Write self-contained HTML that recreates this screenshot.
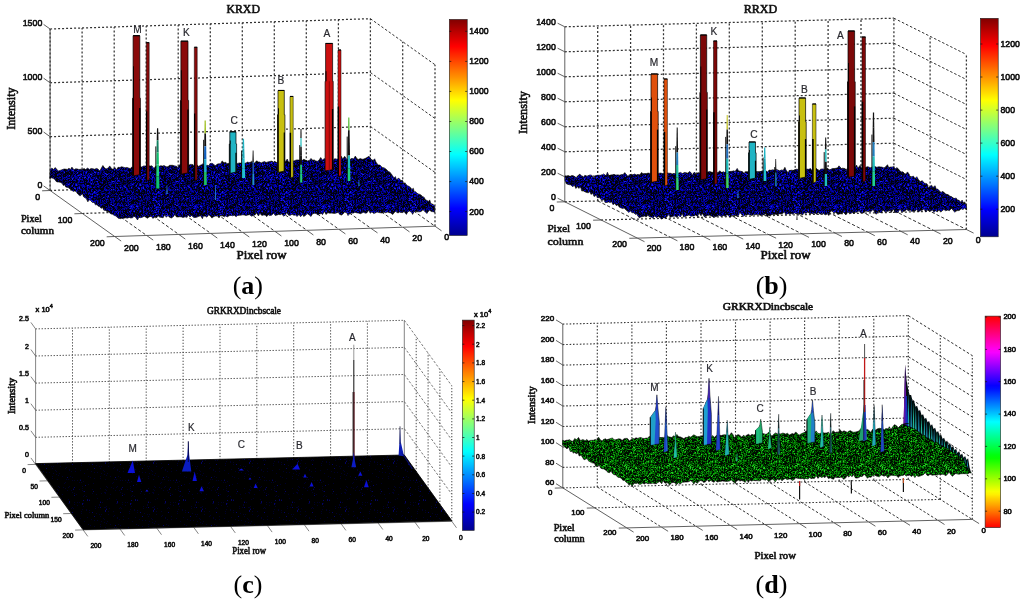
<!DOCTYPE html><html><head><meta charset="utf-8"><title>Figure</title><style>
html,body{margin:0;padding:0;background:#fff}svg{display:block}
.dot{stroke:#333;stroke-width:1.25;stroke-dasharray:2 2;fill:none}
.dash{stroke:#333;stroke-width:1;stroke-dasharray:2.5 2;fill:none}.fl{stroke-dasharray:3.2 2.1}
.sol{stroke:#444;stroke-width:0.85;fill:none}
.sans{font-family:'Liberation Sans', sans-serif}.serif{font-family:'Liberation Serif', serif}
.lt .dot{stroke:#4a4a4a;stroke-width:1;stroke-dasharray:1.3 1.7}.lt .dash{stroke:#555;stroke-width:0.8;stroke-dasharray:2.4 1.8}.lt .sol{stroke:#666;stroke-width:0.8}
.md .dot{stroke:#3a3a3a;stroke-width:1.1;stroke-dasharray:1.6 1.8}.md .dash{stroke-dasharray:2.6 2}.md .fl{stroke-dasharray:2.5 2}
text{stroke-width:0.6px;stroke-linejoin:round}
.sans{stroke:#111}.serif{stroke:#111;stroke-width:0.6px}.cap{stroke:none}
</style></head><body>
<svg width="1024" height="602" viewBox="0 0 1024 602">
<rect width="1024" height="602" fill="#fff"/>
<defs>
<pattern id="nzb" patternUnits="userSpaceOnUse" width="64" height="64" shape-rendering="crispEdges">
<rect width="64" height="64" fill="#00000a"/>
<path d="M0 0.5h1M3 0.5h1M12 0.5h1M14 0.5h2M17 0.5h1M19 0.5h1M22 0.5h1M24 0.5h1M36 0.5h2M41 0.5h1M44 0.5h1M46 0.5h1M49 0.5h1M52 0.5h1M54 0.5h1M63 0.5h1M6 1.5h2M9 1.5h2M17 1.5h1M21 1.5h1M27 1.5h1M34 1.5h1M41 1.5h1M43 1.5h1M46 1.5h2M58 1.5h2M63 1.5h1M4 2.5h1M35 2.5h1M45 2.5h2M49 2.5h1M62 2.5h1M1 3.5h1M4 3.5h1M7 3.5h1M10 3.5h1M14 3.5h3M18 3.5h1M25 3.5h1M28 3.5h1M32 3.5h1M38 3.5h1M43 3.5h1M48 3.5h2M59 3.5h1M61 3.5h2M5 4.5h1M7 4.5h1M10 4.5h1M19 4.5h1M21 4.5h2M32 4.5h2M37 4.5h1M40 4.5h2M46 4.5h5M52 4.5h2M62 4.5h2M1 5.5h1M3 5.5h1M5 5.5h2M11 5.5h1M18 5.5h1M20 5.5h1M23 5.5h1M25 5.5h2M34 5.5h3M41 5.5h1M44 5.5h2M51 5.5h1M53 5.5h2M3 6.5h1M5 6.5h1M8 6.5h1M11 6.5h1M13 6.5h1M15 6.5h2M20 6.5h2M27 6.5h1M29 6.5h1M31 6.5h1M33 6.5h1M37 6.5h1M43 6.5h1M47 6.5h1M51 6.5h4M56 6.5h1M61 6.5h1M2 7.5h1M7 7.5h1M18 7.5h1M20 7.5h1M23 7.5h1M27 7.5h1M30 7.5h1M32 7.5h1M41 7.5h1M44 7.5h1M47 7.5h2M53 7.5h1M55 7.5h1M59 7.5h1M2 8.5h1M16 8.5h1M18 8.5h1M20 8.5h1M30 8.5h1M34 8.5h1M44 8.5h1M48 8.5h1M52 8.5h1M54 8.5h1M59 8.5h1M0 9.5h1M7 9.5h1M11 9.5h1M13 9.5h2M20 9.5h1M22 9.5h1M34 9.5h1M41 9.5h1M43 9.5h2M48 9.5h1M53 9.5h1M55 9.5h1M58 9.5h2M9 10.5h1M11 10.5h2M14 10.5h1M24 10.5h2M27 10.5h1M34 10.5h1M37 10.5h4M48 10.5h1M54 10.5h1M62 10.5h2M6 11.5h1M10 11.5h1M14 11.5h1M17 11.5h2M23 11.5h1M26 11.5h1M29 11.5h1M31 11.5h1M35 11.5h2M38 11.5h2M43 11.5h1M45 11.5h3M50 11.5h1M55 11.5h1M58 11.5h1M60 11.5h1M63 11.5h1M3 12.5h1M8 12.5h2M12 12.5h1M16 12.5h1M27 12.5h1M39 12.5h1M44 12.5h1M49 12.5h1M51 12.5h1M54 12.5h2M60 12.5h1M5 13.5h2M10 13.5h2M13 13.5h1M17 13.5h2M23 13.5h2M32 13.5h1M35 13.5h1M39 13.5h2M50 13.5h1M52 13.5h1M54 13.5h1M59 13.5h1M7 14.5h1M11 14.5h2M16 14.5h1M21 14.5h1M27 14.5h1M32 14.5h2M35 14.5h1M41 14.5h1M45 14.5h1M60 14.5h1M63 14.5h1M10 15.5h1M12 15.5h2M16 15.5h1M23 15.5h1M36 15.5h1M43 15.5h1M46 15.5h1M50 15.5h1M53 15.5h1M60 15.5h1M62 15.5h2M6 16.5h1M9 16.5h1M11 16.5h1M14 16.5h1M19 16.5h1M21 16.5h1M29 16.5h2M40 16.5h1M44 16.5h2M47 16.5h1M53 16.5h1M56 16.5h1M61 16.5h1M63 16.5h1M3 17.5h1M5 17.5h1M10 17.5h1M12 17.5h1M16 17.5h1M19 17.5h1M21 17.5h3M34 17.5h1M38 17.5h1M43 17.5h1M46 17.5h1M48 17.5h1M50 17.5h1M54 17.5h2M58 17.5h2M62 17.5h1M0 18.5h1M5 18.5h1M11 18.5h1M13 18.5h1M18 18.5h1M22 18.5h2M33 18.5h2M39 18.5h1M42 18.5h1M44 18.5h1M48 18.5h1M54 18.5h1M58 18.5h1M63 18.5h1M13 19.5h1M17 19.5h2M20 19.5h2M24 19.5h1M26 19.5h1M35 19.5h1M42 19.5h1M46 19.5h1M49 19.5h2M57 19.5h1M63 19.5h1M0 20.5h2M6 20.5h1M8 20.5h1M12 20.5h1M16 20.5h1M18 20.5h1M25 20.5h1M29 20.5h1M36 20.5h3M41 20.5h1M45 20.5h1M50 20.5h2M0 21.5h1M3 21.5h1M10 21.5h1M15 21.5h1M19 21.5h1M28 21.5h1M32 21.5h1M36 21.5h1M44 21.5h1M46 21.5h2M60 21.5h1M1 22.5h2M16 22.5h1M19 22.5h1M22 22.5h1M27 22.5h1M30 22.5h1M33 22.5h1M36 22.5h2M41 22.5h1M43 22.5h2M51 22.5h1M53 22.5h1M3 23.5h2M7 23.5h1M15 23.5h1M19 23.5h1M23 23.5h2M29 23.5h1M42 23.5h1M45 23.5h2M57 23.5h1M61 23.5h1M0 24.5h1M2 24.5h1M4 24.5h1M9 24.5h1M30 24.5h2M33 24.5h1M35 24.5h3M40 24.5h1M46 24.5h1M51 24.5h4M56 24.5h1M58 24.5h2M63 24.5h1M2 25.5h2M5 25.5h1M8 25.5h3M17 25.5h1M28 25.5h1M31 25.5h2M38 25.5h1M47 25.5h1M50 25.5h1M54 25.5h1M58 25.5h1M63 25.5h1M4 26.5h5M10 26.5h1M15 26.5h1M19 26.5h1M22 26.5h1M24 26.5h1M31 26.5h1M33 26.5h1M36 26.5h2M39 26.5h1M42 26.5h1M47 26.5h1M50 26.5h1M55 26.5h1M59 26.5h1M2 27.5h1M5 27.5h1M9 27.5h1M18 27.5h1M22 27.5h1M25 27.5h1M28 27.5h4M34 27.5h1M36 27.5h1M42 27.5h1M45 27.5h1M50 27.5h1M0 28.5h1M5 28.5h1M7 28.5h1M9 28.5h3M13 28.5h1M16 28.5h1M23 28.5h3M29 28.5h2M34 28.5h2M38 28.5h1M50 28.5h1M52 28.5h1M2 29.5h1M5 29.5h2M8 29.5h1M10 29.5h1M14 29.5h1M25 29.5h1M31 29.5h1M34 29.5h1M37 29.5h1M44 29.5h1M46 29.5h1M48 29.5h2M53 29.5h1M55 29.5h1M63 29.5h1M5 30.5h1M7 30.5h1M19 30.5h2M24 30.5h1M33 30.5h1M35 30.5h1M41 30.5h2M49 30.5h1M54 30.5h1M57 30.5h1M0 31.5h1M4 31.5h1M18 31.5h2M24 31.5h2M28 31.5h1M31 31.5h1M38 31.5h1M42 31.5h2M49 31.5h2M58 31.5h1M60 31.5h1M0 32.5h1M2 32.5h1M4 32.5h2M9 32.5h2M12 32.5h1M14 32.5h1M18 32.5h1M21 32.5h1M26 32.5h1M30 32.5h1M32 32.5h1M39 32.5h3M53 32.5h1M61 32.5h1M2 33.5h1M4 33.5h1M17 33.5h1M27 33.5h1M34 33.5h1M39 33.5h3M47 33.5h1M53 33.5h1M60 33.5h1M3 34.5h1M7 34.5h1M10 34.5h1M13 34.5h2M17 34.5h1M23 34.5h2M40 34.5h1M44 34.5h1M46 34.5h1M52 34.5h1M60 34.5h2M0 35.5h1M2 35.5h1M11 35.5h1M16 35.5h1M22 35.5h1M30 35.5h1M32 35.5h1M35 35.5h1M40 35.5h1M58 35.5h1M60 35.5h1M0 36.5h1M3 36.5h1M5 36.5h1M7 36.5h1M9 36.5h1M13 36.5h1M19 36.5h2M22 36.5h1M26 36.5h1M28 36.5h1M34 36.5h1M40 36.5h2M43 36.5h1M45 36.5h2M53 36.5h1M63 36.5h1M2 37.5h1M15 37.5h1M20 37.5h1M22 37.5h1M24 37.5h1M29 37.5h1M36 37.5h2M41 37.5h1M50 37.5h2M63 37.5h1M2 38.5h1M7 38.5h2M12 38.5h1M15 38.5h1M20 38.5h1M23 38.5h2M27 38.5h1M32 38.5h1M36 38.5h1M43 38.5h1M50 38.5h1M57 38.5h1M61 38.5h1M6 39.5h1M11 39.5h1M21 39.5h1M23 39.5h1M26 39.5h1M28 39.5h1M37 39.5h1M40 39.5h2M44 39.5h1M49 39.5h1M51 39.5h1M53 39.5h1M56 39.5h1M61 39.5h1M8 40.5h1M14 40.5h1M18 40.5h1M23 40.5h1M32 40.5h1M43 40.5h1M45 40.5h4M52 40.5h1M55 40.5h1M62 40.5h1M4 41.5h1M6 41.5h1M8 41.5h2M11 41.5h2M22 41.5h1M27 41.5h3M31 41.5h1M33 41.5h1M37 41.5h1M39 41.5h1M41 41.5h1M49 41.5h1M60 41.5h1M62 41.5h1M3 42.5h1M5 42.5h1M15 42.5h3M19 42.5h1M22 42.5h1M24 42.5h1M26 42.5h1M28 42.5h1M38 42.5h1M44 42.5h2M47 42.5h2M52 42.5h1M59 42.5h1M63 42.5h1M3 43.5h2M7 43.5h2M11 43.5h1M14 43.5h2M17 43.5h1M21 43.5h1M25 43.5h1M27 43.5h1M29 43.5h1M31 43.5h2M37 43.5h1M39 43.5h1M42 43.5h1M45 43.5h1M47 43.5h1M55 43.5h1M57 43.5h1M60 43.5h1M62 43.5h1M11 44.5h1M14 44.5h1M27 44.5h2M32 44.5h1M35 44.5h1M37 44.5h1M49 44.5h1M54 44.5h1M60 44.5h1M63 44.5h1M0 45.5h1M6 45.5h1M17 45.5h1M26 45.5h2M35 45.5h1M38 45.5h1M52 45.5h2M58 45.5h1M61 45.5h3M2 46.5h1M4 46.5h1M8 46.5h2M14 46.5h1M23 46.5h1M28 46.5h1M31 46.5h1M35 46.5h2M40 46.5h2M44 46.5h1M48 46.5h1M52 46.5h2M0 47.5h1M4 47.5h1M7 47.5h1M17 47.5h2M21 47.5h2M24 47.5h1M29 47.5h2M37 47.5h1M48 47.5h1M54 47.5h1M58 47.5h1M61 47.5h2M3 48.5h1M8 48.5h1M13 48.5h2M20 48.5h1M31 48.5h2M35 48.5h1M40 48.5h1M45 48.5h4M52 48.5h1M54 48.5h1M59 48.5h1M61 48.5h1M3 49.5h1M6 49.5h1M8 49.5h1M10 49.5h1M19 49.5h1M28 49.5h1M31 49.5h1M37 49.5h1M46 49.5h1M51 49.5h2M56 49.5h1M58 49.5h1M63 49.5h1M0 50.5h2M7 50.5h1M13 50.5h2M16 50.5h1M18 50.5h1M27 50.5h1M29 50.5h1M31 50.5h1M33 50.5h1M35 50.5h1M50 50.5h1M52 50.5h1M59 50.5h1M6 51.5h1M10 51.5h2M21 51.5h1M38 51.5h2M50 51.5h1M52 51.5h1M55 51.5h1M59 51.5h1M61 51.5h1M3 52.5h1M6 52.5h1M17 52.5h1M19 52.5h1M34 52.5h1M39 52.5h1M41 52.5h1M43 52.5h1M60 52.5h1M62 52.5h1M2 53.5h3M11 53.5h1M17 53.5h1M23 53.5h1M30 53.5h2M36 53.5h1M38 53.5h1M42 53.5h1M45 53.5h1M56 53.5h1M58 53.5h1M62 53.5h1M0 54.5h1M3 54.5h1M5 54.5h1M10 54.5h1M13 54.5h1M15 54.5h1M24 54.5h1M42 54.5h1M51 54.5h1M56 54.5h3M60 54.5h3M4 55.5h1M13 55.5h2M28 55.5h1M37 55.5h1M41 55.5h1M44 55.5h1M46 55.5h1M48 55.5h1M50 55.5h1M54 55.5h2M57 55.5h1M62 55.5h2M0 56.5h3M8 56.5h1M13 56.5h1M16 56.5h2M26 56.5h1M28 56.5h1M44 56.5h1M57 56.5h2M60 56.5h2M1 57.5h1M4 57.5h2M7 57.5h1M15 57.5h2M22 57.5h1M25 57.5h2M31 57.5h2M34 57.5h1M39 57.5h1M43 57.5h1M52 57.5h1M55 57.5h1M57 57.5h1M1 58.5h1M3 58.5h2M10 58.5h1M14 58.5h1M17 58.5h1M21 58.5h2M24 58.5h1M27 58.5h1M31 58.5h1M35 58.5h1M42 58.5h2M47 58.5h1M55 58.5h3M1 59.5h1M4 59.5h1M6 59.5h1M11 59.5h1M31 59.5h2M35 59.5h1M38 59.5h1M41 59.5h1M43 59.5h1M45 59.5h1M55 59.5h1M2 60.5h1M4 60.5h2M8 60.5h1M16 60.5h1M22 60.5h1M30 60.5h1M45 60.5h1M49 60.5h1M54 60.5h1M59 60.5h2M5 61.5h2M9 61.5h1M15 61.5h1M19 61.5h2M32 61.5h1M34 61.5h1M43 61.5h2M48 61.5h1M51 61.5h1M57 61.5h1M1 62.5h1M3 62.5h1M5 62.5h1M13 62.5h2M21 62.5h1M23 62.5h1M33 62.5h1M39 62.5h2M45 62.5h1M48 62.5h3M56 62.5h4M7 63.5h1M9 63.5h1M13 63.5h1M17 63.5h1M23 63.5h1M25 63.5h1M28 63.5h1M37 63.5h1M42 63.5h1M47 63.5h1M49 63.5h1M51 63.5h1M59 63.5h2M62 63.5h1" stroke="#000054" stroke-width="1" fill="none"/>
<path d="M1 0.5h1M21 0.5h1M25 0.5h1M31 0.5h1M33 0.5h1M56 0.5h4M61 0.5h1M8 1.5h1M20 1.5h1M22 1.5h1M26 1.5h1M29 1.5h2M32 1.5h1M37 1.5h2M40 1.5h1M45 1.5h1M51 1.5h2M57 1.5h1M61 1.5h1M5 2.5h1M8 2.5h1M12 2.5h1M14 2.5h1M16 2.5h3M20 2.5h1M27 2.5h1M32 2.5h1M34 2.5h1M37 2.5h1M41 2.5h2M48 2.5h1M50 2.5h1M53 2.5h1M56 2.5h2M60 2.5h1M2 3.5h1M6 3.5h1M21 3.5h1M30 3.5h2M33 3.5h1M41 3.5h1M47 3.5h1M54 3.5h1M60 3.5h1M1 4.5h1M3 4.5h2M6 4.5h1M8 4.5h1M18 4.5h1M20 4.5h1M26 4.5h2M35 4.5h1M42 4.5h2M54 4.5h1M0 5.5h1M4 5.5h1M9 5.5h1M15 5.5h1M17 5.5h1M19 5.5h1M33 5.5h1M40 5.5h1M55 5.5h1M58 5.5h1M4 6.5h1M7 6.5h1M17 6.5h3M22 6.5h1M24 6.5h1M30 6.5h1M41 6.5h1M46 6.5h1M58 6.5h1M63 6.5h1M1 7.5h1M4 7.5h1M6 7.5h1M9 7.5h1M13 7.5h1M15 7.5h2M19 7.5h1M21 7.5h1M36 7.5h1M49 7.5h1M51 7.5h1M57 7.5h1M61 7.5h1M63 7.5h1M3 8.5h1M10 8.5h5M19 8.5h1M26 8.5h1M28 8.5h1M31 8.5h3M42 8.5h1M46 8.5h2M49 8.5h1M53 8.5h1M56 8.5h1M58 8.5h1M61 8.5h1M63 8.5h1M2 9.5h1M12 9.5h1M18 9.5h1M21 9.5h1M29 9.5h1M31 9.5h1M36 9.5h1M38 9.5h2M42 9.5h1M47 9.5h1M49 9.5h2M61 9.5h3M0 10.5h1M6 10.5h1M8 10.5h1M16 10.5h1M28 10.5h2M31 10.5h1M36 10.5h1M46 10.5h1M49 10.5h1M57 10.5h1M2 11.5h1M21 11.5h2M25 11.5h1M33 11.5h1M41 11.5h1M49 11.5h1M51 11.5h1M53 11.5h1M61 11.5h1M0 12.5h1M4 12.5h2M7 12.5h1M11 12.5h1M14 12.5h2M18 12.5h1M20 12.5h1M26 12.5h1M30 12.5h1M36 12.5h1M38 12.5h1M56 12.5h1M58 12.5h1M62 12.5h1M2 13.5h1M9 13.5h1M16 13.5h1M21 13.5h1M36 13.5h2M44 13.5h1M57 13.5h1M61 13.5h1M63 13.5h1M4 14.5h1M10 14.5h1M24 14.5h1M28 14.5h3M36 14.5h1M44 14.5h1M46 14.5h1M50 14.5h1M52 14.5h1M56 14.5h1M58 14.5h2M0 15.5h1M2 15.5h1M4 15.5h1M24 15.5h1M27 15.5h1M31 15.5h1M44 15.5h2M51 15.5h2M61 15.5h1M3 16.5h1M16 16.5h1M18 16.5h1M27 16.5h2M32 16.5h1M42 16.5h2M48 16.5h1M51 16.5h2M58 16.5h3M4 17.5h1M7 17.5h2M15 17.5h1M29 17.5h2M33 17.5h1M36 17.5h2M39 17.5h1M42 17.5h1M45 17.5h1M57 17.5h1M2 18.5h1M6 18.5h1M12 18.5h1M21 18.5h1M27 18.5h2M49 18.5h1M53 18.5h1M56 18.5h1M3 19.5h1M11 19.5h1M15 19.5h2M25 19.5h1M27 19.5h1M29 19.5h1M34 19.5h1M40 19.5h1M53 19.5h4M11 20.5h1M30 20.5h1M32 20.5h1M34 20.5h1M42 20.5h1M56 20.5h1M58 20.5h1M2 21.5h1M4 21.5h1M17 21.5h1M24 21.5h2M30 21.5h1M37 21.5h1M42 21.5h1M51 21.5h1M56 21.5h1M59 21.5h1M4 22.5h1M7 22.5h1M15 22.5h1M31 22.5h1M34 22.5h1M47 22.5h1M49 22.5h2M54 22.5h1M57 22.5h2M0 23.5h1M9 23.5h1M16 23.5h2M20 23.5h1M33 23.5h1M37 23.5h1M41 23.5h1M51 23.5h2M54 23.5h1M59 23.5h1M1 24.5h1M5 24.5h1M7 24.5h1M14 24.5h1M16 24.5h1M25 24.5h1M32 24.5h1M34 24.5h1M44 24.5h1M57 24.5h1M4 25.5h1M13 25.5h1M16 25.5h1M20 25.5h1M22 25.5h1M24 25.5h1M29 25.5h1M55 25.5h1M62 25.5h1M9 26.5h1M20 26.5h1M23 26.5h1M25 26.5h1M27 26.5h1M30 26.5h1M34 26.5h1M40 26.5h1M49 26.5h1M58 26.5h1M63 26.5h1M10 27.5h5M16 27.5h1M21 27.5h1M26 27.5h1M32 27.5h1M35 27.5h1M43 27.5h2M54 27.5h1M62 27.5h2M12 28.5h1M18 28.5h2M21 28.5h2M28 28.5h1M31 28.5h1M33 28.5h1M40 28.5h1M43 28.5h2M46 28.5h1M54 28.5h1M56 28.5h1M59 28.5h1M7 29.5h1M11 29.5h2M18 29.5h1M26 29.5h2M32 29.5h1M38 29.5h1M41 29.5h2M45 29.5h1M58 29.5h3M3 30.5h1M6 30.5h1M10 30.5h2M15 30.5h2M21 30.5h1M34 30.5h1M40 30.5h1M50 30.5h1M52 30.5h1M59 30.5h1M2 31.5h1M7 31.5h3M15 31.5h1M17 31.5h1M21 31.5h1M23 31.5h1M26 31.5h1M32 31.5h1M34 31.5h1M46 31.5h1M54 31.5h1M1 32.5h1M7 32.5h1M11 32.5h1M15 32.5h2M31 32.5h1M36 32.5h1M46 32.5h1M51 32.5h1M55 32.5h1M62 32.5h1M6 33.5h1M9 33.5h1M21 33.5h1M25 33.5h2M37 33.5h1M51 33.5h1M54 33.5h1M61 33.5h2M5 34.5h1M8 34.5h1M11 34.5h1M16 34.5h1M18 34.5h1M35 34.5h1M37 34.5h2M48 34.5h3M57 34.5h1M62 34.5h1M3 35.5h2M6 35.5h1M8 35.5h1M13 35.5h1M24 35.5h1M29 35.5h1M34 35.5h1M39 35.5h1M42 35.5h1M44 35.5h1M46 35.5h1M50 35.5h3M54 35.5h1M59 35.5h1M63 35.5h1M1 36.5h1M4 36.5h1M10 36.5h1M12 36.5h1M18 36.5h1M24 36.5h1M27 36.5h1M33 36.5h1M37 36.5h1M39 36.5h1M44 36.5h1M49 36.5h1M56 36.5h2M60 36.5h2M3 37.5h2M7 37.5h1M17 37.5h2M28 37.5h1M45 37.5h1M54 37.5h1M62 37.5h1M3 38.5h1M13 38.5h1M29 38.5h1M42 38.5h1M47 38.5h1M1 39.5h1M5 39.5h1M7 39.5h1M9 39.5h1M18 39.5h1M25 39.5h1M31 39.5h3M36 39.5h1M38 39.5h1M42 39.5h1M45 39.5h1M50 39.5h1M52 39.5h1M55 39.5h1M0 40.5h1M21 40.5h1M24 40.5h2M27 40.5h1M31 40.5h1M38 40.5h2M41 40.5h1M49 40.5h1M56 40.5h1M63 40.5h1M3 41.5h1M5 41.5h1M10 41.5h1M17 41.5h1M32 41.5h1M40 41.5h1M51 41.5h1M53 41.5h2M57 41.5h1M63 41.5h1M7 42.5h1M18 42.5h1M34 42.5h1M36 42.5h2M39 42.5h1M46 42.5h1M53 42.5h2M56 42.5h1M58 42.5h1M61 42.5h1M0 43.5h1M2 43.5h1M9 43.5h2M12 43.5h1M16 43.5h1M19 43.5h2M23 43.5h1M36 43.5h1M40 43.5h1M52 43.5h1M58 43.5h1M63 43.5h1M5 44.5h1M9 44.5h1M33 44.5h1M36 44.5h1M39 44.5h2M50 44.5h1M53 44.5h1M56 44.5h1M9 45.5h2M12 45.5h1M16 45.5h1M21 45.5h1M24 45.5h2M28 45.5h2M31 45.5h1M33 45.5h2M36 45.5h1M40 45.5h1M42 45.5h1M44 45.5h2M49 45.5h2M54 45.5h1M59 45.5h1M15 46.5h1M19 46.5h1M21 46.5h1M30 46.5h1M33 46.5h1M38 46.5h1M47 46.5h1M49 46.5h1M51 46.5h1M58 46.5h2M62 46.5h1M3 47.5h1M8 47.5h1M11 47.5h1M16 47.5h1M27 47.5h2M42 47.5h1M45 47.5h1M47 47.5h1M49 47.5h2M53 47.5h1M4 48.5h2M7 48.5h1M10 48.5h1M12 48.5h1M16 48.5h2M21 48.5h1M23 48.5h2M38 48.5h2M42 48.5h1M44 48.5h1M62 48.5h1M1 49.5h1M7 49.5h1M11 49.5h3M16 49.5h1M26 49.5h1M29 49.5h1M32 49.5h1M35 49.5h1M38 49.5h1M40 49.5h1M43 49.5h1M47 49.5h1M53 49.5h1M57 49.5h1M59 49.5h1M62 49.5h1M3 50.5h1M9 50.5h1M11 50.5h2M22 50.5h2M30 50.5h1M39 50.5h1M43 50.5h4M55 50.5h1M58 50.5h1M62 50.5h2M0 51.5h1M3 51.5h1M13 51.5h1M15 51.5h1M17 51.5h1M24 51.5h1M26 51.5h1M31 51.5h1M33 51.5h2M43 51.5h1M53 51.5h1M60 51.5h1M62 51.5h1M9 52.5h1M11 52.5h1M14 52.5h1M18 52.5h1M26 52.5h1M35 52.5h1M44 52.5h1M47 52.5h1M53 52.5h1M55 52.5h1M58 52.5h1M61 52.5h1M1 53.5h1M14 53.5h2M19 53.5h1M21 53.5h1M26 53.5h1M28 53.5h1M47 53.5h1M51 53.5h1M54 53.5h1M16 54.5h1M18 54.5h2M23 54.5h1M25 54.5h2M28 54.5h1M30 54.5h1M33 54.5h1M36 54.5h2M44 54.5h5M50 54.5h1M52 54.5h1M2 55.5h2M6 55.5h1M11 55.5h2M21 55.5h1M26 55.5h1M33 55.5h1M38 55.5h1M42 55.5h1M47 55.5h1M51 55.5h2M56 55.5h1M3 56.5h1M9 56.5h1M14 56.5h2M18 56.5h1M21 56.5h1M29 56.5h1M31 56.5h3M40 56.5h1M47 56.5h1M51 56.5h1M62 56.5h1M0 57.5h1M3 57.5h1M13 57.5h1M17 57.5h2M20 57.5h1M35 57.5h2M42 57.5h1M45 57.5h2M51 57.5h1M54 57.5h1M59 57.5h3M0 58.5h1M7 58.5h1M18 58.5h1M25 58.5h1M30 58.5h1M38 58.5h1M48 58.5h1M59 58.5h1M61 58.5h1M9 59.5h1M14 59.5h1M20 59.5h1M24 59.5h2M27 59.5h1M34 59.5h1M37 59.5h1M40 59.5h1M47 59.5h3M51 59.5h3M57 59.5h2M60 59.5h1M62 59.5h1M1 60.5h1M14 60.5h1M19 60.5h1M25 60.5h1M40 60.5h2M46 60.5h1M51 60.5h1M58 60.5h1M63 60.5h1M11 61.5h1M17 61.5h1M27 61.5h1M31 61.5h1M35 61.5h1M41 61.5h1M45 61.5h1M50 61.5h1M0 62.5h1M2 62.5h1M9 62.5h1M34 62.5h1M43 62.5h2M46 62.5h2M55 62.5h1M62 62.5h2M1 63.5h1M5 63.5h1M19 63.5h1M31 63.5h1M33 63.5h1M38 63.5h2M45 63.5h1M53 63.5h1M61 63.5h1M63 63.5h1" stroke="#000098" stroke-width="1" fill="none"/>
<path d="M4 0.5h2M29 0.5h1M32 0.5h1M45 0.5h1M4 1.5h1M19 1.5h1M24 1.5h2M28 1.5h1M31 1.5h1M39 1.5h1M44 1.5h1M62 1.5h1M3 2.5h1M9 2.5h1M24 2.5h1M26 2.5h1M38 2.5h1M52 2.5h1M55 2.5h1M0 3.5h1M44 3.5h1M58 3.5h1M63 3.5h1M11 4.5h2M15 4.5h1M25 4.5h1M28 4.5h1M30 4.5h2M51 4.5h1M2 5.5h1M8 5.5h1M21 5.5h1M28 5.5h1M43 5.5h1M61 5.5h1M63 5.5h1M6 6.5h1M26 6.5h1M38 6.5h1M48 6.5h2M60 6.5h1M0 7.5h1M25 7.5h2M42 7.5h2M46 7.5h1M54 7.5h1M58 7.5h1M0 8.5h1M24 8.5h1M36 8.5h1M38 8.5h1M40 8.5h1M50 8.5h1M1 9.5h1M30 9.5h1M33 9.5h1M15 10.5h1M18 10.5h1M22 10.5h1M33 10.5h1M42 10.5h1M47 10.5h1M0 11.5h1M9 11.5h1M11 11.5h2M40 11.5h1M54 11.5h1M57 11.5h1M1 12.5h1M6 12.5h1M29 12.5h1M34 12.5h1M37 12.5h1M46 12.5h1M50 12.5h1M53 12.5h1M0 13.5h1M3 13.5h2M8 13.5h1M12 13.5h1M27 13.5h1M33 13.5h1M53 13.5h1M55 13.5h2M58 13.5h1M1 14.5h2M5 14.5h1M15 14.5h1M26 14.5h1M42 14.5h1M51 14.5h1M3 15.5h1M5 15.5h2M9 15.5h1M15 15.5h1M17 15.5h1M20 15.5h1M22 15.5h1M29 15.5h2M47 15.5h1M1 16.5h1M4 16.5h1M8 16.5h1M10 16.5h1M15 16.5h1M23 16.5h1M26 16.5h1M37 16.5h1M62 16.5h1M18 17.5h1M20 17.5h1M31 17.5h1M40 17.5h1M44 17.5h1M47 17.5h1M52 17.5h1M60 17.5h1M3 18.5h1M9 18.5h1M15 18.5h1M24 18.5h1M26 18.5h1M30 18.5h1M35 18.5h2M45 18.5h1M2 19.5h1M5 19.5h1M23 19.5h1M37 19.5h2M48 19.5h1M51 19.5h2M58 19.5h1M60 19.5h1M2 20.5h1M15 20.5h1M19 20.5h1M26 20.5h1M28 20.5h1M44 20.5h1M48 20.5h1M52 20.5h1M63 20.5h1M18 21.5h1M21 21.5h1M34 21.5h1M38 21.5h2M50 21.5h1M53 21.5h2M13 22.5h1M18 22.5h1M29 22.5h1M45 22.5h1M61 22.5h1M14 23.5h1M22 23.5h1M27 23.5h1M40 23.5h1M44 23.5h1M50 23.5h1M62 23.5h1M10 24.5h1M12 24.5h1M24 24.5h1M38 24.5h1M42 24.5h1M12 25.5h1M14 25.5h1M36 25.5h1M41 25.5h1M44 25.5h1M53 25.5h1M1 26.5h1M12 26.5h1M32 26.5h1M41 26.5h1M51 26.5h1M53 26.5h1M62 26.5h1M6 27.5h1M17 27.5h1M20 27.5h1M27 27.5h1M41 27.5h1M51 27.5h2M4 28.5h1M32 28.5h1M37 28.5h1M42 28.5h1M48 28.5h2M62 28.5h1M16 29.5h1M19 29.5h1M29 29.5h2M43 29.5h1M57 29.5h1M61 29.5h1M17 30.5h1M22 30.5h1M25 30.5h2M32 30.5h1M47 30.5h2M61 30.5h1M1 31.5h1M3 31.5h1M35 31.5h1M53 31.5h1M59 31.5h1M62 31.5h1M13 32.5h1M23 32.5h1M28 32.5h2M35 32.5h1M45 32.5h1M12 33.5h2M42 33.5h1M46 33.5h1M56 33.5h1M58 33.5h1M51 34.5h1M54 34.5h1M56 34.5h1M14 35.5h1M18 35.5h4M25 35.5h1M57 35.5h1M2 36.5h1M11 36.5h1M16 36.5h1M21 36.5h1M29 36.5h1M32 36.5h1M48 36.5h1M52 36.5h1M54 36.5h2M1 37.5h1M11 37.5h1M13 37.5h1M19 37.5h1M26 37.5h2M32 37.5h1M46 37.5h1M48 37.5h1M52 37.5h1M60 37.5h1M9 38.5h1M16 38.5h1M26 38.5h1M30 38.5h1M35 38.5h1M46 38.5h1M49 38.5h1M60 38.5h1M62 38.5h1M3 39.5h1M14 39.5h1M17 39.5h1M29 39.5h2M59 39.5h1M19 40.5h1M36 40.5h1M58 40.5h1M60 40.5h1M7 41.5h1M14 41.5h1M25 41.5h1M38 41.5h1M43 41.5h1M55 41.5h1M4 42.5h1M13 42.5h2M29 42.5h1M50 42.5h1M57 42.5h1M60 42.5h1M62 42.5h1M22 43.5h1M30 43.5h1M48 43.5h1M61 43.5h1M19 44.5h1M21 44.5h1M47 44.5h1M13 45.5h1M19 45.5h1M22 45.5h1M11 46.5h1M16 46.5h1M24 46.5h1M34 46.5h1M39 46.5h1M46 46.5h1M57 46.5h1M60 46.5h1M10 47.5h1M13 47.5h1M15 47.5h1M19 47.5h2M23 47.5h1M25 47.5h1M40 47.5h1M57 47.5h1M2 48.5h1M11 48.5h1M25 48.5h1M27 48.5h1M41 48.5h1M0 49.5h1M2 49.5h1M9 49.5h1M18 49.5h1M25 49.5h1M30 49.5h1M45 49.5h1M60 49.5h1M4 50.5h2M15 50.5h1M20 50.5h1M24 50.5h1M26 50.5h1M51 50.5h1M2 51.5h1M16 51.5h1M18 51.5h1M23 51.5h1M27 51.5h3M40 51.5h1M5 52.5h1M7 52.5h1M10 52.5h1M15 52.5h1M24 52.5h1M28 52.5h1M38 52.5h1M51 52.5h1M24 53.5h1M32 53.5h1M50 53.5h1M53 53.5h1M55 53.5h1M7 54.5h1M14 54.5h1M17 54.5h1M38 54.5h1M5 55.5h1M9 55.5h1M29 55.5h1M34 55.5h1M49 55.5h1M5 56.5h1M11 56.5h1M19 56.5h1M27 56.5h1M34 56.5h1M45 56.5h2M2 57.5h1M11 57.5h1M19 57.5h1M56 57.5h1M8 58.5h1M15 58.5h1M19 58.5h2M23 58.5h1M26 58.5h1M33 58.5h2M41 58.5h1M46 58.5h1M51 58.5h1M10 59.5h1M13 59.5h1M18 59.5h1M23 59.5h1M26 59.5h1M29 59.5h2M44 59.5h1M3 60.5h1M13 60.5h1M23 60.5h1M53 60.5h1M56 60.5h1M62 60.5h1M13 61.5h1M16 61.5h1M23 61.5h1M28 61.5h1M40 61.5h1M42 61.5h1M54 61.5h1M58 61.5h1M62 61.5h2M8 62.5h1M12 62.5h1M17 62.5h1M19 62.5h2M24 62.5h1M27 62.5h1M32 62.5h1M35 62.5h2M41 62.5h2M51 62.5h1M53 62.5h2M0 63.5h1M3 63.5h1M12 63.5h1M21 63.5h1M27 63.5h1M34 63.5h1" stroke="#0505c8" stroke-width="1" fill="none"/>
<path d="M30 0.5h1M28 2.5h1M33 2.5h1M57 3.5h1M44 4.5h1M12 5.5h1M27 5.5h1M39 5.5h1M2 6.5h1M25 6.5h1M55 6.5h1M59 6.5h1M25 8.5h1M27 8.5h1M28 9.5h1M30 11.5h1M31 12.5h1M47 12.5h1M26 13.5h1M31 13.5h1M48 13.5h2M62 13.5h1M3 14.5h1M8 14.5h2M28 15.5h1M32 15.5h1M2 16.5h1M20 16.5h1M28 17.5h1M40 18.5h1M1 19.5h1M6 19.5h1M12 19.5h1M30 19.5h1M27 20.5h1M54 20.5h1M35 21.5h1M45 21.5h1M28 22.5h1M39 22.5h1M25 23.5h1M34 23.5h1M38 23.5h2M29 24.5h1M39 24.5h1M40 25.5h1M51 25.5h1M16 26.5h1M41 28.5h1M45 28.5h1M60 28.5h1M17 29.5h1M33 29.5h1M56 29.5h1M2 30.5h1M60 30.5h1M16 31.5h1M3 33.5h1M15 34.5h1M15 35.5h1M6 36.5h1M8 36.5h1M51 36.5h1M6 37.5h1M24 39.5h1M60 39.5h1M30 40.5h1M42 40.5h1M51 40.5h1M50 41.5h1M8 42.5h2M0 44.5h1M13 44.5h1M22 44.5h1M30 44.5h2M34 44.5h1M41 45.5h1M17 46.5h1M26 46.5h2M42 46.5h2M5 47.5h1M14 47.5h1M49 48.5h1M15 49.5h1M20 49.5h2M24 49.5h1M8 50.5h1M32 50.5h1M53 50.5h1M8 51.5h1M14 51.5h1M27 52.5h1M54 52.5h1M33 53.5h1M48 53.5h2M27 55.5h1M53 55.5h1M4 56.5h1M12 56.5h1M8 57.5h1M12 57.5h1M23 57.5h2M60 58.5h1M3 59.5h1M15 59.5h1M56 59.5h1M61 59.5h1M10 60.5h2M15 60.5h1M47 61.5h1M49 61.5h1M30 63.5h1" stroke="#1c1cee" stroke-width="1" fill="none"/>
</pattern>
<pattern id="nzg" patternUnits="userSpaceOnUse" width="64" height="64" shape-rendering="crispEdges">
<rect width="64" height="64" fill="#000800"/>
<path d="M4 0.5h1M7 0.5h1M12 0.5h1M16 0.5h1M19 0.5h2M35 0.5h1M37 0.5h1M45 0.5h1M47 0.5h1M49 0.5h1M51 0.5h1M59 0.5h1M4 1.5h1M13 1.5h2M22 1.5h1M28 1.5h1M30 1.5h2M34 1.5h2M40 1.5h1M43 1.5h1M46 1.5h1M50 1.5h1M0 2.5h1M3 2.5h1M18 2.5h1M24 2.5h2M29 2.5h2M32 2.5h2M35 2.5h1M38 2.5h1M40 2.5h1M45 2.5h2M49 2.5h2M59 2.5h2M0 3.5h2M14 3.5h1M16 3.5h1M20 3.5h1M22 3.5h1M37 3.5h1M47 3.5h1M54 3.5h1M58 3.5h1M61 3.5h1M3 4.5h1M7 4.5h1M11 4.5h2M17 4.5h1M25 4.5h1M29 4.5h1M31 4.5h2M43 4.5h1M47 4.5h2M58 4.5h1M61 4.5h1M2 5.5h1M9 5.5h1M15 5.5h2M27 5.5h1M30 5.5h1M39 5.5h1M41 5.5h1M44 5.5h1M46 5.5h2M56 5.5h1M62 5.5h2M4 6.5h2M8 6.5h2M16 6.5h1M18 6.5h1M30 6.5h2M36 6.5h1M41 6.5h1M55 6.5h2M58 6.5h1M63 6.5h1M4 7.5h1M11 7.5h1M18 7.5h2M28 7.5h1M30 7.5h1M33 7.5h1M35 7.5h1M39 7.5h1M42 7.5h1M48 7.5h1M50 7.5h2M54 7.5h1M56 7.5h1M58 7.5h1M22 8.5h1M25 8.5h1M28 8.5h2M31 8.5h1M37 8.5h1M47 8.5h1M49 8.5h1M55 8.5h1M57 8.5h1M2 9.5h1M12 9.5h1M17 9.5h1M20 9.5h1M26 9.5h1M29 9.5h1M39 9.5h2M50 9.5h1M59 9.5h1M61 9.5h1M63 9.5h1M12 10.5h1M15 10.5h1M17 10.5h1M21 10.5h1M23 10.5h1M27 10.5h1M36 10.5h1M40 10.5h1M45 10.5h1M47 10.5h2M53 10.5h2M57 10.5h2M61 10.5h1M63 10.5h1M4 11.5h1M10 11.5h2M14 11.5h1M18 11.5h2M23 11.5h2M27 11.5h1M32 11.5h1M40 11.5h1M42 11.5h1M44 11.5h3M54 11.5h1M56 11.5h3M4 12.5h1M6 12.5h1M9 12.5h2M30 12.5h1M38 12.5h1M45 12.5h1M49 12.5h1M54 12.5h1M57 12.5h1M60 12.5h1M62 12.5h2M2 13.5h1M9 13.5h2M13 13.5h3M18 13.5h1M21 13.5h1M25 13.5h1M29 13.5h1M32 13.5h2M42 13.5h1M44 13.5h2M50 13.5h1M52 13.5h1M56 13.5h1M58 13.5h1M1 14.5h1M9 14.5h2M14 14.5h1M16 14.5h1M21 14.5h2M28 14.5h1M30 14.5h1M36 14.5h2M40 14.5h1M43 14.5h1M45 14.5h2M50 14.5h3M54 14.5h1M60 14.5h2M7 15.5h2M11 15.5h1M20 15.5h2M24 15.5h4M31 15.5h2M34 15.5h1M41 15.5h1M44 15.5h2M50 15.5h2M57 15.5h1M59 15.5h1M1 16.5h1M14 16.5h1M18 16.5h2M22 16.5h2M25 16.5h2M32 16.5h1M35 16.5h1M42 16.5h1M45 16.5h1M48 16.5h1M53 16.5h3M59 16.5h1M63 16.5h1M2 17.5h2M5 17.5h2M12 17.5h1M18 17.5h1M20 17.5h1M32 17.5h2M39 17.5h2M47 17.5h1M50 17.5h1M53 17.5h1M55 17.5h1M60 17.5h1M62 17.5h1M2 18.5h1M7 18.5h1M10 18.5h1M18 18.5h1M23 18.5h1M43 18.5h2M46 18.5h2M49 18.5h1M51 18.5h1M54 18.5h1M56 18.5h1M58 18.5h1M60 18.5h3M0 19.5h1M10 19.5h1M18 19.5h1M21 19.5h1M24 19.5h2M29 19.5h2M33 19.5h1M38 19.5h1M40 19.5h1M46 19.5h1M58 19.5h1M62 19.5h1M5 20.5h1M8 20.5h1M13 20.5h2M24 20.5h1M26 20.5h1M30 20.5h1M41 20.5h1M44 20.5h1M46 20.5h1M48 20.5h2M62 20.5h1M1 21.5h1M3 21.5h2M9 21.5h2M14 21.5h1M16 21.5h1M24 21.5h1M28 21.5h1M32 21.5h1M34 21.5h2M37 21.5h1M39 21.5h1M42 21.5h1M44 21.5h1M51 21.5h1M58 21.5h1M60 21.5h2M63 21.5h1M5 22.5h1M7 22.5h1M11 22.5h1M13 22.5h1M21 22.5h1M28 22.5h1M32 22.5h1M37 22.5h2M42 22.5h1M50 22.5h2M62 22.5h1M1 23.5h1M8 23.5h1M11 23.5h1M29 23.5h2M32 23.5h1M34 23.5h1M38 23.5h1M43 23.5h2M46 23.5h2M55 23.5h1M5 24.5h1M13 24.5h4M28 24.5h3M34 24.5h1M38 24.5h1M42 24.5h1M44 24.5h1M46 24.5h1M57 24.5h1M60 24.5h2M63 24.5h1M0 25.5h2M5 25.5h1M19 25.5h1M28 25.5h2M43 25.5h2M52 25.5h1M60 25.5h1M0 26.5h1M2 26.5h1M5 26.5h1M8 26.5h1M15 26.5h1M18 26.5h1M20 26.5h2M24 26.5h1M26 26.5h1M28 26.5h2M35 26.5h1M37 26.5h2M40 26.5h1M52 26.5h1M54 26.5h1M57 26.5h1M60 26.5h1M4 27.5h1M7 27.5h1M10 27.5h1M13 27.5h2M22 27.5h1M35 27.5h2M42 27.5h3M49 27.5h1M52 27.5h1M55 27.5h1M63 27.5h1M14 28.5h2M17 28.5h1M22 28.5h1M24 28.5h1M30 28.5h1M32 28.5h2M35 28.5h1M51 28.5h1M60 28.5h1M8 29.5h1M13 29.5h1M27 29.5h1M34 29.5h2M37 29.5h1M39 29.5h3M46 29.5h2M53 29.5h2M63 29.5h1M10 30.5h1M12 30.5h2M16 30.5h1M18 30.5h1M25 30.5h1M28 30.5h1M33 30.5h1M35 30.5h2M41 30.5h3M49 30.5h1M55 30.5h1M58 30.5h1M13 31.5h2M17 31.5h2M20 31.5h1M22 31.5h1M25 31.5h1M31 31.5h1M36 31.5h1M61 31.5h1M0 32.5h2M5 32.5h2M16 32.5h1M21 32.5h1M24 32.5h1M30 32.5h1M33 32.5h1M43 32.5h1M46 32.5h1M53 32.5h1M55 32.5h1M60 32.5h1M10 33.5h2M16 33.5h4M25 33.5h1M27 33.5h1M30 33.5h1M35 33.5h1M37 33.5h3M44 33.5h1M49 33.5h2M55 33.5h1M58 33.5h1M60 33.5h1M2 34.5h1M5 34.5h1M8 34.5h2M21 34.5h1M26 34.5h1M31 34.5h1M46 34.5h1M48 34.5h1M52 34.5h1M54 34.5h1M59 34.5h3M6 35.5h2M9 35.5h1M12 35.5h3M18 35.5h1M22 35.5h1M29 35.5h1M39 35.5h1M47 35.5h1M49 35.5h1M52 35.5h1M55 35.5h1M58 35.5h1M3 36.5h1M11 36.5h2M14 36.5h1M29 36.5h2M33 36.5h1M36 36.5h1M40 36.5h1M47 36.5h1M49 36.5h2M52 36.5h2M59 36.5h1M63 36.5h1M2 37.5h1M7 37.5h1M19 37.5h1M21 37.5h1M29 37.5h1M33 37.5h1M36 37.5h1M38 37.5h2M42 37.5h1M46 37.5h1M56 37.5h1M59 37.5h1M63 37.5h1M2 38.5h1M5 38.5h2M8 38.5h1M10 38.5h1M12 38.5h1M15 38.5h1M25 38.5h1M31 38.5h1M37 38.5h2M42 38.5h1M46 38.5h2M51 38.5h3M60 38.5h1M62 38.5h2M21 39.5h1M26 39.5h2M29 39.5h2M35 39.5h2M43 39.5h2M47 39.5h2M56 39.5h1M61 39.5h2M0 40.5h1M3 40.5h1M5 40.5h1M7 40.5h2M12 40.5h1M15 40.5h1M19 40.5h1M23 40.5h1M25 40.5h1M27 40.5h1M29 40.5h1M31 40.5h1M33 40.5h1M36 40.5h1M49 40.5h1M57 40.5h1M60 40.5h1M62 40.5h1M0 41.5h1M3 41.5h1M5 41.5h1M10 41.5h1M17 41.5h1M21 41.5h2M25 41.5h1M31 41.5h3M36 41.5h2M39 41.5h1M42 41.5h1M45 41.5h1M54 41.5h1M58 41.5h1M60 41.5h2M63 41.5h1M1 42.5h2M10 42.5h1M13 42.5h1M17 42.5h1M28 42.5h1M34 42.5h2M37 42.5h2M40 42.5h2M5 43.5h1M17 43.5h2M22 43.5h2M37 43.5h1M42 43.5h1M63 43.5h1M5 44.5h2M10 44.5h2M20 44.5h1M24 44.5h1M26 44.5h2M29 44.5h3M39 44.5h2M47 44.5h1M50 44.5h1M52 44.5h1M55 44.5h2M59 44.5h1M2 45.5h1M12 45.5h1M14 45.5h1M25 45.5h1M31 45.5h1M34 45.5h1M36 45.5h1M43 45.5h1M48 45.5h1M50 45.5h1M53 45.5h2M56 45.5h1M60 45.5h1M63 45.5h1M1 46.5h1M4 46.5h1M8 46.5h1M22 46.5h2M26 46.5h3M33 46.5h1M36 46.5h1M38 46.5h1M42 46.5h1M45 46.5h1M53 46.5h1M55 46.5h1M57 46.5h1M1 47.5h1M3 47.5h2M7 47.5h1M14 47.5h2M17 47.5h1M21 47.5h1M24 47.5h2M28 47.5h3M39 47.5h1M43 47.5h1M45 47.5h1M49 47.5h1M0 48.5h1M9 48.5h3M16 48.5h1M18 48.5h1M22 48.5h1M32 48.5h1M34 48.5h1M39 48.5h1M42 48.5h1M44 48.5h1M46 48.5h1M50 48.5h2M56 48.5h1M59 48.5h1M0 49.5h1M2 49.5h1M6 49.5h1M15 49.5h2M22 49.5h1M28 49.5h1M30 49.5h1M32 49.5h1M37 49.5h2M40 49.5h1M57 49.5h1M59 49.5h1M62 49.5h1M6 50.5h1M15 50.5h1M17 50.5h2M23 50.5h1M28 50.5h1M33 50.5h1M37 50.5h1M39 50.5h1M41 50.5h1M43 50.5h1M45 50.5h2M48 50.5h2M55 50.5h1M0 51.5h1M5 51.5h1M19 51.5h1M24 51.5h1M28 51.5h1M33 51.5h1M38 51.5h1M40 51.5h1M45 51.5h1M48 51.5h1M51 51.5h1M54 51.5h1M58 51.5h1M3 52.5h1M22 52.5h1M24 52.5h1M29 52.5h1M32 52.5h2M36 52.5h1M43 52.5h1M45 52.5h3M49 52.5h1M52 52.5h1M54 52.5h1M57 52.5h1M63 52.5h1M0 53.5h1M2 53.5h2M8 53.5h2M15 53.5h2M22 53.5h1M24 53.5h1M26 53.5h2M32 53.5h2M36 53.5h1M41 53.5h1M44 53.5h3M51 53.5h1M54 53.5h1M60 53.5h1M63 53.5h1M5 54.5h1M14 54.5h1M18 54.5h1M21 54.5h2M29 54.5h2M36 54.5h1M39 54.5h2M49 54.5h1M54 54.5h1M56 54.5h1M0 55.5h1M7 55.5h1M15 55.5h2M20 55.5h1M23 55.5h1M33 55.5h1M38 55.5h2M41 55.5h1M46 55.5h1M62 55.5h2M2 56.5h1M4 56.5h4M23 56.5h3M27 56.5h1M31 56.5h1M50 56.5h1M63 56.5h1M0 57.5h3M22 57.5h1M35 57.5h2M45 57.5h1M49 57.5h1M57 57.5h1M62 57.5h2M2 58.5h1M4 58.5h1M6 58.5h1M8 58.5h1M10 58.5h2M17 58.5h1M21 58.5h2M25 58.5h1M29 58.5h1M34 58.5h1M39 58.5h1M43 58.5h1M45 58.5h2M54 58.5h1M56 58.5h2M4 59.5h1M8 59.5h1M11 59.5h1M14 59.5h1M18 59.5h4M24 59.5h1M28 59.5h2M35 59.5h1M39 59.5h1M41 59.5h3M54 59.5h1M56 59.5h1M9 60.5h1M13 60.5h1M16 60.5h2M23 60.5h1M25 60.5h1M27 60.5h1M33 60.5h2M43 60.5h2M50 60.5h1M54 60.5h1M57 60.5h1M59 60.5h1M62 60.5h2M1 61.5h5M7 61.5h1M9 61.5h1M11 61.5h1M18 61.5h1M20 61.5h1M24 61.5h1M32 61.5h2M37 61.5h1M41 61.5h1M50 61.5h1M58 61.5h2M62 61.5h1M0 62.5h2M5 62.5h1M10 62.5h1M16 62.5h1M21 62.5h1M25 62.5h1M29 62.5h1M32 62.5h1M36 62.5h1M41 62.5h1M43 62.5h1M52 62.5h1M58 62.5h1M62 62.5h1M0 63.5h1M3 63.5h1M8 63.5h1M18 63.5h1M20 63.5h2M35 63.5h2M39 63.5h1M50 63.5h1M59 63.5h1M62 63.5h1" stroke="#004400" stroke-width="1" fill="none"/>
<path d="M1 0.5h1M5 0.5h2M11 0.5h1M14 0.5h1M18 0.5h1M32 0.5h2M38 0.5h1M41 0.5h1M48 0.5h1M50 0.5h1M57 0.5h1M60 0.5h2M0 1.5h1M5 1.5h1M10 1.5h1M12 1.5h1M18 1.5h1M26 1.5h1M29 1.5h1M32 1.5h1M37 1.5h1M41 1.5h1M51 1.5h1M54 1.5h5M1 2.5h1M4 2.5h1M9 2.5h1M12 2.5h3M20 2.5h2M26 2.5h1M34 2.5h1M37 2.5h1M41 2.5h2M56 2.5h2M61 2.5h3M3 3.5h2M15 3.5h1M19 3.5h1M21 3.5h1M24 3.5h1M26 3.5h1M31 3.5h2M34 3.5h1M39 3.5h1M41 3.5h4M49 3.5h1M51 3.5h1M60 3.5h1M62 3.5h1M0 4.5h1M4 4.5h2M14 4.5h1M16 4.5h1M20 4.5h1M24 4.5h1M30 4.5h1M38 4.5h2M54 4.5h1M6 5.5h1M10 5.5h5M21 5.5h2M24 5.5h2M28 5.5h1M33 5.5h1M35 5.5h1M37 5.5h1M42 5.5h1M53 5.5h1M58 5.5h1M61 5.5h1M0 6.5h1M7 6.5h1M10 6.5h1M12 6.5h2M19 6.5h1M32 6.5h2M40 6.5h1M46 6.5h1M53 6.5h1M62 6.5h1M2 7.5h1M5 7.5h2M9 7.5h1M16 7.5h1M22 7.5h1M27 7.5h1M29 7.5h1M31 7.5h2M40 7.5h2M43 7.5h1M55 7.5h1M59 7.5h3M63 7.5h1M2 8.5h1M4 8.5h1M7 8.5h1M11 8.5h1M15 8.5h1M21 8.5h1M23 8.5h1M30 8.5h1M34 8.5h1M40 8.5h2M48 8.5h1M50 8.5h1M56 8.5h1M60 8.5h2M63 8.5h1M1 9.5h1M7 9.5h1M9 9.5h1M11 9.5h1M13 9.5h1M23 9.5h1M25 9.5h1M33 9.5h1M35 9.5h4M45 9.5h1M47 9.5h1M52 9.5h1M57 9.5h1M8 10.5h4M16 10.5h1M25 10.5h1M32 10.5h1M38 10.5h1M42 10.5h3M49 10.5h1M55 10.5h2M59 10.5h1M12 11.5h1M25 11.5h1M29 11.5h1M33 11.5h3M37 11.5h1M39 11.5h1M49 11.5h1M52 11.5h1M8 12.5h1M12 12.5h1M16 12.5h2M20 12.5h1M23 12.5h1M25 12.5h1M29 12.5h1M32 12.5h1M37 12.5h1M40 12.5h1M42 12.5h1M61 12.5h1M0 13.5h2M12 13.5h1M19 13.5h1M23 13.5h1M30 13.5h1M35 13.5h1M37 13.5h1M39 13.5h3M47 13.5h2M55 13.5h1M61 13.5h1M63 13.5h1M3 14.5h1M6 14.5h2M12 14.5h2M19 14.5h1M23 14.5h1M33 14.5h3M38 14.5h2M44 14.5h1M49 14.5h1M55 14.5h1M57 14.5h1M1 15.5h2M4 15.5h1M6 15.5h1M14 15.5h1M30 15.5h1M33 15.5h1M36 15.5h1M39 15.5h2M49 15.5h1M52 15.5h1M55 15.5h2M0 16.5h1M2 16.5h3M6 16.5h1M8 16.5h1M10 16.5h1M12 16.5h1M21 16.5h1M33 16.5h1M36 16.5h1M38 16.5h2M44 16.5h1M51 16.5h1M57 16.5h2M0 17.5h2M4 17.5h1M10 17.5h2M13 17.5h1M15 17.5h2M31 17.5h1M43 17.5h1M4 18.5h1M9 18.5h1M12 18.5h2M15 18.5h1M17 18.5h1M21 18.5h1M25 18.5h1M27 18.5h2M31 18.5h2M53 18.5h1M55 18.5h1M59 18.5h1M63 18.5h1M2 19.5h1M8 19.5h2M14 19.5h1M16 19.5h1M20 19.5h1M34 19.5h4M44 19.5h2M49 19.5h1M51 19.5h1M56 19.5h2M2 20.5h3M10 20.5h1M17 20.5h1M21 20.5h1M23 20.5h1M27 20.5h1M29 20.5h1M32 20.5h3M43 20.5h1M47 20.5h1M61 20.5h1M0 21.5h1M5 21.5h1M8 21.5h1M15 21.5h1M17 21.5h1M19 21.5h1M23 21.5h1M31 21.5h1M33 21.5h1M45 21.5h1M47 21.5h1M49 21.5h2M53 21.5h1M55 21.5h1M57 21.5h1M1 22.5h1M10 22.5h1M12 22.5h1M15 22.5h1M17 22.5h3M35 22.5h1M39 22.5h1M47 22.5h2M54 22.5h2M57 22.5h2M2 23.5h1M5 23.5h3M10 23.5h1M12 23.5h1M16 23.5h1M19 23.5h1M21 23.5h1M24 23.5h1M26 23.5h1M37 23.5h1M39 23.5h1M41 23.5h1M48 23.5h1M53 23.5h1M59 23.5h1M62 23.5h2M0 24.5h1M4 24.5h1M6 24.5h2M10 24.5h1M12 24.5h1M24 24.5h1M33 24.5h1M35 24.5h1M37 24.5h1M41 24.5h1M43 24.5h1M47 24.5h1M50 24.5h1M52 24.5h2M56 24.5h1M58 24.5h2M2 25.5h3M7 25.5h1M12 25.5h3M17 25.5h2M24 25.5h3M31 25.5h1M33 25.5h1M40 25.5h1M45 25.5h1M47 25.5h1M51 25.5h1M56 25.5h1M62 25.5h1M1 26.5h1M4 26.5h1M6 26.5h1M10 26.5h1M14 26.5h1M17 26.5h1M22 26.5h1M27 26.5h1M34 26.5h1M41 26.5h1M48 26.5h1M50 26.5h1M56 26.5h1M0 27.5h1M6 27.5h1M12 27.5h1M16 27.5h1M18 27.5h1M21 27.5h1M24 27.5h1M32 27.5h1M37 27.5h1M39 27.5h2M47 27.5h1M54 27.5h1M57 27.5h1M59 27.5h1M61 27.5h1M0 28.5h2M3 28.5h2M8 28.5h1M11 28.5h1M19 28.5h2M23 28.5h1M26 28.5h3M36 28.5h1M41 28.5h3M46 28.5h1M50 28.5h1M53 28.5h3M62 28.5h1M9 29.5h2M29 29.5h1M31 29.5h1M33 29.5h1M36 29.5h1M43 29.5h1M51 29.5h1M59 29.5h1M8 30.5h1M17 30.5h1M19 30.5h1M37 30.5h1M40 30.5h1M45 30.5h1M53 30.5h2M56 30.5h1M60 30.5h1M62 30.5h2M0 31.5h1M6 31.5h1M10 31.5h1M16 31.5h1M19 31.5h1M27 31.5h1M29 31.5h1M43 31.5h3M53 31.5h1M58 31.5h3M62 31.5h1M3 32.5h1M10 32.5h3M23 32.5h1M26 32.5h1M28 32.5h2M35 32.5h1M39 32.5h1M45 32.5h1M48 32.5h1M59 32.5h1M61 32.5h1M2 33.5h1M7 33.5h1M14 33.5h1M21 33.5h2M28 33.5h1M42 33.5h1M52 33.5h2M56 33.5h1M62 33.5h1M1 34.5h1M6 34.5h1M11 34.5h1M13 34.5h1M17 34.5h1M23 34.5h1M27 34.5h1M29 34.5h1M37 34.5h1M39 34.5h2M43 34.5h1M50 34.5h1M53 34.5h1M57 34.5h1M0 35.5h1M11 35.5h1M21 35.5h1M24 35.5h5M33 35.5h1M36 35.5h1M46 35.5h1M51 35.5h1M54 35.5h1M59 35.5h1M61 35.5h1M0 36.5h2M4 36.5h1M7 36.5h2M13 36.5h1M15 36.5h1M20 36.5h1M22 36.5h1M37 36.5h1M54 36.5h4M60 36.5h1M1 37.5h1M6 37.5h1M12 37.5h1M14 37.5h3M27 37.5h1M32 37.5h1M35 37.5h1M44 37.5h2M49 37.5h2M53 37.5h1M55 37.5h1M58 37.5h1M62 37.5h1M13 38.5h1M17 38.5h1M39 38.5h2M45 38.5h1M59 38.5h1M4 39.5h1M7 39.5h1M9 39.5h2M15 39.5h1M17 39.5h1M19 39.5h2M24 39.5h2M28 39.5h1M32 39.5h1M37 39.5h2M42 39.5h1M45 39.5h2M54 39.5h1M58 39.5h1M1 40.5h1M6 40.5h1M11 40.5h1M20 40.5h1M28 40.5h1M35 40.5h1M38 40.5h1M47 40.5h2M50 40.5h2M61 40.5h1M11 41.5h1M14 41.5h2M18 41.5h2M23 41.5h1M26 41.5h1M28 41.5h1M35 41.5h1M46 41.5h1M53 41.5h1M4 42.5h1M6 42.5h1M9 42.5h1M21 42.5h1M25 42.5h2M30 42.5h1M43 42.5h2M47 42.5h2M54 42.5h1M60 42.5h1M1 43.5h1M8 43.5h1M13 43.5h1M16 43.5h1M19 43.5h2M27 43.5h1M31 43.5h1M35 43.5h1M38 43.5h1M48 43.5h1M53 43.5h1M2 44.5h3M7 44.5h1M13 44.5h1M15 44.5h1M23 44.5h1M32 44.5h1M44 44.5h3M48 44.5h1M54 44.5h1M60 44.5h1M3 45.5h2M8 45.5h1M18 45.5h1M21 45.5h1M26 45.5h2M33 45.5h1M37 45.5h1M41 45.5h2M51 45.5h1M0 46.5h1M9 46.5h3M24 46.5h1M30 46.5h1M41 46.5h1M48 46.5h1M50 46.5h1M54 46.5h1M60 46.5h1M62 46.5h1M6 47.5h1M10 47.5h1M19 47.5h2M22 47.5h1M27 47.5h1M33 47.5h1M35 47.5h2M41 47.5h1M48 47.5h1M51 47.5h1M53 47.5h3M59 47.5h2M62 47.5h1M12 48.5h1M14 48.5h1M20 48.5h1M26 48.5h2M30 48.5h1M43 48.5h1M53 48.5h1M55 48.5h1M63 48.5h1M3 49.5h3M7 49.5h1M10 49.5h2M14 49.5h1M18 49.5h2M25 49.5h2M29 49.5h1M34 49.5h1M36 49.5h1M39 49.5h1M52 49.5h1M55 49.5h1M1 50.5h1M4 50.5h2M7 50.5h2M11 50.5h4M21 50.5h2M27 50.5h1M34 50.5h1M40 50.5h1M42 50.5h1M47 50.5h1M57 50.5h2M61 50.5h1M3 51.5h2M10 51.5h2M13 51.5h1M20 51.5h1M26 51.5h2M31 51.5h1M36 51.5h2M49 51.5h1M53 51.5h1M55 51.5h3M62 51.5h1M7 52.5h1M9 52.5h2M12 52.5h1M14 52.5h1M20 52.5h1M26 52.5h3M31 52.5h1M39 52.5h2M44 52.5h1M51 52.5h1M58 52.5h3M1 53.5h1M7 53.5h1M12 53.5h1M28 53.5h1M42 53.5h1M49 53.5h2M53 53.5h1M57 53.5h1M61 53.5h1M4 54.5h1M9 54.5h1M20 54.5h1M24 54.5h1M27 54.5h2M37 54.5h2M43 54.5h1M47 54.5h1M51 54.5h1M53 54.5h1M55 54.5h1M57 54.5h2M62 54.5h1M8 55.5h1M11 55.5h2M17 55.5h1M28 55.5h1M30 55.5h1M35 55.5h1M37 55.5h1M42 55.5h1M45 55.5h1M56 55.5h1M61 55.5h1M0 56.5h1M9 56.5h2M12 56.5h1M21 56.5h1M28 56.5h1M32 56.5h1M37 56.5h1M39 56.5h1M41 56.5h2M48 56.5h1M58 56.5h1M5 57.5h1M16 57.5h1M20 57.5h1M24 57.5h1M26 57.5h2M34 57.5h1M39 57.5h3M46 57.5h1M48 57.5h1M50 57.5h2M54 57.5h1M56 57.5h1M58 57.5h1M9 58.5h1M15 58.5h1M20 58.5h1M24 58.5h1M27 58.5h2M33 58.5h1M36 58.5h3M40 58.5h2M44 58.5h1M51 58.5h3M59 58.5h1M5 59.5h1M9 59.5h2M15 59.5h1M25 59.5h3M30 59.5h2M33 59.5h1M47 59.5h1M63 59.5h1M0 60.5h1M19 60.5h1M26 60.5h1M29 60.5h1M35 60.5h1M37 60.5h1M51 60.5h1M61 60.5h1M8 61.5h1M13 61.5h1M15 61.5h2M19 61.5h1M25 61.5h1M29 61.5h3M36 61.5h1M44 61.5h1M47 61.5h1M51 61.5h4M14 62.5h2M20 62.5h1M22 62.5h3M27 62.5h1M30 62.5h1M37 62.5h1M40 62.5h1M44 62.5h1M49 62.5h2M59 62.5h2M1 63.5h2M4 63.5h3M10 63.5h1M13 63.5h1M15 63.5h1M26 63.5h1M29 63.5h1M32 63.5h2M41 63.5h1M47 63.5h2M53 63.5h1" stroke="#007200" stroke-width="1" fill="none"/>
<path d="M3 0.5h1M28 0.5h1M39 0.5h1M42 0.5h2M56 0.5h1M58 0.5h1M62 0.5h2M16 1.5h1M23 1.5h1M44 1.5h2M47 1.5h1M52 1.5h2M15 2.5h1M17 2.5h1M31 2.5h1M18 3.5h1M29 3.5h2M57 3.5h1M63 3.5h1M8 4.5h1M15 4.5h1M37 4.5h1M42 4.5h1M44 4.5h2M57 4.5h1M1 5.5h1M4 5.5h1M8 5.5h1M19 5.5h1M29 5.5h1M40 5.5h1M54 5.5h2M57 5.5h1M59 5.5h1M1 6.5h2M15 6.5h1M17 6.5h1M20 6.5h1M26 6.5h1M29 6.5h1M37 6.5h2M42 6.5h1M50 6.5h1M15 7.5h1M38 7.5h1M44 7.5h2M47 7.5h1M52 7.5h2M0 8.5h1M5 8.5h1M9 8.5h1M36 8.5h1M38 8.5h1M58 8.5h1M4 9.5h1M6 9.5h1M8 9.5h1M14 9.5h1M27 9.5h1M31 9.5h1M44 9.5h1M46 9.5h1M4 10.5h1M13 10.5h1M20 10.5h1M29 10.5h1M31 10.5h1M50 10.5h1M1 11.5h1M5 11.5h1M17 11.5h1M20 11.5h1M28 11.5h1M31 11.5h1M3 12.5h1M11 12.5h1M13 12.5h1M28 12.5h1M31 12.5h1M35 12.5h2M39 12.5h1M41 12.5h1M44 12.5h1M56 12.5h1M3 13.5h1M6 13.5h2M20 13.5h1M28 13.5h1M36 13.5h1M51 13.5h1M54 13.5h1M57 13.5h1M5 14.5h1M8 14.5h1M11 14.5h1M5 15.5h1M28 15.5h2M37 15.5h1M47 15.5h1M53 15.5h1M61 15.5h1M11 16.5h1M31 16.5h1M46 16.5h1M49 16.5h2M8 17.5h1M14 17.5h1M21 17.5h1M24 17.5h1M29 17.5h1M41 17.5h1M46 17.5h1M48 17.5h1M51 17.5h2M57 17.5h2M5 18.5h2M19 18.5h1M24 18.5h1M26 18.5h1M29 18.5h1M33 18.5h1M36 18.5h1M39 18.5h1M42 18.5h1M57 18.5h1M3 19.5h1M11 19.5h3M17 19.5h1M22 19.5h1M26 19.5h2M43 19.5h1M52 19.5h2M59 19.5h1M16 20.5h1M19 20.5h1M37 20.5h1M39 20.5h1M42 20.5h1M52 20.5h1M55 20.5h1M63 20.5h1M2 21.5h1M11 21.5h2M43 21.5h1M56 21.5h1M4 22.5h1M9 22.5h1M22 22.5h1M29 22.5h1M31 22.5h1M40 22.5h1M43 22.5h1M46 22.5h1M53 22.5h1M3 23.5h2M15 23.5h1M25 23.5h1M27 23.5h2M40 23.5h1M61 23.5h1M2 24.5h1M11 24.5h1M23 24.5h1M62 24.5h1M6 25.5h1M9 25.5h3M21 25.5h1M27 25.5h1M30 25.5h1M36 25.5h3M42 25.5h1M46 25.5h1M61 25.5h1M9 26.5h1M42 26.5h1M47 26.5h1M55 26.5h1M62 26.5h2M5 27.5h1M26 27.5h1M29 27.5h1M31 27.5h1M33 27.5h1M38 27.5h1M41 27.5h1M48 27.5h1M58 27.5h1M62 27.5h1M18 28.5h1M21 28.5h1M25 28.5h1M31 28.5h1M34 28.5h1M58 28.5h1M11 29.5h1M15 29.5h2M22 29.5h1M48 29.5h1M5 30.5h1M38 30.5h2M50 30.5h3M61 30.5h1M3 31.5h1M5 31.5h1M9 31.5h1M12 31.5h1M24 31.5h1M28 31.5h1M41 31.5h1M49 31.5h2M52 31.5h1M55 31.5h1M57 31.5h1M63 31.5h1M25 32.5h1M27 32.5h1M41 32.5h1M49 32.5h1M54 32.5h1M63 32.5h1M34 33.5h1M51 33.5h1M7 34.5h1M16 34.5h1M30 34.5h1M38 34.5h1M41 34.5h1M45 34.5h1M51 34.5h1M55 34.5h1M1 35.5h2M23 35.5h1M34 35.5h1M45 35.5h1M63 35.5h1M5 36.5h1M10 36.5h1M16 36.5h2M23 36.5h2M26 36.5h1M31 36.5h1M35 36.5h1M42 36.5h2M46 36.5h1M58 36.5h1M61 36.5h2M10 37.5h1M31 37.5h1M41 37.5h1M48 37.5h1M51 37.5h1M4 38.5h1M14 38.5h1M19 38.5h1M21 38.5h1M26 38.5h1M32 38.5h1M43 38.5h1M49 38.5h2M54 38.5h1M57 38.5h2M61 38.5h1M0 39.5h1M2 39.5h1M16 39.5h1M10 40.5h1M18 40.5h1M32 40.5h1M41 40.5h1M46 40.5h1M58 40.5h2M1 41.5h1M6 41.5h1M24 41.5h1M30 41.5h1M38 41.5h1M40 41.5h1M49 41.5h1M59 41.5h1M20 42.5h1M24 42.5h1M46 42.5h1M49 42.5h1M52 42.5h1M61 42.5h1M63 42.5h1M9 43.5h2M12 43.5h1M25 43.5h1M28 43.5h2M39 43.5h1M47 43.5h1M59 43.5h1M61 43.5h1M17 44.5h1M22 44.5h1M37 44.5h1M41 44.5h1M58 44.5h1M0 45.5h1M10 45.5h1M16 45.5h1M19 45.5h1M28 45.5h1M52 45.5h1M62 45.5h1M6 46.5h1M14 46.5h2M32 46.5h1M63 46.5h1M0 47.5h1M16 47.5h1M32 47.5h1M56 47.5h2M15 48.5h1M21 48.5h1M23 48.5h1M31 48.5h1M33 48.5h1M35 48.5h1M45 48.5h1M49 48.5h1M54 48.5h1M57 48.5h1M62 48.5h1M35 49.5h1M41 49.5h1M46 49.5h2M50 49.5h1M54 49.5h1M61 49.5h1M9 50.5h1M20 50.5h1M29 50.5h2M32 50.5h1M50 50.5h2M63 50.5h1M41 51.5h1M59 51.5h2M63 51.5h1M1 52.5h1M8 52.5h1M15 52.5h1M34 52.5h1M48 52.5h1M55 52.5h1M13 53.5h1M17 53.5h3M23 53.5h1M34 53.5h2M52 53.5h1M62 53.5h1M7 54.5h2M11 54.5h2M19 54.5h1M33 54.5h2M46 54.5h1M63 54.5h1M1 55.5h1M4 55.5h1M6 55.5h1M18 55.5h1M25 55.5h1M34 55.5h1M36 55.5h1M50 55.5h1M57 55.5h1M60 55.5h1M8 56.5h1M13 56.5h1M15 56.5h1M17 56.5h1M19 56.5h1M26 56.5h1M43 56.5h1M49 56.5h1M51 56.5h1M57 56.5h1M59 56.5h1M61 56.5h1M4 57.5h1M14 57.5h1M17 57.5h3M43 57.5h1M55 57.5h1M60 57.5h1M1 58.5h1M13 58.5h1M19 58.5h1M23 58.5h1M26 58.5h1M35 58.5h1M42 58.5h1M50 58.5h1M63 58.5h1M2 59.5h1M36 59.5h2M40 59.5h1M44 59.5h1M60 59.5h1M6 60.5h1M11 60.5h1M14 60.5h1M22 60.5h1M28 60.5h1M31 60.5h1M36 60.5h1M41 60.5h1M58 60.5h1M0 61.5h1M14 61.5h1M22 61.5h1M27 61.5h1M39 61.5h2M42 61.5h1M48 61.5h2M56 61.5h1M3 62.5h1M8 62.5h1M18 62.5h1M26 62.5h1M54 62.5h1M57 62.5h1M61 62.5h1M63 62.5h1M19 63.5h1M22 63.5h1M24 63.5h1M27 63.5h1M46 63.5h1" stroke="#089c08" stroke-width="1" fill="none"/>
<path d="M27 0.5h1M46 0.5h1M15 1.5h1M36 1.5h1M59 1.5h1M22 2.5h1M36 2.5h1M43 2.5h1M58 2.5h1M25 3.5h1M45 3.5h1M13 4.5h1M55 4.5h1M5 5.5h1M26 5.5h1M11 6.5h1M61 6.5h1M35 8.5h1M59 8.5h1M51 9.5h1M1 10.5h1M37 10.5h1M8 13.5h1M11 13.5h1M34 13.5h1M15 14.5h1M47 14.5h1M3 15.5h1M29 16.5h2M27 17.5h2M49 17.5h1M34 18.5h1M48 18.5h1M50 18.5h1M15 19.5h1M19 19.5h1M50 19.5h1M60 19.5h1M22 20.5h1M38 20.5h1M50 20.5h1M59 20.5h2M38 21.5h1M52 21.5h1M54 21.5h1M0 22.5h1M56 22.5h1M13 23.5h1M35 23.5h1M56 23.5h1M27 24.5h1M31 24.5h2M45 24.5h1M32 25.5h1M50 25.5h1M19 26.5h1M8 27.5h1M17 27.5h1M19 27.5h1M60 27.5h1M7 28.5h1M45 28.5h1M47 28.5h1M21 29.5h1M38 29.5h1M27 30.5h1M57 30.5h1M4 31.5h1M51 31.5h1M7 32.5h1M5 33.5h2M41 33.5h1M12 34.5h1M27 36.5h1M45 36.5h1M26 37.5h1M30 37.5h1M11 39.5h1M52 39.5h1M34 40.5h1M52 40.5h1M20 41.5h1M27 41.5h1M34 41.5h1M59 42.5h1M57 44.5h1M15 45.5h1M17 45.5h1M22 45.5h1M31 46.5h1M34 47.5h1M50 47.5h1M17 48.5h1M48 48.5h1M33 49.5h1M42 49.5h1M44 49.5h2M49 49.5h1M60 49.5h1M63 49.5h1M0 50.5h1M60 50.5h1M41 52.5h1M1 54.5h1M15 54.5h1M35 54.5h1M5 55.5h1M20 56.5h1M38 56.5h1M15 57.5h1M60 58.5h1M13 59.5h1M21 61.5h1M42 62.5h1M40 63.5h1M57 63.5h2" stroke="#26cc26" stroke-width="1" fill="none"/>
</pattern>
<pattern id="nzc" patternUnits="userSpaceOnUse" width="48" height="48" shape-rendering="crispEdges">
<rect width="48" height="48" fill="#000000"/>
<path d="M24 0.5h1M26 0.5h1M29 0.5h1M35 1.5h1M17 2.5h1M31 2.5h1M33 2.5h1M16 3.5h1M45 3.5h1M40 4.5h1M10 6.5h1M21 6.5h1M34 6.5h1M11 7.5h1M15 7.5h1M20 7.5h1M4 8.5h1M17 8.5h1M25 8.5h1M34 8.5h1M9 9.5h1M31 9.5h1M44 9.5h1M10 10.5h1M19 10.5h1M23 10.5h1M34 10.5h1M35 11.5h1M8 12.5h2M24 12.5h1M5 13.5h1M9 13.5h1M26 13.5h1M44 13.5h1M0 14.5h1M14 14.5h1M28 14.5h1M36 15.5h1M35 16.5h1M38 16.5h1M1 18.5h1M13 18.5h1M11 19.5h1M20 19.5h1M41 19.5h1M4 21.5h1M6 22.5h1M26 22.5h1M29 22.5h1M31 22.5h1M20 23.5h2M35 23.5h1M3 24.5h1M26 24.5h1M3 25.5h1M29 25.5h1M10 26.5h1M35 26.5h1M47 26.5h1M2 27.5h1M8 27.5h2M24 27.5h1M10 28.5h1M13 28.5h1M23 28.5h1M25 28.5h1M47 28.5h1M34 29.5h1M38 29.5h1M38 30.5h1M41 30.5h1M12 31.5h1M17 31.5h1M33 31.5h1M41 32.5h1M0 33.5h1M33 33.5h1M3 34.5h1M5 34.5h1M12 34.5h1M18 35.5h1M4 36.5h1M17 36.5h1M27 36.5h1M21 37.5h1M39 37.5h1M7 38.5h1M21 38.5h1M32 38.5h1M8 39.5h1M23 39.5h1M27 39.5h1M43 39.5h1M1 40.5h1M46 40.5h1M5 41.5h1M11 41.5h1M36 41.5h1M8 42.5h1M10 43.5h1M4 44.5h1M14 44.5h1M22 44.5h1M40 44.5h1M24 45.5h1M42 45.5h1M4 46.5h1M46 46.5h1M9 47.5h1M18 47.5h1M20 47.5h1M32 47.5h1" stroke="#000028" stroke-width="1" fill="none"/>
<path d="M32 0.5h1M37 5.5h1M26 7.5h1M25 9.5h1M36 11.5h1M45 11.5h1M26 15.5h1M39 19.5h1M35 20.5h1M39 20.5h1M41 20.5h1M21 21.5h1M4 22.5h1M21 22.5h1M34 23.5h1M34 24.5h1M4 27.5h1M10 29.5h1M9 30.5h1M9 31.5h1M24 32.5h1M44 32.5h1M46 36.5h1M19 45.5h1" stroke="#040460" stroke-width="1" fill="none"/>
</pattern>
<filter id="soft" x="-2%" y="-10%" width="104%" height="120%"><feGaussianBlur stdDeviation="0.55"/></filter>
</defs>
<line class="dot" x1="370.4" y1="180.2" x2="370.4" y2="18.7"/>
<line class="dot" x1="338.4" y1="181.2" x2="338.4" y2="19.7"/>
<line class="dot" x1="306.3" y1="182.3" x2="306.3" y2="20.8"/>
<line class="dot" x1="274.3" y1="183.3" x2="274.3" y2="21.8"/>
<line class="dot" x1="242.3" y1="184.3" x2="242.3" y2="22.8"/>
<line class="dot" x1="210.3" y1="185.3" x2="210.3" y2="23.8"/>
<line class="dot" x1="178.2" y1="186.4" x2="178.2" y2="24.9"/>
<line class="dot" x1="146.2" y1="187.4" x2="146.2" y2="25.9"/>
<line class="dot" x1="114.2" y1="188.4" x2="114.2" y2="26.9"/>
<line class="dot" x1="82.1" y1="189.5" x2="82.1" y2="28"/>
<line class="dot" x1="50.1" y1="190.5" x2="50.1" y2="29"/>
<line class="dot" x1="50.1" y1="136.7" x2="370.4" y2="126.4"/>
<line class="dash" x1="370.4" y1="126.4" x2="435" y2="172.4"/>
<line class="dot" x1="50.1" y1="82.8" x2="370.4" y2="72.5"/>
<line class="dash" x1="370.4" y1="72.5" x2="435" y2="118.5"/>
<line class="dot" x1="50.1" y1="29" x2="370.4" y2="18.7"/>
<line class="dash" x1="370.4" y1="18.7" x2="435" y2="64.7"/>
<line class="dot" x1="402.7" y1="203.2" x2="402.7" y2="41.7"/>
<line class="dot" x1="435" y1="226.2" x2="435" y2="64.7"/>
<line class="dash fl" x1="370.4" y1="180.2" x2="435" y2="226.2"/>
<line class="dash fl" x1="338.4" y1="181.2" x2="403" y2="227.2"/>
<line class="dash fl" x1="306.3" y1="182.3" x2="370.9" y2="228.3"/>
<line class="dash fl" x1="274.3" y1="183.3" x2="338.9" y2="229.3"/>
<line class="dash fl" x1="242.3" y1="184.3" x2="306.9" y2="230.3"/>
<line class="dash fl" x1="210.3" y1="185.3" x2="274.9" y2="231.3"/>
<line class="dash fl" x1="178.2" y1="186.4" x2="242.8" y2="232.4"/>
<line class="dash fl" x1="146.2" y1="187.4" x2="210.8" y2="233.4"/>
<line class="dash fl" x1="114.2" y1="188.4" x2="178.8" y2="234.4"/>
<line class="dash fl" x1="82.1" y1="189.5" x2="146.7" y2="235.5"/>
<line class="dot" x1="50.1" y1="190.5" x2="370.4" y2="180.2"/>
<line class="dot" x1="82.4" y1="213.5" x2="402.7" y2="203.2"/>
<line class="sol" x1="50.1" y1="190.5" x2="114.7" y2="236.5"/>
<line class="sol" x1="114.7" y1="236.5" x2="435" y2="226.2"/>
<line class="sol" x1="50.1" y1="190.5" x2="50.1" y2="29"/>
<line class="sol" x1="435" y1="226.2" x2="441.5" y2="230.8"/>
<line class="sol" x1="403" y1="227.2" x2="409.5" y2="231.9"/>
<line class="sol" x1="370.9" y1="228.3" x2="377.5" y2="232.9"/>
<line class="sol" x1="338.9" y1="229.3" x2="345.4" y2="233.9"/>
<line class="sol" x1="306.9" y1="230.3" x2="313.4" y2="235"/>
<line class="sol" x1="274.9" y1="231.3" x2="281.4" y2="236"/>
<line class="sol" x1="242.8" y1="232.4" x2="249.3" y2="237"/>
<line class="sol" x1="210.8" y1="233.4" x2="217.3" y2="238.1"/>
<line class="sol" x1="178.8" y1="234.4" x2="185.3" y2="239.1"/>
<line class="sol" x1="146.7" y1="235.5" x2="153.2" y2="240.1"/>
<line class="sol" x1="114.7" y1="236.5" x2="121.2" y2="241.1"/>
<line class="sol" x1="50.1" y1="190.5" x2="42.1" y2="190.8"/>
<line class="sol" x1="82.4" y1="213.5" x2="74.4" y2="213.8"/>
<line class="sol" x1="114.7" y1="236.5" x2="106.7" y2="236.8"/>
<line class="sol" x1="50.1" y1="190.5" x2="43.6" y2="185.9"/>
<line class="sol" x1="50.1" y1="136.7" x2="43.6" y2="132"/>
<line class="sol" x1="50.1" y1="82.8" x2="43.6" y2="78.2"/>
<line class="sol" x1="50.1" y1="29" x2="43.6" y2="24.4"/>
<polygon points="50.2,169.8 51.8,168 53.5,169.5 55.2,167.5 56.9,169.4 58.3,171.1 60.7,170.2 61.9,169.8 64,169 65.1,169.1 67.4,169.4 68.9,168.3 70.6,169.4 71.9,167.1 73.9,169.8 75.7,168.8 77.6,169 78.9,169.5 81.1,169.2 82.3,169.6 84.1,168.4 85.6,169.6 87.7,168.1 89.3,169.5 91.1,168.5 92.8,168.7 94.8,169.3 96.2,168.4 97.9,168.9 99.8,171.1 101.3,168.2 102.9,165.5 104.3,167.6 106,168.9 108.3,168 109.7,165.9 111.7,168.7 113,169.3 115.1,167.6 116.3,170.1 118,167.3 120,167.5 121.6,166.7 123.4,167.2 125.1,167.8 126.9,167.4 128.7,168.1 130.4,168.7 131.6,167.1 133.2,167.2 135,166.6 136.6,166.6 138.4,166.4 140,166.5 141.8,167.1 143.7,165.9 145.8,166 147.2,169.3 148.6,165.8 150.4,166.1 151.9,165.8 154,168.6 155.4,166.4 157.8,166.1 158.9,166.5 160.6,165.7 162.8,166.1 164,165.5 166.2,166.8 167.9,166.8 169.4,165.3 170.7,165.3 172.6,165.3 174.8,165.9 176.6,166.3 177.8,167.7 179.3,164.9 181.4,164.2 183,165.9 184.9,165.3 186.7,165.4 188.3,165.8 190,164.4 191.7,164.4 193.1,164.7 195.1,166.9 196.3,164.1 198.6,166.4 200.4,165.2 201.6,164.7 203,163.8 205.3,166.8 206.8,165.1 208.8,165.7 210.1,163.8 212,163.2 213.4,164 215.2,165.8 217.4,164.1 219.1,163.7 220.5,163.9 222.1,160.9 224.1,162.8 225.6,162.2 227.1,163.7 229,163.3 230.7,162.7 232.2,162.5 234.2,163.3 236.1,163.8 237.5,163.4 239.4,162.9 240.9,163.1 242.8,165.1 244.1,163.7 246.4,162.7 247.4,162.1 249.1,162.5 251.3,161.9 253.2,163.3 254.7,162.9 256.6,160.8 258.3,161.9 259.6,162 261.1,162.9 263.1,162 264.6,161.6 266.1,162.5 267.8,161.9 270,161.4 272,161.1 273.7,162.6 274.6,161.3 276.5,162.4 278.7,161.5 279.9,162.5 281.9,162.2 283.2,161.7 285.2,161.7 287.3,159 288.3,161.8 290,162.4 291.9,161 294.1,160.9 295.5,160.3 296.8,159.9 298.6,160 300.4,160.2 302.3,160.3 303.8,159.3 305.3,160.1 307.4,160.9 309.4,160.4 311,158.4 312.7,160.3 314.2,159.9 315.8,161 317.7,161.2 319.2,159.9 320.7,157.5 322.5,160.3 324.1,158.4 326.2,160.4 327.6,159 329.2,159.6 331,159.4 333,160.4 335,158.5 335.9,159.1 338,159 339.7,158.7 341.2,156.2 342.8,158.9 344.7,156.3 346.6,159.2 348.4,159.5 349.9,159.5 352,158.3 353.5,159.1 355.3,156.1 357,158.8 358.2,159.5 360.4,158.5 362.1,159.3 363.7,159 365.1,158.5 366.9,157.6 369,156.2 370.5,158.3 370,158.1 372,160 373.3,160.2 374.7,158.8 375.7,161.4 377,163.7 378.6,165.1 380,165 381.5,166.8 382.4,167.4 384.3,167.9 385.6,168.8 386.7,169.7 388.4,171.6 389.7,172.1 391,173.4 392.2,175.3 394.1,178.1 395.4,176.6 396.5,180 398.2,178.2 399.3,178.6 401,180.8 402.3,180.1 403.5,183.5 405.1,182.8 405.7,184 407.5,185.7 408.8,186.3 410.5,187.4 411.9,189.5 413.3,188.2 414.2,191.8 415.7,191.7 417,193.3 418.3,193.9 420.1,194.5 421.6,195.5 422.6,196.8 423.9,197 425.6,200 427.1,200.4 428.3,201.5 429.7,199.9 431,203.9 431.9,203.8 433.6,204.8 434.8,206.1 434.8,212.4 433.1,211.7 431.3,211.5 429.7,210.2 428,211.7 426.9,213.5 424.6,211.2 423,209.7 421.2,211.4 420,211.8 417.9,211.8 416.2,211.8 414.4,211.2 412.6,214.4 411.5,212.3 409.3,211 407.7,212 406.4,214.4 404,211.4 403,212.6 400.6,212.5 399.6,212 398,213 395.6,211.5 394.3,212.5 392.7,214.6 390.8,213 388.7,212.4 387.7,212.1 385.5,212.7 384.1,212.2 382,213 380.6,212.8 378.7,212.5 377,211.9 375.8,212.7 373.8,213.6 371.9,211.9 370.2,213.3 368.7,210.2 366.8,212.9 365.6,213.2 363.4,212.3 362,212.9 360.4,213.7 358.2,213 357,212.9 354.9,212.3 353.7,213 351.4,213.2 350.1,213.3 348,215.6 347,213 344.5,211.9 343.5,213.4 341.7,215.1 339.6,214.4 338.4,212.3 336.5,212.9 334.6,213.4 332.6,213.2 331.1,213.1 329.9,213.2 327.8,212.7 326.1,214.5 324.4,211.4 322.5,214.7 321.4,213.6 319.6,213.9 317.3,214.7 316.3,213.4 314.5,213.3 312.4,213.9 311,216.5 309,214.7 307.1,213.6 305.9,215.1 303.7,216.5 302.7,214.4 300.6,216.7 299,214.4 297,216.5 295.8,215 293.9,215.3 292,214.3 290.1,215.4 288.6,215.2 286.7,212.4 285.7,214.5 284,216.3 281.6,214.1 280.4,214.7 278.5,214.5 277,215 275.3,215.6 273.7,213.2 271.6,215.2 269.8,215.6 268.1,214.7 266.7,216.7 265.3,215 263,215.1 261.9,215.6 259.8,213.3 258.5,216 256.3,212.8 255.1,214.9 253.4,215.4 251.3,216.2 249.9,214.7 248,214.9 246,215.6 244.3,215 242.9,214.8 240.7,215.2 239.6,215.3 237.5,215.5 236.1,216.7 234.3,215.2 232.7,215.8 231.1,215.4 229.1,215.7 227.4,216.9 225.7,215.9 224.5,216.8 222.2,215.8 220.3,215.7 219,217.9 217.6,216.1 215.4,216.1 214,216.4 211.9,218.1 210.5,216.2 208.7,214.8 206.8,217.2 205.7,216.3 203.4,216 202.4,218.7 200.7,215.8 198.9,216.3 196.7,217.3 195,217.5 193.8,217.4 191.6,215.5 190,216.9 188.2,215.1 186.4,217.6 185.2,216.8 183,217.6 181.7,217 179.9,216.7 178.2,217 176.5,217 174.9,214.4 173.3,216.7 171.4,218 169.4,217.2 168,215.5 166.3,217.3 164.7,214.8 163.1,217.8 160.9,217.3 159.9,217.3 158.1,215.8 156.4,218 154.8,216.4 153,218.5 151.2,216.2 149.2,216.9 147.3,218.3 146.2,217.4 144.2,216.2 142.3,217.3 140.7,217.7 138.8,217.4 137.5,220 135.9,217.4 134,216.2 132.6,217.8 130.7,218 129.3,217.4 127.1,218.2 125.9,217.8 123.7,218.2 121.8,218.2 120,218.8 118.8,217.9 118.8,218.5 116.8,216.9 115.9,216 114.3,215.5 112.6,214.2 111,214 109.6,212.8 108.3,211.8 106.8,211.4 105.5,210.4 103.9,210.3 102.3,207 101.4,208.4 99.5,206.6 98.3,206.2 96.9,204.6 95.5,205 94.2,202.4 92.4,202.5 90.6,200.5 89.5,199.8 87.8,201.8 86.6,199.1 85.4,198 83.5,196.7 82.5,193.7 80.4,195.7 79.5,195.6 77.8,194 76.1,191.6 74.8,190.9 73.6,191.4 71.8,190.4 70.5,189 68.9,188.3 68,187.4 65.8,187.1 64.5,184.7 63.4,185.5 62.1,183.3 60.6,182.4 59,182 57.4,182 56.1,181.4 54.7,179.2 52.9,178.3 51.2,177.8 49.8,178.4" fill="url(#nzb)" stroke="#000" stroke-width="0.6" filter="url(#soft)"/>
<polygon points="133.1,35.7 139.8,35.7 139.8,98.2 140.4,98.2 140.4,174.6 132.6,176.1 132.6,98.2 133.1,98.2" fill="#8a0a0a" stroke="#000" stroke-width="0.7"/>
<polygon points="132.6,98.2 134,98.2 134,175.6 132.6,176.1" fill="#000"/>
<polygon points="139.1,107.9 140.4,107.9 140.4,174.6 139.1,174.6" fill="#000"/>
<polygon points="133.1,66.3 134,66.3 134,98.2 133.1,98.2" fill="#000"/>
<rect x="133.1" y="35.1" width="6.7" height="1.1" fill="#000"/>
<polygon points="146.3,42.7 149.2,42.7 149.2,179.8 146.3,180.8" fill="#8a0a0a" stroke="#000" stroke-width="0.5"/>
<polygon points="146,111.3 147.3,111.3 147.3,180.4 146,180.8" fill="#000"/>
<rect x="146.3" y="42.1" width="2.9" height="1.1" fill="#000"/>
<polygon points="157,128.3 158.2,128.3 158.5,140.3 156.7,140.3" fill="#111"/>
<polygon points="156.7,140.3 158.5,140.3 158.7,152.4 156.5,152.4" fill="#108060"/>
<polygon points="156.5,152.4 158.7,152.4 158.9,164.4 156.3,164.4" fill="#10c070"/>
<polygon points="156.3,164.4 158.9,164.4 159.2,176.5 156,176.5" fill="#20d080"/>
<polygon points="156,176.5 159.2,176.5 159.4,188.5 155.8,188.5" fill="#10c070"/>
<line x1="155.8" y1="146.4" x2="155.8" y2="188.5" stroke="#000" stroke-width="0.9"/>
<polygon points="180.9,41.2 188,41.2 188,100.4 188.6,100.4 188.6,172.8 180.4,174.3 180.4,100.4 180.9,100.4" fill="#8a0a0a" stroke="#000" stroke-width="0.7"/>
<polygon points="180.4,100.4 181.8,100.4 181.8,173.8 180.4,174.3" fill="#000"/>
<polygon points="187.3,109.6 188.6,109.6 188.6,172.8 187.3,172.8" fill="#000"/>
<polygon points="180.9,70.2 181.8,70.2 181.8,100.4 180.9,100.4" fill="#000"/>
<rect x="180.9" y="40.6" width="7.1" height="1.1" fill="#000"/>
<polygon points="194.3,47.3 197.2,47.3 197.2,179.8 194.3,180.8" fill="#8a0a0a" stroke="#000" stroke-width="0.5"/>
<polygon points="194,113.5 195.3,113.5 195.3,180.4 194,180.8" fill="#000"/>
<rect x="194.3" y="46.7" width="2.9" height="1.1" fill="#000"/>
<polygon points="204.6,120.5 205.8,120.5 206,133.4 204.4,133.4" fill="#a0c020"/>
<polygon points="204.4,133.4 206,133.4 206.2,146.3 204.2,146.3" fill="#111"/>
<polygon points="204.2,146.3 206.2,146.3 206.4,159.2 204,159.2" fill="#1060c0"/>
<polygon points="204,159.2 206.4,159.2 206.6,172.1 203.8,172.1" fill="#20b0d0"/>
<polygon points="203.8,172.1 206.6,172.1 206.8,185 203.6,185" fill="#20c060"/>
<line x1="203.6" y1="139.8" x2="203.6" y2="185" stroke="#000" stroke-width="0.9"/>
<polygon points="229.8,131.8 236,131.8 236,143.9 236.6,143.9 236.6,172 229.3,173.5 229.3,143.9 229.8,143.9" fill="#20b4c4" stroke="#000" stroke-width="0.7"/>
<polygon points="229.3,143.9 230.6,143.9 230.6,173 229.3,173.5" fill="#000"/>
<polygon points="235.4,152.7 236.6,152.7 236.6,172 235.4,172" fill="#000"/>
<polygon points="229.8,140.6 230.7,140.6 230.7,143.9 229.8,143.9" fill="#000"/>
<rect x="229.8" y="131.2" width="6.2" height="1.1" fill="#000"/>
<polygon points="242.8,138.8 244,138.8 244.3,148.6 242.5,148.6" fill="#20b4c4"/>
<polygon points="242.5,148.6 244.3,148.6 244.6,158.4 242.2,158.4" fill="#1ca8b8"/>
<polygon points="242.2,158.4 244.6,158.4 244.9,168.2 241.9,168.2" fill="#20c0d0"/>
<polygon points="241.9,168.2 244.9,168.2 245.2,178 241.6,178" fill="#20c0d0"/>
<line x1="241.6" y1="150.6" x2="241.6" y2="178" stroke="#000" stroke-width="0.9"/>
<polygon points="252.7,150.5 253.5,150.5 253.8,162 252.4,162" fill="#111"/>
<polygon points="252.4,162 253.8,162 254,173.5 252.2,173.5" fill="#2060c0"/>
<polygon points="252.2,173.5 254,173.5 254.3,185 251.9,185" fill="#2090d0"/>
<line x1="251.9" y1="160.8" x2="251.9" y2="185" stroke="#000" stroke-width="0.9"/>
<polygon points="278,90.5 284.3,90.5 284.3,114.7 284.9,114.7 284.9,171 277.5,172.5 277.5,114.7 278,114.7" fill="#c8c010" stroke="#000" stroke-width="0.7"/>
<polygon points="277.5,114.7 278.8,114.7 278.8,172 277.5,172.5" fill="#000"/>
<polygon points="283.7,132.4 284.9,132.4 284.9,171 283.7,171" fill="#000"/>
<polygon points="278,108.2 278.9,108.2 278.9,114.7 278,114.7" fill="#000"/>
<rect x="278" y="89.9" width="6.3" height="1.1" fill="#000"/>
<polygon points="290,96.5 293.2,96.5 293.2,177 290,178" fill="#c8c010" stroke="#000" stroke-width="0.5"/>
<polygon points="289.7,132.7 291.1,132.7 291.1,177.6 289.7,178" fill="#000"/>
<rect x="290" y="95.9" width="3.2" height="1.1" fill="#000"/>
<polygon points="300.5,129 301.5,129 301.6,137.9 300.4,137.9" fill="#111"/>
<polygon points="300.4,137.9 301.6,137.9 301.7,146.8 300.3,146.8" fill="#30c0c0"/>
<polygon points="300.3,146.8 301.7,146.8 301.9,155.8 300.1,155.8" fill="#111"/>
<polygon points="300.1,155.8 301.9,155.8 302,164.7 300,164.7" fill="#111"/>
<polygon points="300,164.7 302,164.7 302.2,173.6 299.8,173.6" fill="#20c080"/>
<polygon points="299.8,173.6 302.2,173.6 302.3,182.5 299.7,182.5" fill="#20d080"/>
<line x1="299.7" y1="145.1" x2="299.7" y2="182.5" stroke="#000" stroke-width="0.9"/>
<polygon points="325.6,43.5 332.6,43.5 332.6,81.3 333.2,81.3 333.2,169.5 325.1,171 325.1,81.3 325.6,81.3" fill="#cc1010" stroke="#000" stroke-width="0.7"/>
<polygon points="328.8,81.3 329.8,81.3 329.8,169.5 328.8,169.5" fill="#8a0808"/>
<polygon points="331.9,109 333.2,109 333.2,169.5 331.9,169.5" fill="#000"/>
<polygon points="325.6,71.2 326.5,71.2 326.5,81.3 325.6,81.3" fill="#000"/>
<rect x="325.6" y="42.9" width="7" height="1.1" fill="#000"/>
<polygon points="338,50 341,50 341,175.5 338,176.5" fill="#cc1010" stroke="#000" stroke-width="0.5"/>
<polygon points="337.7,106.5 339.1,106.5 339.1,176.1 337.7,176.5" fill="#000"/>
<rect x="338" y="49.4" width="3" height="1.1" fill="#000"/>
<polygon points="348.2,117.5 349.4,117.5 349.6,130.2 348,130.2" fill="#60c040"/>
<polygon points="348,130.2 349.6,130.2 349.8,142.9 347.8,142.9" fill="#111"/>
<polygon points="347.8,142.9 349.8,142.9 350,155.6 347.6,155.6" fill="#111"/>
<polygon points="347.6,155.6 350,155.6 350.2,168.3 347.4,168.3" fill="#20c0c0"/>
<polygon points="347.4,168.3 350.2,168.3 350.4,181 347.2,181" fill="#20d080"/>
<line x1="347.2" y1="136.6" x2="347.2" y2="181" stroke="#000" stroke-width="0.9"/>
<polygon points="166.8,185 167.2,185 167.7,194 166.3,194" fill="#3080d0"/>
<polygon points="215.2,185 215.8,185 216.2,200 214.8,200" fill="#2070d0"/>
<polygon points="358.8,180 359.2,180 359.6,186 358.4,186" fill="#30a0d0"/>
<text x="137.4" y="33" font-size="10.2" text-anchor="middle" class="sans" fill="#2a2a30" style="stroke:#2a2a30;stroke-width:0.2px">M</text>
<text x="186.3" y="36" font-size="10.2" text-anchor="middle" class="sans" fill="#2a2a30" style="stroke:#2a2a30;stroke-width:0.2px">K</text>
<text x="234.3" y="123.8" font-size="10.2" text-anchor="middle" class="sans" fill="#2a2a30" style="stroke:#2a2a30;stroke-width:0.2px">C</text>
<text x="281" y="83.8" font-size="10.2" text-anchor="middle" class="sans" fill="#2a2a30" style="stroke:#2a2a30;stroke-width:0.2px">B</text>
<text x="327" y="36.5" font-size="10.2" text-anchor="middle" class="sans" fill="#2a2a30" style="stroke:#2a2a30;stroke-width:0.2px">A</text>
<text x="243.2" y="12.5" font-size="12" text-anchor="middle" class="serif" fill="#111" textLength="33.5" lengthAdjust="spacingAndGlyphs">KRXD</text>
<text transform="translate(14.6,108.6) rotate(-90)" font-size="12" text-anchor="middle" class="serif" fill="#111" textLength="42.5" lengthAdjust="spacingAndGlyphs">Intensity</text>
<text x="42.3" y="187.5" font-size="9.2" text-anchor="end" class="sans" fill="#111" textLength="4.9" lengthAdjust="spacingAndGlyphs">0</text>
<text x="42.3" y="133.7" font-size="9.2" text-anchor="end" class="sans" fill="#111" textLength="14.7" lengthAdjust="spacingAndGlyphs">500</text>
<text x="42.3" y="79.8" font-size="9.2" text-anchor="end" class="sans" fill="#111" textLength="19.6" lengthAdjust="spacingAndGlyphs">1000</text>
<text x="42.3" y="26" font-size="9.2" text-anchor="end" class="sans" fill="#111" textLength="19.6" lengthAdjust="spacingAndGlyphs">1500</text>
<text x="40.1" y="199.7" font-size="9.2" text-anchor="end" class="sans" fill="#111" textLength="4.9" lengthAdjust="spacingAndGlyphs">0</text>
<text x="72.4" y="222.7" font-size="9.2" text-anchor="end" class="sans" fill="#111" textLength="14.7" lengthAdjust="spacingAndGlyphs">100</text>
<text x="104.7" y="245.7" font-size="9.2" text-anchor="end" class="sans" fill="#111" textLength="14.7" lengthAdjust="spacingAndGlyphs">200</text>
<text x="444.3" y="240.4" font-size="9.2" text-anchor="start" class="sans" fill="#111" textLength="4.9" lengthAdjust="spacingAndGlyphs">0</text>
<text x="412.3" y="241.4" font-size="9.2" text-anchor="start" class="sans" fill="#111" textLength="9.8" lengthAdjust="spacingAndGlyphs">20</text>
<text x="380.2" y="242.5" font-size="9.2" text-anchor="start" class="sans" fill="#111" textLength="9.8" lengthAdjust="spacingAndGlyphs">40</text>
<text x="348.2" y="243.5" font-size="9.2" text-anchor="start" class="sans" fill="#111" textLength="9.8" lengthAdjust="spacingAndGlyphs">60</text>
<text x="316.2" y="244.5" font-size="9.2" text-anchor="start" class="sans" fill="#111" textLength="9.8" lengthAdjust="spacingAndGlyphs">80</text>
<text x="284.2" y="245.5" font-size="9.2" text-anchor="start" class="sans" fill="#111" textLength="14.7" lengthAdjust="spacingAndGlyphs">100</text>
<text x="252.1" y="246.6" font-size="9.2" text-anchor="start" class="sans" fill="#111" textLength="14.7" lengthAdjust="spacingAndGlyphs">120</text>
<text x="220.1" y="247.6" font-size="9.2" text-anchor="start" class="sans" fill="#111" textLength="14.7" lengthAdjust="spacingAndGlyphs">140</text>
<text x="188.1" y="248.6" font-size="9.2" text-anchor="start" class="sans" fill="#111" textLength="14.7" lengthAdjust="spacingAndGlyphs">160</text>
<text x="156" y="249.7" font-size="9.2" text-anchor="start" class="sans" fill="#111" textLength="14.7" lengthAdjust="spacingAndGlyphs">180</text>
<text x="124" y="250.7" font-size="9.2" text-anchor="start" class="sans" fill="#111" textLength="14.7" lengthAdjust="spacingAndGlyphs">200</text>
<text x="20.9" y="221.6" font-size="10.5" text-anchor="start" class="serif" fill="#111" textLength="21" lengthAdjust="spacingAndGlyphs">Pixel</text>
<text x="20.9" y="234.4" font-size="10.5" text-anchor="start" class="serif" fill="#111" textLength="33" lengthAdjust="spacingAndGlyphs">column</text>
<text x="261.5" y="259" font-size="12" text-anchor="middle" class="serif" fill="#111" textLength="50" lengthAdjust="spacingAndGlyphs">Pixel row</text>
<linearGradient id="cba" x1="0" y1="1" x2="0" y2="0">
<stop offset="0%" stop-color="#00008f"/>
<stop offset="1.6%" stop-color="#00009d"/>
<stop offset="3.1%" stop-color="#0000ab"/>
<stop offset="4.7%" stop-color="#0000b9"/>
<stop offset="6.2%" stop-color="#0000c7"/>
<stop offset="7.8%" stop-color="#0000d5"/>
<stop offset="9.4%" stop-color="#0000e3"/>
<stop offset="10.9%" stop-color="#0000f1"/>
<stop offset="12.5%" stop-color="#0000ff"/>
<stop offset="14.1%" stop-color="#0010ff"/>
<stop offset="15.6%" stop-color="#0020ff"/>
<stop offset="17.2%" stop-color="#0030ff"/>
<stop offset="18.8%" stop-color="#0040ff"/>
<stop offset="20.3%" stop-color="#0050ff"/>
<stop offset="21.9%" stop-color="#0060ff"/>
<stop offset="23.4%" stop-color="#0070ff"/>
<stop offset="25%" stop-color="#0080ff"/>
<stop offset="26.6%" stop-color="#008fff"/>
<stop offset="28.1%" stop-color="#009fff"/>
<stop offset="29.7%" stop-color="#00afff"/>
<stop offset="31.2%" stop-color="#00bfff"/>
<stop offset="32.8%" stop-color="#00cfff"/>
<stop offset="34.4%" stop-color="#00dfff"/>
<stop offset="35.9%" stop-color="#00efff"/>
<stop offset="37.5%" stop-color="#00ffff"/>
<stop offset="39.1%" stop-color="#10ffef"/>
<stop offset="40.6%" stop-color="#20ffdf"/>
<stop offset="42.2%" stop-color="#30ffcf"/>
<stop offset="43.8%" stop-color="#40ffbf"/>
<stop offset="45.3%" stop-color="#50ffaf"/>
<stop offset="46.9%" stop-color="#60ff9f"/>
<stop offset="48.4%" stop-color="#70ff8f"/>
<stop offset="50%" stop-color="#80ff80"/>
<stop offset="51.6%" stop-color="#8fff70"/>
<stop offset="53.1%" stop-color="#9fff60"/>
<stop offset="54.7%" stop-color="#afff50"/>
<stop offset="56.2%" stop-color="#bfff40"/>
<stop offset="57.8%" stop-color="#cfff30"/>
<stop offset="59.4%" stop-color="#dfff20"/>
<stop offset="60.9%" stop-color="#efff10"/>
<stop offset="62.5%" stop-color="#ffff00"/>
<stop offset="64.1%" stop-color="#ffef00"/>
<stop offset="65.6%" stop-color="#ffdf00"/>
<stop offset="67.2%" stop-color="#ffcf00"/>
<stop offset="68.8%" stop-color="#ffbf00"/>
<stop offset="70.3%" stop-color="#ffaf00"/>
<stop offset="71.9%" stop-color="#ff9f00"/>
<stop offset="73.4%" stop-color="#ff8f00"/>
<stop offset="75%" stop-color="#ff8000"/>
<stop offset="76.6%" stop-color="#ff7000"/>
<stop offset="78.1%" stop-color="#ff6000"/>
<stop offset="79.7%" stop-color="#ff5000"/>
<stop offset="81.2%" stop-color="#ff4000"/>
<stop offset="82.8%" stop-color="#ff3000"/>
<stop offset="84.4%" stop-color="#ff2000"/>
<stop offset="85.9%" stop-color="#ff1000"/>
<stop offset="87.5%" stop-color="#ff0000"/>
<stop offset="89.1%" stop-color="#ef0000"/>
<stop offset="90.6%" stop-color="#df0000"/>
<stop offset="92.2%" stop-color="#cf0000"/>
<stop offset="93.8%" stop-color="#c00000"/>
<stop offset="95.3%" stop-color="#b00000"/>
<stop offset="96.9%" stop-color="#a00000"/>
<stop offset="98.4%" stop-color="#900000"/>
<stop offset="100%" stop-color="#800000"/>
</linearGradient>
<rect x="449.3" y="19.4" width="17.9" height="216.1" fill="url(#cba)" stroke="#222" stroke-width="0.6"/>
<path d="M449.3 31.3h2M467.2 31.3h-2" stroke="#111" stroke-width="0.7"/>
<text x="469.3" y="34.2" font-size="9.2" text-anchor="start" class="sans" fill="#111" textLength="19.2" lengthAdjust="spacingAndGlyphs">1400</text>
<path d="M449.3 61.4h2M467.2 61.4h-2" stroke="#111" stroke-width="0.7"/>
<text x="469.3" y="64.2" font-size="9.2" text-anchor="start" class="sans" fill="#111" textLength="19.2" lengthAdjust="spacingAndGlyphs">1200</text>
<path d="M449.3 91.4h2M467.2 91.4h-2" stroke="#111" stroke-width="0.7"/>
<text x="469.3" y="94.3" font-size="9.2" text-anchor="start" class="sans" fill="#111" textLength="19.2" lengthAdjust="spacingAndGlyphs">1000</text>
<path d="M449.3 121.5h2M467.2 121.5h-2" stroke="#111" stroke-width="0.7"/>
<text x="469.3" y="124.3" font-size="9.2" text-anchor="start" class="sans" fill="#111" textLength="14.4" lengthAdjust="spacingAndGlyphs">800</text>
<path d="M449.3 151.5h2M467.2 151.5h-2" stroke="#111" stroke-width="0.7"/>
<text x="469.3" y="154.4" font-size="9.2" text-anchor="start" class="sans" fill="#111" textLength="14.4" lengthAdjust="spacingAndGlyphs">600</text>
<path d="M449.3 181.6h2M467.2 181.6h-2" stroke="#111" stroke-width="0.7"/>
<text x="469.3" y="184.4" font-size="9.2" text-anchor="start" class="sans" fill="#111" textLength="14.4" lengthAdjust="spacingAndGlyphs">400</text>
<path d="M449.3 211.6h2M467.2 211.6h-2" stroke="#111" stroke-width="0.7"/>
<text x="469.3" y="214.5" font-size="9.2" text-anchor="start" class="sans" fill="#111" textLength="14.4" lengthAdjust="spacingAndGlyphs">200</text>
<text x="247.8" y="294" font-size="26" text-anchor="middle" class="cap serif" fill="#000">(<tspan font-weight="bold">a</tspan>)</text>
<line class="dot" x1="893.9" y1="193.2" x2="893.9" y2="18.2"/>
<line class="dot" x1="861" y1="194.1" x2="861" y2="19.1"/>
<line class="dot" x1="828.1" y1="194.9" x2="828.1" y2="19.9"/>
<line class="dot" x1="795.2" y1="195.8" x2="795.2" y2="20.8"/>
<line class="dot" x1="762.3" y1="196.6" x2="762.3" y2="21.6"/>
<line class="dot" x1="729.3" y1="197.5" x2="729.3" y2="22.5"/>
<line class="dot" x1="696.4" y1="198.4" x2="696.4" y2="23.4"/>
<line class="dot" x1="663.5" y1="199.2" x2="663.5" y2="24.2"/>
<line class="dot" x1="630.6" y1="200.1" x2="630.6" y2="25.1"/>
<line class="dot" x1="597.7" y1="200.9" x2="597.7" y2="25.9"/>
<line class="sol" x1="564.8" y1="201.8" x2="564.8" y2="26.8"/>
<line class="dot" x1="564.8" y1="176.8" x2="893.9" y2="168.2"/>
<line class="dash" x1="893.9" y1="168.2" x2="966.4" y2="204.5"/>
<line class="dot" x1="564.8" y1="151.8" x2="893.9" y2="143.2"/>
<line class="dash" x1="893.9" y1="143.2" x2="966.4" y2="179.5"/>
<line class="dot" x1="564.8" y1="126.8" x2="893.9" y2="118.2"/>
<line class="dash" x1="893.9" y1="118.2" x2="966.4" y2="154.5"/>
<line class="dot" x1="564.8" y1="101.8" x2="893.9" y2="93.2"/>
<line class="dash" x1="893.9" y1="93.2" x2="966.4" y2="129.5"/>
<line class="dot" x1="564.8" y1="76.8" x2="893.9" y2="68.2"/>
<line class="dash" x1="893.9" y1="68.2" x2="966.4" y2="104.5"/>
<line class="dot" x1="564.8" y1="51.8" x2="893.9" y2="43.2"/>
<line class="dash" x1="893.9" y1="43.2" x2="966.4" y2="79.5"/>
<line class="dot" x1="564.8" y1="26.8" x2="893.9" y2="18.2"/>
<line class="dash" x1="893.9" y1="18.2" x2="966.4" y2="54.5"/>
<line class="dot" x1="930.1" y1="211.4" x2="930.1" y2="36.4"/>
<line class="dot" x1="966.4" y1="229.5" x2="966.4" y2="54.5"/>
<line class="dash fl" x1="893.9" y1="193.2" x2="966.4" y2="229.5"/>
<line class="dash fl" x1="861" y1="194.1" x2="933.5" y2="230.4"/>
<line class="dash fl" x1="828.1" y1="194.9" x2="900.6" y2="231.2"/>
<line class="dash fl" x1="795.2" y1="195.8" x2="867.7" y2="232.1"/>
<line class="dash fl" x1="762.3" y1="196.6" x2="834.8" y2="232.9"/>
<line class="dash fl" x1="729.3" y1="197.5" x2="801.9" y2="233.8"/>
<line class="dash fl" x1="696.4" y1="198.4" x2="768.9" y2="234.7"/>
<line class="dash fl" x1="663.5" y1="199.2" x2="736" y2="235.5"/>
<line class="dash fl" x1="630.6" y1="200.1" x2="703.1" y2="236.4"/>
<line class="dash fl" x1="597.7" y1="200.9" x2="670.2" y2="237.2"/>
<line class="dot" x1="564.8" y1="201.8" x2="893.9" y2="193.2"/>
<line class="dot" x1="601" y1="220" x2="930.1" y2="211.4"/>
<line class="sol" x1="564.8" y1="201.8" x2="637.3" y2="238.1"/>
<line class="sol" x1="637.3" y1="238.1" x2="966.4" y2="229.5"/>
<line class="sol" x1="966.4" y1="229.5" x2="973.6" y2="233.1"/>
<line class="sol" x1="933.5" y1="230.4" x2="940.6" y2="233.9"/>
<line class="sol" x1="900.6" y1="231.2" x2="907.7" y2="234.8"/>
<line class="sol" x1="867.7" y1="232.1" x2="874.8" y2="235.7"/>
<line class="sol" x1="834.8" y1="232.9" x2="841.9" y2="236.5"/>
<line class="sol" x1="801.9" y1="233.8" x2="809" y2="237.4"/>
<line class="sol" x1="768.9" y1="234.7" x2="776.1" y2="238.2"/>
<line class="sol" x1="736" y1="235.5" x2="743.2" y2="239.1"/>
<line class="sol" x1="703.1" y1="236.4" x2="710.3" y2="240"/>
<line class="sol" x1="670.2" y1="237.2" x2="677.4" y2="240.8"/>
<line class="sol" x1="637.3" y1="238.1" x2="644.5" y2="241.7"/>
<line class="sol" x1="564.8" y1="201.8" x2="556.8" y2="202"/>
<line class="sol" x1="601" y1="220" x2="593.1" y2="220.2"/>
<line class="sol" x1="637.3" y1="238.1" x2="629.3" y2="238.3"/>
<line class="sol" x1="564.8" y1="201.8" x2="557.6" y2="198.2"/>
<line class="sol" x1="564.8" y1="176.8" x2="557.6" y2="173.2"/>
<line class="sol" x1="564.8" y1="151.8" x2="557.6" y2="148.2"/>
<line class="sol" x1="564.8" y1="126.8" x2="557.6" y2="123.2"/>
<line class="sol" x1="564.8" y1="101.8" x2="557.6" y2="98.2"/>
<line class="sol" x1="564.8" y1="76.8" x2="557.6" y2="73.2"/>
<line class="sol" x1="564.8" y1="51.8" x2="557.6" y2="48.2"/>
<line class="sol" x1="564.8" y1="26.8" x2="557.6" y2="23.2"/>
<polygon points="565.1,175.8 566.2,176 568.4,175.6 570.1,176.4 571.7,175.5 573.6,175.8 574.7,176.9 577.1,177.5 578.2,175.4 579.8,174.1 582,176.5 583.7,177 584.9,175.2 586.7,176.4 588.3,175.6 590.2,174.9 591.9,175.4 593.8,177.9 595.1,175.8 597.1,175.3 599.1,175.2 600.4,175.3 602.6,174.6 603.6,173.9 606.1,175.8 607.4,172.2 608.9,175.7 610.7,175 612.9,174.7 614,174.3 615.6,175 617.3,175 619.6,175.2 621,174.8 623.1,174.6 624.8,172.6 626,174.2 627.9,176.3 629.4,175.3 631.3,174.3 633.1,174.9 634.6,174 636.5,175 637.9,174.8 639.9,174.8 641.5,172.5 643,173.7 645.1,173.5 646.4,173.5 648.2,173.1 649.9,173.4 652.1,172.7 653.8,173.2 655.1,171.8 657.1,174.3 658.3,173.5 660.1,173 661.6,173.3 663.9,174.1 665.5,173.4 667.2,172.9 669,173.2 670.6,173.3 672.2,173.9 674.2,173.7 675.8,173.9 677.5,173.5 678.9,172.9 680.7,172.4 682.6,173.8 684.1,172.5 686,172.7 687.9,173.2 689.4,171.5 691,172.6 692.3,175.2 694.6,172.1 696.1,174.7 697.8,172.7 699.5,172.9 701.2,173.1 703.3,172.2 704.5,172.7 706,173 707.7,172 709.7,171.5 711.4,172.1 713,172.4 715,171.6 716.6,174.1 718.2,172.5 719.7,170.8 721.8,172.5 723.4,171.7 725,172.6 727,171.8 728.3,171.6 729.9,171.5 732.2,171.3 733.5,170.8 735.1,171.4 737.2,168.4 738.6,170.9 740.4,171.2 742,171.6 744.1,173.2 745.9,171.8 747,171.9 748.6,171.3 751,168.1 752.1,170.6 753.9,169.3 755.5,170.6 757.7,172.6 759.3,171.5 761,171.5 762.9,171.2 764.5,169.4 766,171 767.8,172.1 769.1,170 770.8,170.3 772.8,169.8 774.6,170.2 776.5,169.4 778,170.1 779.6,170.8 781.7,169.9 783.2,170.4 784.9,167.3 786.3,170.8 788.2,172.5 789.5,170.6 791.7,170.2 793.2,170.5 795,169.6 796.7,169.2 798.5,169.4 800.4,169.2 801.8,169.3 803.9,169.5 805.5,169.6 806.8,169.1 808.7,169.3 810.5,168.5 812.1,170.8 813.4,168.9 815.8,167.9 817.4,169.4 819,170.8 820.7,169.2 822.4,168.9 824,169.2 825.4,169.5 827.6,168 829.2,170.6 831,169.3 832.3,168.5 834.1,168.5 836,168.3 837.7,167.7 839,165.8 841.4,168.6 842.4,168.2 844.8,168.5 846.1,170.8 848,167.5 849.3,167 851.4,167.2 853.3,166.2 854.4,168.7 856.6,165.1 857.8,168.3 860,165.4 861.7,168.5 863.3,165.6 865.3,167.7 867,166.8 867.9,166.7 870.3,167.7 871.9,167.2 873.7,166 875,166.6 876.8,167.3 878.8,166.7 880.4,166.9 881.9,167.1 884,167.9 885.2,167.2 887.5,164.7 888.7,167.6 890.9,166.9 892,167.1 894.2,166.6 894,167.2 895.7,169.3 896.7,167.6 898.5,169 899.6,170.8 901.7,172 902.8,171.8 904.7,173.7 905.9,174 907.5,171.9 909.2,174.3 910.3,177.6 912,176.7 913.3,176 915,178.5 916.8,176.7 918.1,179.1 919.9,182 921.2,181.1 922.4,180.7 924,183.1 925.5,183.4 926.8,183.7 928.5,187.8 930.4,186.2 931.7,185.2 932.8,187.6 935.1,185.7 936.2,189.1 937.9,189.1 939.4,191.5 941.1,192.5 942,191.5 943.4,191.8 945.6,194 947.1,194.5 948.4,194.7 949.5,196 951.3,196.7 953.2,197.9 954.3,198.5 956.2,198 957,199.8 958.7,200.2 960.6,202.6 962.1,200.1 963.8,203.7 964.6,201.8 966.5,205.8 966.6,210.2 964.6,208.1 963,209.5 961.1,208.8 959.2,210.6 957.6,210.6 956,211.1 954.8,212.3 952.7,209.7 951.4,208.4 949.3,210.7 947.9,210 945.7,210.8 943.9,209.5 942.3,210.7 940.7,212.1 939,210.1 937.3,211.9 935.6,210.8 933.8,212.5 932.7,210.1 930.4,211 928.8,210.5 927.1,209.8 925.9,211.9 923.7,209 922.3,210.3 920.8,210.5 918.6,211.7 916.6,209.5 915.1,211.3 914,211.1 911.6,211.4 910.4,210 908.2,210.9 906.9,209.3 904.9,211.1 903.6,211.5 901.5,211.7 900.2,209.2 898,212 896.5,212.6 894.9,212.4 893.5,208.9 891.3,212.5 890.1,210.5 888,211.3 886,211.8 884.7,211.8 883.2,210.1 881.2,212.7 879.5,212.4 878.2,211.3 876.2,214.3 874.5,212.2 873.2,209.4 870.8,211.7 869.6,211.4 867.8,211.6 865.6,211.1 864.3,212.5 862.3,212.7 860.5,212.9 859.2,210.7 857.2,212.2 855.5,212.3 853.8,213.3 852.6,212.6 851,213.3 848.9,212.4 847.2,212.8 845.8,214.9 843.7,212.4 842.5,212.7 840.7,213.7 838.4,214.2 837.4,213.8 835.3,212.2 833.7,212.9 831.9,210.8 829.9,212.3 828.8,215.6 827.1,213.5 825.4,214.8 823.2,213.6 821.5,213.6 820.1,214.2 818.3,212.6 816.4,214.3 815,212.9 813.6,213.7 811.3,213.4 809.5,213.7 807.8,211.9 806.2,213.6 804.4,212.8 803.1,214.4 801.4,213.7 799.6,214.3 798,213.8 796,213.6 794.5,212.9 792.4,214.2 791.4,213.6 789.4,214.2 788.1,213.4 785.7,214.7 784.6,211.9 782.5,213.5 781.1,214.1 779.5,213.8 777.2,214.9 775.9,214.2 774.3,214.4 772.6,214.5 770.9,215 769.1,215.1 767,216.4 765.8,213.8 763.8,214.6 762.1,214.9 760.7,215.5 758.7,214.6 757.2,214.6 755.4,214.7 753.5,214.6 751.9,215.6 750,214.8 748.6,214.4 746.5,215 745.4,214.8 743.8,216.3 742.1,215.1 739.7,212.3 738.7,215.3 736.6,216 734.9,215.4 733.1,215.6 731.4,215.6 730,217.6 728,214.8 726.5,215.2 725.1,216.3 723,215.4 721.2,216.6 719.8,215.5 718.3,215.4 716.2,216.8 714.6,216.5 713.2,216.9 710.8,215.7 709.4,215.2 707.4,215.4 706.1,216 704.4,216.9 702.5,213.5 701,215.8 699,213.1 697.6,216.4 695.8,215 694.2,215.9 692.8,216.1 690.4,216.2 689.2,214.9 687,215.7 685.8,216.3 683.5,217.1 682.4,213.6 680.3,217 678.6,215.2 677.1,217.4 675.3,216.3 674,215.9 672.3,216.7 670,217 668.9,214.3 667.2,216.6 665,217.9 663.4,217.8 661.5,219.2 659.8,217.4 658.6,216.5 656.4,217.7 654.8,215.8 653,218.1 651.2,217.1 649.7,217.1 647.8,215 646.2,217.1 644.5,216.1 643.1,216.6 641,217 641.1,216.7 639.4,217.9 638.4,216.7 636.5,213.8 635.4,214.4 633.9,212.8 631.9,212.7 630.5,210.8 628.9,212.5 627,210.7 626,209.9 624.1,207.9 622.8,208.6 621.1,207.9 619.4,207.2 617.6,204.7 616.5,205.8 614.8,203.5 613,204.7 611.5,201.7 610.2,202.6 608.4,201.9 607.3,202.4 605.1,202.5 604,199.6 602.2,199.9 600.9,199.4 599.4,197.5 597.3,197.9 596.4,195.1 594.1,196.6 592.6,192.9 591.2,194.5 589.6,191.5 588.5,192.8 586.8,192.6 585.2,191.9 583.1,190.8 581.8,191.1 580.7,187.3 578.6,188.3 577.5,186.5 575.9,188.5 574.3,184.9 572.9,186.8 570.7,184.9 569.8,184.8 568.1,184.4 566.3,183.7 565,180.3" fill="url(#nzb)" stroke="#000" stroke-width="0.6" filter="url(#soft)"/>
<polygon points="651,74 657.6,74 657.6,111.4 658.2,111.4 658.2,181 650.5,182.5 650.5,111.4 651,111.4" fill="#e0500c" stroke="#000" stroke-width="0.7"/>
<polygon points="650.5,111.4 651.9,111.4 651.9,182 650.5,182.5" fill="#000"/>
<polygon points="656.9,129.6 658.2,129.6 658.2,181 656.9,181" fill="#000"/>
<polygon points="651,97.5 651.9,97.5 651.9,111.4 651,111.4" fill="#000"/>
<rect x="651" y="73.4" width="6.6" height="1.1" fill="#000"/>
<polygon points="664,79 667.4,79 667.4,185 664,186" fill="#e0500c" stroke="#000" stroke-width="0.5"/>
<polygon points="663.7,132 665.2,132 665.2,185.6 663.7,186" fill="#000"/>
<rect x="664" y="78.4" width="3.4" height="1.1" fill="#000"/>
<polygon points="676.7,127.5 677.7,127.5 677.9,140 676.5,140" fill="#111"/>
<polygon points="676.5,140 677.9,140 678.1,152.5 676.3,152.5" fill="#111"/>
<polygon points="676.3,152.5 678.1,152.5 678.3,165 676.1,165" fill="#2080c0"/>
<polygon points="676.1,165 678.3,165 678.5,177.5 675.9,177.5" fill="#20c0a0"/>
<polygon points="675.9,177.5 678.5,177.5 678.7,190 675.7,190" fill="#30d070"/>
<line x1="675.7" y1="146.2" x2="675.7" y2="190" stroke="#000" stroke-width="0.9"/>
<polygon points="700.4,35 706.7,35 706.7,92.4 707.3,92.4 707.3,178.5 699.9,180 699.9,92.4 700.4,92.4" fill="#7c0808" stroke="#000" stroke-width="0.7"/>
<polygon points="699.9,92.4 701.2,92.4 701.2,179.5 699.9,180" fill="#000"/>
<polygon points="706.1,109.6 707.3,109.6 707.3,178.5 706.1,178.5" fill="#000"/>
<polygon points="700.4,66.6 701.3,66.6 701.3,92.4 700.4,92.4" fill="#000"/>
<rect x="700.4" y="34.4" width="6.3" height="1.1" fill="#000"/>
<polygon points="713.5,41 717,41 717,183.5 713.5,184.5" fill="#7c0808" stroke="#000" stroke-width="0.5"/>
<polygon points="713.2,112.2 714.7,112.2 714.7,184.1 713.2,184.5" fill="#000"/>
<rect x="713.5" y="40.4" width="3.5" height="1.1" fill="#000"/>
<polygon points="726.7,115 727.7,115 727.9,129.6 726.5,129.6" fill="#c0c020"/>
<polygon points="726.5,129.6 727.9,129.6 728.1,144.2 726.3,144.2" fill="#111"/>
<polygon points="726.3,144.2 728.1,144.2 728.3,158.8 726.1,158.8" fill="#2070c0"/>
<polygon points="726.1,158.8 728.3,158.8 728.5,173.4 725.9,173.4" fill="#20c0c0"/>
<polygon points="725.9,173.4 728.5,173.4 728.7,188 725.7,188" fill="#40d060"/>
<line x1="725.7" y1="136.9" x2="725.7" y2="188" stroke="#000" stroke-width="0.9"/>
<polygon points="749,142 755.5,142 755.5,152.8 756.1,152.8 756.1,178 748.5,179.5 748.5,152.8 749,152.8" fill="#20b4c4" stroke="#000" stroke-width="0.7"/>
<polygon points="748.5,152.8 749.8,152.8 749.8,179 748.5,179.5" fill="#000"/>
<polygon points="754.9,160.7 756.1,160.7 756.1,178 754.9,178" fill="#000"/>
<polygon points="749,149.9 749.9,149.9 749.9,152.8 749,152.8" fill="#000"/>
<rect x="749" y="141.4" width="6.5" height="1.1" fill="#000"/>
<polygon points="764.1,147.5 765.3,147.5 765.6,158.7 763.8,158.7" fill="#20b4c4"/>
<polygon points="763.8,158.7 765.6,158.7 766,169.8 763.4,169.8" fill="#1ca8b8"/>
<polygon points="763.4,169.8 766,169.8 766.3,181 763.1,181" fill="#20c0d0"/>
<line x1="763.1" y1="157.6" x2="763.1" y2="181" stroke="#000" stroke-width="0.9"/>
<polygon points="775.4,159 776.1,159 776.4,172.5 775,172.5" fill="#111"/>
<polygon points="775,172.5 776.4,172.5 776.7,186 774.7,186" fill="#2080c0"/>
<line x1="774.7" y1="167.1" x2="774.7" y2="186" stroke="#000" stroke-width="0.9"/>
<polygon points="799,98 805.6,98 805.6,121.7 806.2,121.7 806.2,177 798.5,178.5 798.5,121.7 799,121.7" fill="#c8c010" stroke="#000" stroke-width="0.7"/>
<polygon points="798.5,121.7 799.9,121.7 799.9,178 798.5,178.5" fill="#000"/>
<polygon points="804.9,139.1 806.2,139.1 806.2,177 804.9,177" fill="#000"/>
<polygon points="799,115.4 799.9,115.4 799.9,121.7 799,121.7" fill="#000"/>
<rect x="799" y="97.4" width="6.6" height="1.1" fill="#000"/>
<polygon points="812.4,104 816,104 816,182 812.4,183" fill="#c8c010" stroke="#000" stroke-width="0.5"/>
<polygon points="812.1,139.1 813.7,139.1 813.7,182.6 812.1,183" fill="#000"/>
<rect x="812.4" y="103.4" width="3.6" height="1.1" fill="#000"/>
<polygon points="825.2,137.5 826.2,137.5 826.5,149.6 824.9,149.6" fill="#111"/>
<polygon points="824.9,149.6 826.5,149.6 826.7,161.8 824.7,161.8" fill="#30c0c0"/>
<polygon points="824.7,161.8 826.7,161.8 827,173.9 824.4,173.9" fill="#111"/>
<polygon points="824.4,173.9 827,173.9 827.2,186 824.2,186" fill="#20c0c0"/>
<line x1="824.2" y1="152.1" x2="824.2" y2="186" stroke="#000" stroke-width="0.9"/>
<polygon points="848,31 854.6,31 854.6,81.8 855.2,81.8 855.2,176 847.5,177.5 847.5,81.8 848,81.8" fill="#7c0808" stroke="#000" stroke-width="0.7"/>
<polygon points="847.5,81.8 848.9,81.8 848.9,177 847.5,177.5" fill="#000"/>
<polygon points="853.9,106.4 855.2,106.4 855.2,176 853.9,176" fill="#000"/>
<polygon points="848,62.9 848.9,62.9 848.9,81.8 848,81.8" fill="#000"/>
<rect x="848" y="30.4" width="6.6" height="1.1" fill="#000"/>
<polygon points="862,37 865.5,37 865.5,181 862,182" fill="#7c0808" stroke="#000" stroke-width="0.5"/>
<polygon points="861.7,101.8 863.2,101.8 863.2,181.6 861.7,182" fill="#000"/>
<rect x="862" y="36.4" width="3.5" height="1.1" fill="#000"/>
<polygon points="872.9,112.5 874.1,112.5 874.3,127.2 872.7,127.2" fill="#111"/>
<polygon points="872.7,127.2 874.3,127.2 874.5,141.9 872.5,141.9" fill="#111"/>
<polygon points="872.5,141.9 874.5,141.9 874.7,156.6 872.3,156.6" fill="#2080c0"/>
<polygon points="872.3,156.6 874.7,156.6 874.9,171.3 872.1,171.3" fill="#20c0c0"/>
<polygon points="872.1,171.3 874.9,171.3 875.1,186 871.9,186" fill="#20d090"/>
<line x1="871.9" y1="134.6" x2="871.9" y2="186" stroke="#000" stroke-width="0.9"/>
<polygon points="737.8,190 738.2,190 738.7,198 737.3,198" fill="#3080d0"/>
<polygon points="796.8,214 797.2,214 797.6,220 796.4,220" fill="#222"/>
<text x="654" y="66.3" font-size="10.2" text-anchor="middle" class="sans" fill="#2a2a30" style="stroke:#2a2a30;stroke-width:0.2px">M</text>
<text x="714" y="34.8" font-size="10.2" text-anchor="middle" class="sans" fill="#2a2a30" style="stroke:#2a2a30;stroke-width:0.2px">K</text>
<text x="754" y="137.8" font-size="10.2" text-anchor="middle" class="sans" fill="#2a2a30" style="stroke:#2a2a30;stroke-width:0.2px">C</text>
<text x="804.5" y="92.8" font-size="10.2" text-anchor="middle" class="sans" fill="#2a2a30" style="stroke:#2a2a30;stroke-width:0.2px">B</text>
<text x="840.5" y="38.8" font-size="10.2" text-anchor="middle" class="sans" fill="#2a2a30" style="stroke:#2a2a30;stroke-width:0.2px">A</text>
<text x="760.5" y="12.5" font-size="12" text-anchor="middle" class="serif" fill="#111" textLength="33.5" lengthAdjust="spacingAndGlyphs">RRXD</text>
<text transform="translate(527.3,112.5) rotate(-90)" font-size="12" text-anchor="middle" class="serif" fill="#111" textLength="43" lengthAdjust="spacingAndGlyphs">Intensity</text>
<text x="555.8" y="199.8" font-size="9.2" text-anchor="end" class="sans" fill="#111" textLength="4.9" lengthAdjust="spacingAndGlyphs">0</text>
<text x="555.8" y="174.8" font-size="9.2" text-anchor="end" class="sans" fill="#111" textLength="14.7" lengthAdjust="spacingAndGlyphs">200</text>
<text x="555.8" y="149.8" font-size="9.2" text-anchor="end" class="sans" fill="#111" textLength="14.7" lengthAdjust="spacingAndGlyphs">400</text>
<text x="555.8" y="124.8" font-size="9.2" text-anchor="end" class="sans" fill="#111" textLength="14.7" lengthAdjust="spacingAndGlyphs">600</text>
<text x="555.8" y="99.8" font-size="9.2" text-anchor="end" class="sans" fill="#111" textLength="14.7" lengthAdjust="spacingAndGlyphs">800</text>
<text x="555.8" y="74.8" font-size="9.2" text-anchor="end" class="sans" fill="#111" textLength="19.6" lengthAdjust="spacingAndGlyphs">1000</text>
<text x="555.8" y="49.8" font-size="9.2" text-anchor="end" class="sans" fill="#111" textLength="19.6" lengthAdjust="spacingAndGlyphs">1200</text>
<text x="555.8" y="24.8" font-size="9.2" text-anchor="end" class="sans" fill="#111" textLength="19.6" lengthAdjust="spacingAndGlyphs">1400</text>
<text x="554.5" y="210.6" font-size="9.2" text-anchor="end" class="sans" fill="#111" textLength="4.9" lengthAdjust="spacingAndGlyphs">0</text>
<text x="590.8" y="228.8" font-size="9.2" text-anchor="end" class="sans" fill="#111" textLength="14.7" lengthAdjust="spacingAndGlyphs">100</text>
<text x="627" y="246.9" font-size="9.2" text-anchor="end" class="sans" fill="#111" textLength="14.7" lengthAdjust="spacingAndGlyphs">200</text>
<text x="975.8" y="242.7" font-size="9.2" text-anchor="start" class="sans" fill="#111" textLength="4.9" lengthAdjust="spacingAndGlyphs">0</text>
<text x="942.9" y="243.6" font-size="9.2" text-anchor="start" class="sans" fill="#111" textLength="9.8" lengthAdjust="spacingAndGlyphs">20</text>
<text x="910" y="244.4" font-size="9.2" text-anchor="start" class="sans" fill="#111" textLength="9.8" lengthAdjust="spacingAndGlyphs">40</text>
<text x="877.1" y="245.3" font-size="9.2" text-anchor="start" class="sans" fill="#111" textLength="9.8" lengthAdjust="spacingAndGlyphs">60</text>
<text x="844.2" y="246.1" font-size="9.2" text-anchor="start" class="sans" fill="#111" textLength="9.8" lengthAdjust="spacingAndGlyphs">80</text>
<text x="811.2" y="247" font-size="9.2" text-anchor="start" class="sans" fill="#111" textLength="14.7" lengthAdjust="spacingAndGlyphs">100</text>
<text x="778.3" y="247.9" font-size="9.2" text-anchor="start" class="sans" fill="#111" textLength="14.7" lengthAdjust="spacingAndGlyphs">120</text>
<text x="745.4" y="248.7" font-size="9.2" text-anchor="start" class="sans" fill="#111" textLength="14.7" lengthAdjust="spacingAndGlyphs">140</text>
<text x="712.5" y="249.6" font-size="9.2" text-anchor="start" class="sans" fill="#111" textLength="14.7" lengthAdjust="spacingAndGlyphs">160</text>
<text x="679.6" y="250.4" font-size="9.2" text-anchor="start" class="sans" fill="#111" textLength="14.7" lengthAdjust="spacingAndGlyphs">180</text>
<text x="646.7" y="251.3" font-size="9.2" text-anchor="start" class="sans" fill="#111" textLength="14.7" lengthAdjust="spacingAndGlyphs">200</text>
<text x="547.4" y="232.4" font-size="11.4" text-anchor="start" class="serif" fill="#111" textLength="22.8" lengthAdjust="spacingAndGlyphs">Pixel</text>
<text x="547.4" y="245" font-size="11.4" text-anchor="start" class="serif" fill="#111" textLength="36" lengthAdjust="spacingAndGlyphs">column</text>
<text x="785.5" y="259" font-size="12" text-anchor="middle" class="serif" fill="#111" textLength="50" lengthAdjust="spacingAndGlyphs">Pixel row</text>
<linearGradient id="cbb" x1="0" y1="1" x2="0" y2="0">
<stop offset="0%" stop-color="#00008f"/>
<stop offset="1.6%" stop-color="#00009d"/>
<stop offset="3.1%" stop-color="#0000ab"/>
<stop offset="4.7%" stop-color="#0000b9"/>
<stop offset="6.2%" stop-color="#0000c7"/>
<stop offset="7.8%" stop-color="#0000d5"/>
<stop offset="9.4%" stop-color="#0000e3"/>
<stop offset="10.9%" stop-color="#0000f1"/>
<stop offset="12.5%" stop-color="#0000ff"/>
<stop offset="14.1%" stop-color="#0010ff"/>
<stop offset="15.6%" stop-color="#0020ff"/>
<stop offset="17.2%" stop-color="#0030ff"/>
<stop offset="18.8%" stop-color="#0040ff"/>
<stop offset="20.3%" stop-color="#0050ff"/>
<stop offset="21.9%" stop-color="#0060ff"/>
<stop offset="23.4%" stop-color="#0070ff"/>
<stop offset="25%" stop-color="#0080ff"/>
<stop offset="26.6%" stop-color="#008fff"/>
<stop offset="28.1%" stop-color="#009fff"/>
<stop offset="29.7%" stop-color="#00afff"/>
<stop offset="31.2%" stop-color="#00bfff"/>
<stop offset="32.8%" stop-color="#00cfff"/>
<stop offset="34.4%" stop-color="#00dfff"/>
<stop offset="35.9%" stop-color="#00efff"/>
<stop offset="37.5%" stop-color="#00ffff"/>
<stop offset="39.1%" stop-color="#10ffef"/>
<stop offset="40.6%" stop-color="#20ffdf"/>
<stop offset="42.2%" stop-color="#30ffcf"/>
<stop offset="43.8%" stop-color="#40ffbf"/>
<stop offset="45.3%" stop-color="#50ffaf"/>
<stop offset="46.9%" stop-color="#60ff9f"/>
<stop offset="48.4%" stop-color="#70ff8f"/>
<stop offset="50%" stop-color="#80ff80"/>
<stop offset="51.6%" stop-color="#8fff70"/>
<stop offset="53.1%" stop-color="#9fff60"/>
<stop offset="54.7%" stop-color="#afff50"/>
<stop offset="56.2%" stop-color="#bfff40"/>
<stop offset="57.8%" stop-color="#cfff30"/>
<stop offset="59.4%" stop-color="#dfff20"/>
<stop offset="60.9%" stop-color="#efff10"/>
<stop offset="62.5%" stop-color="#ffff00"/>
<stop offset="64.1%" stop-color="#ffef00"/>
<stop offset="65.6%" stop-color="#ffdf00"/>
<stop offset="67.2%" stop-color="#ffcf00"/>
<stop offset="68.8%" stop-color="#ffbf00"/>
<stop offset="70.3%" stop-color="#ffaf00"/>
<stop offset="71.9%" stop-color="#ff9f00"/>
<stop offset="73.4%" stop-color="#ff8f00"/>
<stop offset="75%" stop-color="#ff8000"/>
<stop offset="76.6%" stop-color="#ff7000"/>
<stop offset="78.1%" stop-color="#ff6000"/>
<stop offset="79.7%" stop-color="#ff5000"/>
<stop offset="81.2%" stop-color="#ff4000"/>
<stop offset="82.8%" stop-color="#ff3000"/>
<stop offset="84.4%" stop-color="#ff2000"/>
<stop offset="85.9%" stop-color="#ff1000"/>
<stop offset="87.5%" stop-color="#ff0000"/>
<stop offset="89.1%" stop-color="#ef0000"/>
<stop offset="90.6%" stop-color="#df0000"/>
<stop offset="92.2%" stop-color="#cf0000"/>
<stop offset="93.8%" stop-color="#c00000"/>
<stop offset="95.3%" stop-color="#b00000"/>
<stop offset="96.9%" stop-color="#a00000"/>
<stop offset="98.4%" stop-color="#900000"/>
<stop offset="100%" stop-color="#800000"/>
</linearGradient>
<rect x="980.4" y="18.3" width="17.8" height="218.5" fill="url(#cbb)" stroke="#222" stroke-width="0.6"/>
<path d="M980.4 44h2M998.2 44h-2" stroke="#111" stroke-width="0.7"/>
<text x="1000.5" y="46.9" font-size="9.2" text-anchor="start" class="sans" fill="#111" textLength="19.4" lengthAdjust="spacingAndGlyphs">1200</text>
<path d="M980.4 77h2M998.2 77h-2" stroke="#111" stroke-width="0.7"/>
<text x="1000.5" y="79.9" font-size="9.2" text-anchor="start" class="sans" fill="#111" textLength="19.4" lengthAdjust="spacingAndGlyphs">1000</text>
<path d="M980.4 110.1h2M998.2 110.1h-2" stroke="#111" stroke-width="0.7"/>
<text x="1000.5" y="113" font-size="9.2" text-anchor="start" class="sans" fill="#111" textLength="14.5" lengthAdjust="spacingAndGlyphs">800</text>
<path d="M980.4 143.1h2M998.2 143.1h-2" stroke="#111" stroke-width="0.7"/>
<text x="1000.5" y="146" font-size="9.2" text-anchor="start" class="sans" fill="#111" textLength="14.5" lengthAdjust="spacingAndGlyphs">600</text>
<path d="M980.4 176.2h2M998.2 176.2h-2" stroke="#111" stroke-width="0.7"/>
<text x="1000.5" y="179.1" font-size="9.2" text-anchor="start" class="sans" fill="#111" textLength="14.5" lengthAdjust="spacingAndGlyphs">400</text>
<path d="M980.4 209.2h2M998.2 209.2h-2" stroke="#111" stroke-width="0.7"/>
<text x="1000.5" y="212.1" font-size="9.2" text-anchor="start" class="sans" fill="#111" textLength="14.5" lengthAdjust="spacingAndGlyphs">200</text>
<text x="771.6" y="294" font-size="26" text-anchor="middle" class="cap serif" fill="#000">(<tspan font-weight="bold">b</tspan>)</text>
<g class="lt">
<line class="sol" x1="404.3" y1="455.8" x2="404.3" y2="320.3"/>
<line class="dot" x1="367.4" y1="456.7" x2="367.4" y2="321.2"/>
<line class="dot" x1="330.6" y1="457.5" x2="330.6" y2="322"/>
<line class="dot" x1="293.7" y1="458.4" x2="293.7" y2="322.9"/>
<line class="dot" x1="256.8" y1="459.2" x2="256.8" y2="323.7"/>
<line class="dot" x1="220" y1="460.1" x2="220" y2="324.6"/>
<line class="dot" x1="183.1" y1="461" x2="183.1" y2="325.5"/>
<line class="dot" x1="146.2" y1="461.8" x2="146.2" y2="326.3"/>
<line class="dot" x1="109.3" y1="462.7" x2="109.3" y2="327.2"/>
<line class="dot" x1="72.5" y1="463.5" x2="72.5" y2="328"/>
<line class="sol" x1="35.6" y1="464.4" x2="35.6" y2="328.9"/>
<line class="dot" x1="35.6" y1="437.3" x2="404.3" y2="428.7"/>
<line class="dash" x1="404.3" y1="428.7" x2="451.8" y2="494.2"/>
<line class="dot" x1="35.6" y1="410.2" x2="404.3" y2="401.6"/>
<line class="dash" x1="404.3" y1="401.6" x2="451.8" y2="467.1"/>
<line class="dot" x1="35.6" y1="383.1" x2="404.3" y2="374.5"/>
<line class="dash" x1="404.3" y1="374.5" x2="451.8" y2="440"/>
<line class="dot" x1="35.6" y1="356" x2="404.3" y2="347.4"/>
<line class="dash" x1="404.3" y1="347.4" x2="451.8" y2="412.9"/>
<line class="dot" x1="35.6" y1="328.9" x2="404.3" y2="320.3"/>
<line class="dash" x1="404.3" y1="320.3" x2="451.8" y2="385.8"/>
<line class="dot" x1="416.2" y1="472.2" x2="416.2" y2="336.7"/>
<line class="dot" x1="428.1" y1="488.5" x2="428.1" y2="353"/>
<line class="dot" x1="439.9" y1="504.9" x2="439.9" y2="369.4"/>
<line class="dot" x1="451.8" y1="521.3" x2="451.8" y2="385.8"/>
<line class="dash fl" x1="404.3" y1="455.8" x2="451.8" y2="521.3"/>
<line class="dash fl" x1="367.4" y1="456.7" x2="414.9" y2="522.2"/>
<line class="dash fl" x1="330.6" y1="457.5" x2="378.1" y2="523"/>
<line class="dash fl" x1="293.7" y1="458.4" x2="341.2" y2="523.9"/>
<line class="dash fl" x1="256.8" y1="459.2" x2="304.3" y2="524.7"/>
<line class="dash fl" x1="220" y1="460.1" x2="267.4" y2="525.6"/>
<line class="dash fl" x1="183.1" y1="461" x2="230.6" y2="526.5"/>
<line class="dash fl" x1="146.2" y1="461.8" x2="193.7" y2="527.3"/>
<line class="dash fl" x1="109.3" y1="462.7" x2="156.8" y2="528.2"/>
<line class="dash fl" x1="72.5" y1="463.5" x2="120" y2="529"/>
<line class="dot" x1="35.6" y1="464.4" x2="404.3" y2="455.8"/>
<line class="dot" x1="47.5" y1="480.8" x2="416.2" y2="472.2"/>
<line class="dot" x1="59.4" y1="497.1" x2="428.1" y2="488.5"/>
<line class="dot" x1="71.2" y1="513.5" x2="439.9" y2="504.9"/>
<line class="sol" x1="35.6" y1="464.4" x2="83.1" y2="529.9"/>
<line class="sol" x1="83.1" y1="529.9" x2="451.8" y2="521.3"/>
<line class="sol" x1="451.8" y1="521.3" x2="456.5" y2="527.8"/>
<line class="sol" x1="414.9" y1="522.2" x2="419.6" y2="528.6"/>
<line class="sol" x1="378.1" y1="523" x2="382.8" y2="529.5"/>
<line class="sol" x1="341.2" y1="523.9" x2="345.9" y2="530.4"/>
<line class="sol" x1="304.3" y1="524.7" x2="309" y2="531.2"/>
<line class="sol" x1="267.4" y1="525.6" x2="272.1" y2="532.1"/>
<line class="sol" x1="230.6" y1="526.5" x2="235.3" y2="532.9"/>
<line class="sol" x1="193.7" y1="527.3" x2="198.4" y2="533.8"/>
<line class="sol" x1="156.8" y1="528.2" x2="161.5" y2="534.7"/>
<line class="sol" x1="120" y1="529" x2="124.7" y2="535.5"/>
<line class="sol" x1="83.1" y1="529.9" x2="87.8" y2="536.4"/>
<line class="sol" x1="35.6" y1="464.4" x2="27.6" y2="464.6"/>
<line class="sol" x1="47.5" y1="480.8" x2="39.5" y2="481"/>
<line class="sol" x1="59.4" y1="497.1" x2="51.4" y2="497.3"/>
<line class="sol" x1="71.2" y1="513.5" x2="63.2" y2="513.7"/>
<line class="sol" x1="83.1" y1="529.9" x2="75.1" y2="530.1"/>
<line class="sol" x1="35.6" y1="464.4" x2="30.9" y2="457.9"/>
<line class="sol" x1="35.6" y1="437.3" x2="30.9" y2="430.8"/>
<line class="sol" x1="35.6" y1="410.2" x2="30.9" y2="403.7"/>
<line class="sol" x1="35.6" y1="383.1" x2="30.9" y2="376.6"/>
<line class="sol" x1="35.6" y1="356" x2="30.9" y2="349.5"/>
<line class="sol" x1="35.6" y1="328.9" x2="30.9" y2="322.4"/>
</g>
<polygon points="35.6,463.6 404.3,455 451.8,520.8 83.1,529.6" fill="url(#nzc)" stroke="#000" stroke-width="0.8"/>
<polygon points="132.8,460.6 135,473 127.5,473" fill="#0c10d8"/>
<polygon points="139,474.7 141.3,482 137,482" fill="#0c10d8"/>
<polygon points="146.9,489.5 148.5,491.5 145.3,491.5" fill="#0c10d8"/>
<polygon points="188.4,441.3 189.2,455 191.3,471.6 181.9,471.6 187.4,455" fill="#0a1cc0"/>
<line x1="188.3" y1="441.3" x2="188.3" y2="462" stroke="#050540" stroke-width="1"/>
<polygon points="194.7,471.6 196.9,481 192.5,481" fill="#0c10d8"/>
<polygon points="201.6,486.3 204,491.3 199.4,491.3" fill="#0c10d8"/>
<polygon points="241.3,468.4 244,470.4 238.5,470.4" fill="#0c10d8"/>
<polygon points="250,477.6 251.5,479.6 248.5,479.6" fill="#0c10d8"/>
<polygon points="255.6,483.5 257.7,488 253.7,488" fill="#0c10d8"/>
<polygon points="297.5,463.8 300,469.4 292.2,469.4" fill="#0c10d8"/>
<polygon points="305,473.8 306.8,477.5 303.2,477.5" fill="#0c10d8"/>
<polygon points="311.6,482 313.6,486.5 309.6,486.5" fill="#0c10d8"/>
<line x1="353.8" y1="344.7" x2="353.8" y2="360" stroke="#999" stroke-width="1"/>
<line x1="353.8" y1="360" x2="353.8" y2="392" stroke="#222" stroke-width="1.1"/>
<line x1="353.9" y1="392" x2="353.9" y2="458" stroke="#4a0a12" stroke-width="1.5"/>
<line x1="353.0" y1="392" x2="353.0" y2="458" stroke="#111" stroke-width="0.8"/>
<polygon points="353.8,452 354.9,461 356.2,467.3 351.4,467.3 352.8,460" fill="#0c1cc4"/>
<polygon points="360.3,471.5 362.4,475.8 358.2,475.8" fill="#0c10d8"/>
<polygon points="366.3,480 368.8,487.2 364,487.2" fill="#0c10d8"/>
<polygon points="400,426.3 400.8,442 404,456.3 398.6,455.5 399.4,442" fill="#0c1cb4"/>
<line x1="400" y1="426.3" x2="400" y2="444" stroke="#334" stroke-width="0.8"/>
<polygon points="401,452 404,455 413,469 411.5,468.5" fill="#080c78"/>
<text x="132.6" y="451.9" font-size="10" text-anchor="middle" class="sans" fill="#2a2a30" style="stroke:#2a2a30;stroke-width:0.2px">M</text>
<text x="191.4" y="430.6" font-size="10" text-anchor="middle" class="sans" fill="#2a2a30" style="stroke:#2a2a30;stroke-width:0.2px">K</text>
<text x="241.3" y="447.7" font-size="10" text-anchor="middle" class="sans" fill="#2a2a30" style="stroke:#2a2a30;stroke-width:0.2px">C</text>
<text x="299.4" y="448.7" font-size="10" text-anchor="middle" class="sans" fill="#2a2a30" style="stroke:#2a2a30;stroke-width:0.2px">B</text>
<text x="352.4" y="341.1" font-size="10" text-anchor="middle" class="sans" fill="#2a2a30" style="stroke:#2a2a30;stroke-width:0.2px">A</text>
<text x="244" y="313.9" font-size="9.7" text-anchor="middle" class="serif" fill="#111" textLength="74" lengthAdjust="spacingAndGlyphs">GRKRXDincbscale</text>
<text transform="translate(15.3,396) rotate(-90)" font-size="9.6" text-anchor="middle" class="serif" fill="#111" textLength="36.2" lengthAdjust="spacingAndGlyphs">Intensity</text>
<text x="28.9" y="456.9" font-size="7.5" text-anchor="end" class="sans" fill="#111" textLength="3.9" lengthAdjust="spacingAndGlyphs">0</text>
<text x="28.9" y="429.8" font-size="7.5" text-anchor="end" class="sans" fill="#111" textLength="9.8" lengthAdjust="spacingAndGlyphs">0.5</text>
<text x="28.9" y="402.7" font-size="7.5" text-anchor="end" class="sans" fill="#111" textLength="3.9" lengthAdjust="spacingAndGlyphs">1</text>
<text x="28.9" y="375.6" font-size="7.5" text-anchor="end" class="sans" fill="#111" textLength="9.8" lengthAdjust="spacingAndGlyphs">1.5</text>
<text x="28.9" y="348.5" font-size="7.5" text-anchor="end" class="sans" fill="#111" textLength="3.9" lengthAdjust="spacingAndGlyphs">2</text>
<text x="28.9" y="321.4" font-size="7.5" text-anchor="end" class="sans" fill="#111" textLength="9.8" lengthAdjust="spacingAndGlyphs">2.5</text>
<text x="26" y="472.6" font-size="7.5" text-anchor="end" class="sans" fill="#111" textLength="3.7" lengthAdjust="spacingAndGlyphs">0</text>
<text x="37.9" y="489" font-size="7.5" text-anchor="end" class="sans" fill="#111" textLength="7.3" lengthAdjust="spacingAndGlyphs">50</text>
<text x="49.8" y="505.3" font-size="7.5" text-anchor="end" class="sans" fill="#111" textLength="11" lengthAdjust="spacingAndGlyphs">100</text>
<text x="61.6" y="521.7" font-size="7.5" text-anchor="end" class="sans" fill="#111" textLength="11" lengthAdjust="spacingAndGlyphs">150</text>
<text x="73.5" y="538.1" font-size="7.5" text-anchor="end" class="sans" fill="#111" textLength="11" lengthAdjust="spacingAndGlyphs">200</text>
<text x="459.1" y="539.6" font-size="7.5" text-anchor="start" class="sans" fill="#111" textLength="3.7" lengthAdjust="spacingAndGlyphs">0</text>
<text x="422.2" y="540.5" font-size="7.5" text-anchor="start" class="sans" fill="#111" textLength="7.3" lengthAdjust="spacingAndGlyphs">20</text>
<text x="385.4" y="541.3" font-size="7.5" text-anchor="start" class="sans" fill="#111" textLength="7.3" lengthAdjust="spacingAndGlyphs">40</text>
<text x="348.5" y="542.2" font-size="7.5" text-anchor="start" class="sans" fill="#111" textLength="7.3" lengthAdjust="spacingAndGlyphs">60</text>
<text x="311.6" y="543" font-size="7.5" text-anchor="start" class="sans" fill="#111" textLength="7.3" lengthAdjust="spacingAndGlyphs">80</text>
<text x="274.8" y="543.9" font-size="7.5" text-anchor="start" class="sans" fill="#111" textLength="11" lengthAdjust="spacingAndGlyphs">100</text>
<text x="237.9" y="544.8" font-size="7.5" text-anchor="start" class="sans" fill="#111" textLength="11" lengthAdjust="spacingAndGlyphs">120</text>
<text x="201" y="545.6" font-size="7.5" text-anchor="start" class="sans" fill="#111" textLength="11" lengthAdjust="spacingAndGlyphs">140</text>
<text x="164.1" y="546.5" font-size="7.5" text-anchor="start" class="sans" fill="#111" textLength="11" lengthAdjust="spacingAndGlyphs">160</text>
<text x="127.3" y="547.3" font-size="7.5" text-anchor="start" class="sans" fill="#111" textLength="11" lengthAdjust="spacingAndGlyphs">180</text>
<text x="90.4" y="548.2" font-size="7.5" text-anchor="start" class="sans" fill="#111" textLength="11" lengthAdjust="spacingAndGlyphs">200</text>
<text x="4.6" y="518.3" font-size="9" text-anchor="start" class="serif" fill="#111" textLength="44.7" lengthAdjust="spacingAndGlyphs">Pixel column</text>
<text x="249.2" y="553.9" font-size="9.7" text-anchor="middle" class="serif" fill="#111" textLength="33.7" lengthAdjust="spacingAndGlyphs">Pixel row</text>
<text x="35.6" y="311.9" font-size="7.5" class="sans" fill="#111">x 10<tspan dy="-4" font-size="5.5">4</tspan></text>
<text x="474" y="316.5" font-size="7.5" class="sans" fill="#111">x 10<tspan dy="-4" font-size="5.5">4</tspan></text>
<linearGradient id="cbc" x1="0" y1="1" x2="0" y2="0">
<stop offset="0%" stop-color="#00008f"/>
<stop offset="1.6%" stop-color="#00009d"/>
<stop offset="3.1%" stop-color="#0000ab"/>
<stop offset="4.7%" stop-color="#0000b9"/>
<stop offset="6.2%" stop-color="#0000c7"/>
<stop offset="7.8%" stop-color="#0000d5"/>
<stop offset="9.4%" stop-color="#0000e3"/>
<stop offset="10.9%" stop-color="#0000f1"/>
<stop offset="12.5%" stop-color="#0000ff"/>
<stop offset="14.1%" stop-color="#0010ff"/>
<stop offset="15.6%" stop-color="#0020ff"/>
<stop offset="17.2%" stop-color="#0030ff"/>
<stop offset="18.8%" stop-color="#0040ff"/>
<stop offset="20.3%" stop-color="#0050ff"/>
<stop offset="21.9%" stop-color="#0060ff"/>
<stop offset="23.4%" stop-color="#0070ff"/>
<stop offset="25%" stop-color="#0080ff"/>
<stop offset="26.6%" stop-color="#008fff"/>
<stop offset="28.1%" stop-color="#009fff"/>
<stop offset="29.7%" stop-color="#00afff"/>
<stop offset="31.2%" stop-color="#00bfff"/>
<stop offset="32.8%" stop-color="#00cfff"/>
<stop offset="34.4%" stop-color="#00dfff"/>
<stop offset="35.9%" stop-color="#00efff"/>
<stop offset="37.5%" stop-color="#00ffff"/>
<stop offset="39.1%" stop-color="#10ffef"/>
<stop offset="40.6%" stop-color="#20ffdf"/>
<stop offset="42.2%" stop-color="#30ffcf"/>
<stop offset="43.8%" stop-color="#40ffbf"/>
<stop offset="45.3%" stop-color="#50ffaf"/>
<stop offset="46.9%" stop-color="#60ff9f"/>
<stop offset="48.4%" stop-color="#70ff8f"/>
<stop offset="50%" stop-color="#80ff80"/>
<stop offset="51.6%" stop-color="#8fff70"/>
<stop offset="53.1%" stop-color="#9fff60"/>
<stop offset="54.7%" stop-color="#afff50"/>
<stop offset="56.2%" stop-color="#bfff40"/>
<stop offset="57.8%" stop-color="#cfff30"/>
<stop offset="59.4%" stop-color="#dfff20"/>
<stop offset="60.9%" stop-color="#efff10"/>
<stop offset="62.5%" stop-color="#ffff00"/>
<stop offset="64.1%" stop-color="#ffef00"/>
<stop offset="65.6%" stop-color="#ffdf00"/>
<stop offset="67.2%" stop-color="#ffcf00"/>
<stop offset="68.8%" stop-color="#ffbf00"/>
<stop offset="70.3%" stop-color="#ffaf00"/>
<stop offset="71.9%" stop-color="#ff9f00"/>
<stop offset="73.4%" stop-color="#ff8f00"/>
<stop offset="75%" stop-color="#ff8000"/>
<stop offset="76.6%" stop-color="#ff7000"/>
<stop offset="78.1%" stop-color="#ff6000"/>
<stop offset="79.7%" stop-color="#ff5000"/>
<stop offset="81.2%" stop-color="#ff4000"/>
<stop offset="82.8%" stop-color="#ff3000"/>
<stop offset="84.4%" stop-color="#ff2000"/>
<stop offset="85.9%" stop-color="#ff1000"/>
<stop offset="87.5%" stop-color="#ff0000"/>
<stop offset="89.1%" stop-color="#ef0000"/>
<stop offset="90.6%" stop-color="#df0000"/>
<stop offset="92.2%" stop-color="#cf0000"/>
<stop offset="93.8%" stop-color="#c00000"/>
<stop offset="95.3%" stop-color="#b00000"/>
<stop offset="96.9%" stop-color="#a00000"/>
<stop offset="98.4%" stop-color="#900000"/>
<stop offset="100%" stop-color="#800000"/>
</linearGradient>
<rect x="462.4" y="320.1" width="11.8" height="210.3" fill="url(#cbc)" stroke="#222" stroke-width="0.6"/>
<path d="M462.4 325.6h2M474.2 325.6h-2" stroke="#111" stroke-width="0.7"/>
<text x="476.1" y="327.9" font-size="7.5" text-anchor="start" class="sans" fill="#111" textLength="9.1" lengthAdjust="spacingAndGlyphs">2.2</text>
<path d="M462.4 344.2h2M474.2 344.2h-2" stroke="#111" stroke-width="0.7"/>
<text x="476.1" y="346.6" font-size="7.5" text-anchor="start" class="sans" fill="#111" textLength="3.6" lengthAdjust="spacingAndGlyphs">2</text>
<path d="M462.4 362.9h2M474.2 362.9h-2" stroke="#111" stroke-width="0.7"/>
<text x="476.1" y="365.2" font-size="7.5" text-anchor="start" class="sans" fill="#111" textLength="9.1" lengthAdjust="spacingAndGlyphs">1.8</text>
<path d="M462.4 381.6h2M474.2 381.6h-2" stroke="#111" stroke-width="0.7"/>
<text x="476.1" y="383.9" font-size="7.5" text-anchor="start" class="sans" fill="#111" textLength="9.1" lengthAdjust="spacingAndGlyphs">1.6</text>
<path d="M462.4 400.2h2M474.2 400.2h-2" stroke="#111" stroke-width="0.7"/>
<text x="476.1" y="402.5" font-size="7.5" text-anchor="start" class="sans" fill="#111" textLength="9.1" lengthAdjust="spacingAndGlyphs">1.4</text>
<path d="M462.4 418.9h2M474.2 418.9h-2" stroke="#111" stroke-width="0.7"/>
<text x="476.1" y="421.2" font-size="7.5" text-anchor="start" class="sans" fill="#111" textLength="9.1" lengthAdjust="spacingAndGlyphs">1.2</text>
<path d="M462.4 437.5h2M474.2 437.5h-2" stroke="#111" stroke-width="0.7"/>
<text x="476.1" y="439.8" font-size="7.5" text-anchor="start" class="sans" fill="#111" textLength="3.6" lengthAdjust="spacingAndGlyphs">1</text>
<path d="M462.4 456.1h2M474.2 456.1h-2" stroke="#111" stroke-width="0.7"/>
<text x="476.1" y="458.5" font-size="7.5" text-anchor="start" class="sans" fill="#111" textLength="9.1" lengthAdjust="spacingAndGlyphs">0.8</text>
<path d="M462.4 474.8h2M474.2 474.8h-2" stroke="#111" stroke-width="0.7"/>
<text x="476.1" y="477.1" font-size="7.5" text-anchor="start" class="sans" fill="#111" textLength="9.1" lengthAdjust="spacingAndGlyphs">0.6</text>
<path d="M462.4 493.5h2M474.2 493.5h-2" stroke="#111" stroke-width="0.7"/>
<text x="476.1" y="495.8" font-size="7.5" text-anchor="start" class="sans" fill="#111" textLength="9.1" lengthAdjust="spacingAndGlyphs">0.4</text>
<path d="M462.4 512.1h2M474.2 512.1h-2" stroke="#111" stroke-width="0.7"/>
<text x="476.1" y="514.4" font-size="7.5" text-anchor="start" class="sans" fill="#111" textLength="9.1" lengthAdjust="spacingAndGlyphs">0.2</text>
<text x="247.9" y="592.5" font-size="26" text-anchor="middle" class="cap serif" fill="#000">(<tspan font-weight="bold">c</tspan>)</text>
<g class="md">
<line class="dot" x1="908.3" y1="479.4" x2="908.3" y2="315.6"/>
<line class="dot" x1="873.8" y1="480.2" x2="873.8" y2="316.4"/>
<line class="dot" x1="839.2" y1="481.1" x2="839.2" y2="317.3"/>
<line class="dot" x1="804.6" y1="481.9" x2="804.6" y2="318.1"/>
<line class="dot" x1="770.1" y1="482.8" x2="770.1" y2="319"/>
<line class="dot" x1="735.5" y1="483.6" x2="735.5" y2="319.8"/>
<line class="dot" x1="701" y1="484.5" x2="701" y2="320.7"/>
<line class="dot" x1="666.4" y1="485.3" x2="666.4" y2="321.5"/>
<line class="dot" x1="631.9" y1="486.2" x2="631.9" y2="322.4"/>
<line class="dot" x1="597.3" y1="487" x2="597.3" y2="323.2"/>
<line class="sol" x1="562.8" y1="487.9" x2="562.8" y2="324.1"/>
<line class="dot" x1="562.8" y1="467.4" x2="908.3" y2="458.9"/>
<line class="dash" x1="908.3" y1="458.9" x2="972.3" y2="498.9"/>
<line class="dot" x1="562.8" y1="447" x2="908.3" y2="438.5"/>
<line class="dash" x1="908.3" y1="438.5" x2="972.3" y2="478.5"/>
<line class="dot" x1="562.8" y1="426.5" x2="908.3" y2="418"/>
<line class="dash" x1="908.3" y1="418" x2="972.3" y2="458"/>
<line class="dot" x1="562.8" y1="406" x2="908.3" y2="397.5"/>
<line class="dash" x1="908.3" y1="397.5" x2="972.3" y2="437.5"/>
<line class="dot" x1="562.8" y1="385.5" x2="908.3" y2="377"/>
<line class="dash" x1="908.3" y1="377" x2="972.3" y2="417"/>
<line class="dot" x1="562.8" y1="365.1" x2="908.3" y2="356.6"/>
<line class="dash" x1="908.3" y1="356.6" x2="972.3" y2="396.6"/>
<line class="dot" x1="562.8" y1="344.6" x2="908.3" y2="336.1"/>
<line class="dash" x1="908.3" y1="336.1" x2="972.3" y2="376.1"/>
<line class="dot" x1="562.8" y1="324.1" x2="908.3" y2="315.6"/>
<line class="dash" x1="908.3" y1="315.6" x2="972.3" y2="355.6"/>
<line class="dot" x1="940.3" y1="499.4" x2="940.3" y2="335.6"/>
<line class="dot" x1="972.3" y1="519.4" x2="972.3" y2="355.6"/>
<line class="dash fl" x1="908.3" y1="479.4" x2="972.3" y2="519.4"/>
<line class="dash fl" x1="873.8" y1="480.2" x2="937.8" y2="520.2"/>
<line class="dash fl" x1="839.2" y1="481.1" x2="903.2" y2="521.1"/>
<line class="dash fl" x1="804.6" y1="481.9" x2="868.6" y2="521.9"/>
<line class="dash fl" x1="770.1" y1="482.8" x2="834.1" y2="522.8"/>
<line class="dash fl" x1="735.5" y1="483.6" x2="799.5" y2="523.6"/>
<line class="dash fl" x1="701" y1="484.5" x2="765" y2="524.5"/>
<line class="dash fl" x1="666.4" y1="485.3" x2="730.4" y2="525.4"/>
<line class="dash fl" x1="631.9" y1="486.2" x2="695.9" y2="526.2"/>
<line class="dash fl" x1="597.3" y1="487" x2="661.3" y2="527"/>
<line class="dot" x1="562.8" y1="487.9" x2="908.3" y2="479.4"/>
<line class="dot" x1="594.8" y1="507.9" x2="940.3" y2="499.4"/>
<line class="sol" x1="562.8" y1="487.9" x2="626.8" y2="527.9"/>
<line class="sol" x1="626.8" y1="527.9" x2="972.3" y2="519.4"/>
<line class="sol" x1="972.3" y1="519.4" x2="979.1" y2="523.6"/>
<line class="sol" x1="937.8" y1="520.2" x2="944.5" y2="524.5"/>
<line class="sol" x1="903.2" y1="521.1" x2="910" y2="525.3"/>
<line class="sol" x1="868.6" y1="521.9" x2="875.4" y2="526.2"/>
<line class="sol" x1="834.1" y1="522.8" x2="840.9" y2="527"/>
<line class="sol" x1="799.5" y1="523.6" x2="806.3" y2="527.9"/>
<line class="sol" x1="765" y1="524.5" x2="771.8" y2="528.7"/>
<line class="sol" x1="730.4" y1="525.4" x2="737.2" y2="529.6"/>
<line class="sol" x1="695.9" y1="526.2" x2="702.7" y2="530.4"/>
<line class="sol" x1="661.3" y1="527" x2="668.1" y2="531.3"/>
<line class="sol" x1="626.8" y1="527.9" x2="633.6" y2="532.1"/>
<line class="sol" x1="562.8" y1="487.9" x2="554.8" y2="488.1"/>
<line class="sol" x1="594.8" y1="507.9" x2="586.8" y2="508.1"/>
<line class="sol" x1="626.8" y1="527.9" x2="618.8" y2="528.1"/>
<line class="sol" x1="562.8" y1="487.9" x2="556" y2="483.7"/>
<line class="sol" x1="562.8" y1="467.4" x2="556" y2="463.2"/>
<line class="sol" x1="562.8" y1="447" x2="556" y2="442.7"/>
<line class="sol" x1="562.8" y1="426.5" x2="556" y2="422.3"/>
<line class="sol" x1="562.8" y1="406" x2="556" y2="401.8"/>
<line class="sol" x1="562.8" y1="385.5" x2="556" y2="381.3"/>
<line class="sol" x1="562.8" y1="365.1" x2="556" y2="360.8"/>
<line class="sol" x1="562.8" y1="344.6" x2="556" y2="340.4"/>
<line class="sol" x1="562.8" y1="324.1" x2="556" y2="319.9"/>
</g>
<line x1="799.6" y1="481" x2="799.6" y2="499.5" stroke="#111" stroke-width="1.2"/>
<line x1="799.6" y1="481" x2="799.6" y2="486" stroke="#c02020" stroke-width="1.2"/>
<line x1="851.4" y1="480" x2="851.4" y2="493.5" stroke="#111" stroke-width="1.2"/>
<line x1="851.4" y1="480" x2="851.4" y2="485" stroke="#333" stroke-width="1.2"/>
<line x1="903.4" y1="478" x2="903.4" y2="492" stroke="#111" stroke-width="1.2"/>
<line x1="903.4" y1="478" x2="903.4" y2="483" stroke="#c05020" stroke-width="1.2"/>
<polygon points="903.3,440 904.2,400 905.1,364.3 906.6,380.4 908.1,389.1 909.6,395.1 911.1,395.1 912.6,401.1 914.1,401.1 915.6,406.7 917.1,405.8 918.6,411 920.1,410.1 921.6,415.2 923.1,414.3 924.6,419 926.1,417.7 927.6,422.3 929.1,421 930.6,425.7 932.1,424.3 933.6,429 935.1,427.7 936.6,432.4 938.1,431 939.6,435.7 941.1,434.4 942.6,439 944.1,437.7 945.6,442.2 947.1,440.6 948.6,444.9 950.1,443.3 951.6,447.6 953.1,446 954.6,450.3 956.1,448.7 957.6,452.9 959.1,451.1 960.6,455.3 962.1,453.5 963.6,457.7 965.1,455.9 966.6,460.1 968.1,458.3 969.6,467.5 971.2,473.3 940,462" fill="#030a10" filter="url(#soft)"/>
<polygon points="908.5,391.6 909.4,429.5 907.6,429.5" fill="#1fa4a8"/>
<polygon points="911.2,398 912.1,430.5 910.3,430.5" fill="#1b86b0"/>
<polygon points="913.5,402.3 914.4,431.5 912.6,431.5" fill="#22b89a"/>
<polygon points="915.8,406.2 916.7,432.6 914.9,432.6" fill="#1fa4a8"/>
<polygon points="918.8,409.5 919.7,434.7 917.9,434.7" fill="#1b86b0"/>
<polygon points="921.5,414.9 922.4,436.7 920.6,436.7" fill="#22b89a"/>
<polygon points="924.4,417.6 925.3,438.7 923.5,438.7" fill="#1fa4a8"/>
<polygon points="926.8,419.4 927.7,440.4 925.9,440.4" fill="#1b86b0"/>
<polygon points="929.4,422.9 930.3,441.7 928.5,441.7" fill="#22b89a"/>
<polygon points="931.8,425.4 932.7,442.9 930.9,442.9" fill="#1fa4a8"/>
<polygon points="934.1,428.8 935,444 933.2,444" fill="#1b86b0"/>
<polygon points="937,431.1 937.9,445.5 936.1,445.5" fill="#22b89a"/>
<polygon points="939.4,434.3 940.3,446.8 938.5,446.8" fill="#1fa4a8"/>
<polygon points="942.1,438.1 943,448.4 941.2,448.4" fill="#1b86b0"/>
<polygon points="944.6,439.7 945.5,449.9 943.7,449.9" fill="#22b89a"/>
<polygon points="947.7,442.2 948.6,451.8 946.8,451.8" fill="#1fa4a8"/>
<polygon points="950.5,445.1 951.4,453.4 949.6,453.4" fill="#1b86b0"/>
<polygon points="953.5,448.2 954.4,455.2 952.6,455.2" fill="#22b89a"/>
<polygon points="956.5,450.1 957.4,457 955.6,457" fill="#1fa4a8"/>
<polygon points="959.3,453.3 960.2,458.7 958.4,458.7" fill="#1b86b0"/>
<polygon points="962,455.7 962.9,461 961.1,461" fill="#22b89a"/>
<polygon points="965,456.8 965.9,466 964.1,466" fill="#1fa4a8"/>
<polygon points="967.5,459.3 968.4,470.1 966.6,470.1" fill="#1b86b0"/>
<polygon points="904.2,400 905.1,365.1 906.3,400 907.2,428 903.3,428" fill="#6412a4"/>
<polygon points="905.4,396 906.8,396 908.2,428 905.6,428" fill="#1030c0"/>
<polygon points="562.6,440.3 564.5,440.9 566.2,440.3 567.6,440.2 570,439.7 571,441 573.1,441.2 574.7,438.5 576.5,439.8 578.5,437.4 580.2,440.4 581.3,440.2 582.8,439.5 585.2,440.7 586.7,439.5 588.7,441.1 590.3,440.4 591.6,440.3 593.3,440.3 595.2,439.4 596.6,440.2 598.6,437.2 600.4,440.1 602.3,441.1 603.4,439.5 605.4,438.8 606.8,439.7 609.1,439.1 610.4,438.5 612.3,438 614.1,439.7 615.5,439.8 617.3,439.3 618.8,438.8 620.9,439.2 622.1,440.5 624.1,438.7 625.5,438.4 627.4,438.4 629.5,440.9 631.2,439.4 632.8,438.6 634.4,438.8 636,437.8 637.8,438.4 639.3,437.8 640.8,437.5 642.8,438.4 644.4,438.5 646.1,438.1 647.8,438.2 649.3,436.3 651,438.1 652.8,439.2 654.5,437.9 656.5,437.7 657.8,437.9 659.9,437.6 661.2,437.5 663.5,437.4 665.1,437.9 667,435.7 668.6,436.8 669.8,437.1 671.9,437.5 673.6,435.7 675,436.8 676.9,434.5 678.7,436.8 680.5,436.9 682,437.7 683.9,438.7 685.2,437.4 687.2,437.5 688.6,436.2 690.8,437.2 692.2,436 693.9,434.8 695.9,436 697.1,436.7 699.2,436.4 700.4,436.4 702.6,435.8 704.1,435.1 705.7,436.6 707.8,434.7 709.4,436.5 710.5,438.2 712.6,435.5 714.5,437.4 716.2,435.5 717.6,436.1 719.7,435.3 721.4,435.5 722.6,435.1 724.8,434.7 725.9,434.9 727.9,435.3 729.5,435.4 731.4,432.7 733,434.7 734.3,437.8 736.2,435.7 738.1,434.6 739.8,435.4 741.9,437.3 743.4,435.3 745.1,436.4 746.5,435.3 748.6,434.3 750.2,435.7 751.9,434.3 753.5,434.9 755.2,434.4 756.7,434 758.9,434.2 760,434.4 761.8,433.6 763.9,433.7 765.3,434.3 766.8,434.1 768.6,432.2 770.5,434.7 772,436.2 773.5,434.4 775.6,432.9 777.5,433.9 779.2,433.8 781,434 782.2,433.2 783.9,433.3 785.5,434.1 787.5,433.3 789.3,435 791.2,434.1 792.2,433.6 794.1,434.2 795.7,431.9 797.8,434.1 799.1,435.2 801.2,433.8 802.9,433.1 804.4,432.5 806.3,430.8 808,433.2 809.6,432.3 811.3,433.8 812.6,435.4 814.6,433.3 816.1,430.9 817.8,433.3 819.7,433.7 821.5,432.9 823.3,432.8 824.7,433.1 826.8,432.9 828.5,432.2 830,434.8 832.1,432.5 833,430.7 835.3,432.6 837.2,431.9 838.2,432.7 839.9,429.6 842,432.1 844,430.8 845.1,431.4 847.4,432.3 849,431 850.8,430.8 852,431.8 853.8,432.3 855.2,432.1 856.9,431.7 859.2,430.9 860.7,428.7 862.7,431.5 863.8,430.7 865.7,430.1 867.2,429.4 869,430.4 870.6,432.5 872.8,429.2 874.1,430.9 875.8,429.9 877.7,428.7 879.5,428.3 881,428.6 882.5,429.1 884.4,429.7 885.9,428.6 888.3,428.9 889.3,426.7 890.9,429.5 893.2,426.3 894.4,424.7 896.3,425.6 898.3,427.7 899.4,426.6 901.7,424.4 903.2,424.3 904.8,423.8 907,423.5 908.6,423.5 903,424.5 904.7,425 906.8,425.5 908,426.4 910.3,427.1 911.4,427.5 913.4,428.8 914.6,428.7 914.5,428.7 916.3,430 917.4,431 919.4,432.3 920.9,433.3 922.4,435.6 923.5,435.1 925.4,436.1 926.4,437.2 926.1,437.8 928.5,438.1 929.7,439.1 931.2,439.2 933.3,441 934.4,442.4 936.5,442.1 937.9,443 938.2,442.6 939.5,444.7 940.7,445.4 942.6,445.7 943.8,446.8 945.5,447.4 947,448.2 948.1,449.1 950.1,449.9 949.8,450.3 951.2,451 953.1,452.5 954.8,453 956.2,453.8 958.1,455.7 960.1,456.4 961,457.9 961.7,457.4 962,457.6 963.1,459.7 964.1,462 964.9,462.6 966,466 967,466 967.4,467.8 968.5,468.8 969.3,469.9 969.9,471.8 971.3,472.7 971.4,472.9 969.4,472.8 967.5,474.1 966.4,473.7 964.6,473.5 962.6,473.7 960.9,473.7 959.1,474.2 957.8,474.1 955.8,473.5 953.9,474.7 952.6,476.3 950.6,474.4 949.3,472 947.4,474.2 945.9,475.8 943.9,474.5 942.5,474.2 940.9,474.4 938.9,474.3 937.3,475.1 935.4,475 933.8,474.9 932.3,475.3 930,474.3 928.3,475.7 927,475.3 925.4,472.6 923.2,474.9 921.8,475.2 920.4,475.9 918.2,476.4 916.3,475.2 914.9,477.6 913.1,474.9 911.7,476.5 909.6,475.2 908.5,474.8 906.3,476.1 904.5,474.4 903.1,475.4 901.5,475.5 899.5,476.2 898.1,477.5 896.3,475.5 894.7,475.6 893.1,475.5 891.4,475.3 889.5,476.1 887.8,477.9 886,475.3 884,476.2 882.8,475.5 881.3,475 879.3,476.8 877.7,476.5 876.2,475.9 874.5,474.9 872.2,475.8 871.1,477.3 868.9,476.9 867.5,478.3 865.8,476 864.2,474.3 862.3,476.4 860.6,476.4 858.7,477.6 856.9,478.1 855.4,477.9 853.7,474.5 852.1,476.7 850.3,475.2 848.8,477.1 847.2,475.5 845.6,478.1 843.6,479.3 842,477.2 840.5,477.3 838.7,477.5 836.8,477.6 834.9,477.1 833.6,479.2 831.3,478.5 830.3,477.8 828.4,478.6 826.4,475.6 825,477.6 823.4,476.7 821.5,477.4 819.8,476.2 818,478.4 816.3,475.7 814.3,478.5 812.8,478.2 810.9,478.7 809.9,477.1 808.1,479.1 805.8,478.4 804.1,479.3 802.7,478.5 800.7,478.7 799.3,478.6 797.5,478.3 795.6,477.8 794.2,479.6 792.1,480.5 791,479 789.2,479 787.1,479.6 785.3,478.4 783.8,479.3 781.9,480.8 780.7,478.9 779,480.1 777.3,479 775.1,481.9 774,479.9 772.3,479.2 770,480.4 768.6,481.7 766.8,479.1 765.4,480.2 763.3,479.6 761.6,478.8 760.5,480.8 758.4,480.8 757.1,480.6 755.2,480.7 753.6,480.4 751.3,481 749.7,480 748.4,482.5 746.8,479.8 745.2,482.4 743.4,481.1 741.4,480.5 740,481.1 738.4,480.1 736,481.5 734.9,483 732.7,481.4 731.2,479.7 729.8,480.9 728,481.2 726.3,481.5 724.8,481.3 722.4,481 721.3,481.3 719.6,481.4 717.2,482.1 715.6,480.5 714.1,482.3 712.4,481.4 710.7,480.4 708.9,481.8 707.2,479.6 705.8,481.6 703.7,482.6 702.5,481 700.4,480.6 698.7,481.6 697.3,483.4 695.5,481.8 693.8,484.1 692.3,481.6 690.4,480.7 689,481.6 687.2,482 684.9,482 683.9,482.2 682.2,482.2 680.3,484 678.4,482.7 676.6,484.7 675,482.8 673.5,482.5 671.5,482.7 669.6,485.1 668.3,483.1 666.7,482.7 665,483.3 663,480.5 661.7,483.8 659.8,481.5 657.9,482.4 656.4,483.7 654.5,483.7 652.9,483.1 651.5,483.6 649.4,483.6 648,483.8 645.8,482.8 644.7,484.1 642.4,483.2 640.7,484.3 639,484.2 637.4,483 636.3,483.5 634.1,483.3 632.3,485.9 630.5,483.9 630.7,483.8 629.1,485.3 627.7,483 626.4,482.5 624.5,480.3 623.2,480.4 621.9,479.3 620.1,477.4 618.5,477.4 617,476.5 616,474.9 614.1,474.7 612.5,473.6 611.2,471 609.6,472.7 607.8,472.4 607,471 605.3,469.9 604,468.9 602,468.7 600.5,467.9 599.4,465.3 597.7,465.8 595.8,466.5 594.5,463.3 593.3,463.1 591.4,462.6 589.8,461.5 588.8,461.3 587.1,458.4 585.8,459.1 584.1,459.8 582.7,457.7 581.1,455 579.2,456 578,452.8 576.2,453.7 574.6,452.3 573.6,453.3 572,451.3 570.2,451.4 568.9,447.1 567,448.8 565.9,448.1 564.6,446.7 562.6,444.8" fill="url(#nzg)" stroke="#000" stroke-width="0.6" filter="url(#soft)"/>
<polygon points="656.9,394.8 657.8,407.1 659.3,421.9 659.3,444 650.3,445 650.3,417.4 655.3,410.5 656.1,405.6" fill="#2050d0" stroke="#000" stroke-width="0.5"/>
<polygon points="650.3,417.4 655.3,410.5 655.7,419.4 654.5,444.5 650.3,445" fill="#20a0c8"/>
<polygon points="656.9,394.8 657.7,409.6 656.1,409.6" fill="#2030c0"/>
<line x1="650.3" y1="417.4" x2="650.3" y2="445" stroke="#000" stroke-width="0.9"/>
<polygon points="665.9,406.7 668,451.1 663.8,452.1" fill="#2060d0" stroke="#000" stroke-width="0.35"/>
<polygon points="665.9,406.7 666.4,422.4 665.4,422.4" fill="#101060"/>
<polygon points="665.6,424.7 665.9,424.7 665.9,451.6 663.8,452.1" fill="#2040c0"/>
<polygon points="675.5,432.2 677.3,457.1 673.7,458.1" fill="#20c0a0" stroke="#000" stroke-width="0.35"/>
<polygon points="675.5,432.2 676,441.1 675,441.1" fill="#20a080"/>
<polygon points="675.2,442.4 675.5,442.4 675.5,457.6 673.7,458.1" fill="#20c0a0"/>
<polygon points="709,378.3 709.9,394.7 711.4,414.4 711.4,444 703.3,445 703.3,408.5 707.4,399.3 708.2,392.8" fill="#2030c8" stroke="#000" stroke-width="0.5"/>
<polygon points="703.3,408.5 707.4,399.3 707.8,411.1 707,444.5 703.3,445" fill="#20a0d0"/>
<polygon points="709,378.3 709.8,398 708.2,398" fill="#5020b0"/>
<line x1="703.3" y1="408.5" x2="703.3" y2="445" stroke="#000" stroke-width="0.9"/>
<polygon points="718.5,396.3 720.3,449.5 716.1,450.5" fill="#2040d0" stroke="#000" stroke-width="0.35"/>
<polygon points="718.5,396.3 719,415.1 718,415.1" fill="#101060"/>
<polygon points="718.2,417.8 718.5,417.8 718.2,450 716.1,450.5" fill="#2040c0"/>
<polygon points="727.2,420.2 729.3,454.5 725,455.5" fill="#20b0b0" stroke="#000" stroke-width="0.35"/>
<polygon points="727.2,420.2 727.7,432.4 726.7,432.4" fill="#104060"/>
<polygon points="726.9,434.1 727.2,434.1 727.1,455 725,455.5" fill="#20b0b0"/>
<polygon points="737,453 738,460.5 736,461.5" fill="#20c080" stroke="#000" stroke-width="0.35"/>
<polygon points="737,453 737.5,455.8 736.5,455.8" fill="#20a080"/>
<polygon points="736.7,456.2 737,456.2 737,461 736,461.5" fill="#20c080"/>
<polygon points="760.7,419.3 761.6,425.2 762.5,432.3 762.5,443 755.6,444 755.6,430.2 759.1,426.9 759.9,424.5" fill="#20b070" stroke="#000" stroke-width="0.5"/>
<polygon points="755.6,430.2 759.1,426.9 759.5,431.2 758.8,443.5 755.6,444" fill="#20c080"/>
<polygon points="760.7,419.3 761.5,426.4 759.9,426.4" fill="#20a060"/>
<line x1="755.6" y1="430.2" x2="755.6" y2="444" stroke="#000" stroke-width="0.9"/>
<polygon points="769.7,427.7 771.5,448.1 768,449.1" fill="#20c080" stroke="#000" stroke-width="0.35"/>
<polygon points="769.7,427.7 770.2,435 769.2,435" fill="#20a060"/>
<polygon points="769.4,436.1 769.7,436.1 769.8,448.6 768,449.1" fill="#20c080"/>
<polygon points="778.7,414.2 779.8,454.1 777.2,455.1" fill="#20a0b0" stroke="#000" stroke-width="0.35"/>
<polygon points="778.7,414.2 779.2,428.3 778.2,428.3" fill="#111"/>
<polygon points="778.4,430.4 778.7,430.4 778.5,454.6 777.2,455.1" fill="#111"/>
<polygon points="812.5,400.2 813.4,410.6 814.9,423.2 814.9,442 807,443 807,419.4 810.9,413.6 811.7,409.4" fill="#2080c8" stroke="#000" stroke-width="0.5"/>
<polygon points="807,419.4 810.9,413.6 811.3,421.1 810.7,442.5 807,443" fill="#20b080"/>
<polygon points="812.5,400.2 813.3,412.7 811.7,412.7" fill="#2040c0"/>
<line x1="807" y1="419.4" x2="807" y2="443" stroke="#000" stroke-width="0.9"/>
<polygon points="822,415 823.8,446.5 820.2,447.5" fill="#20b0b0" stroke="#000" stroke-width="0.35"/>
<polygon points="822,415 822.5,426.2 821.5,426.2" fill="#108060"/>
<polygon points="821.7,427.8 822,427.8 822,447 820.2,447.5" fill="#20c0a0"/>
<polygon points="830.7,413.3 831.8,452.5 829.5,453.5" fill="#20a0b0" stroke="#000" stroke-width="0.35"/>
<polygon points="830.7,413.3 831.2,427.2 830.2,427.2" fill="#111"/>
<polygon points="830.4,429.2 830.7,429.2 830.6,453 829.5,453.5" fill="#111"/>
<polygon points="864.6,400 866.9,439.7 858.8,441 862,420" fill="#20a070"/>
<polygon points="863.9,405 865.6,405 866.6,440 863,441" fill="#2040c0"/>
<line x1="864.6" y1="344" x2="864.6" y2="360" stroke="#222" stroke-width="0.8"/>
<line x1="864.6" y1="358" x2="864.6" y2="412" stroke="#c01818" stroke-width="1.3"/>
<line x1="863.8" y1="380" x2="863.8" y2="440" stroke="#111" stroke-width="0.7"/>
<polygon points="874.1,405.3 875.9,445.1 872.3,446.1" fill="#20a0c0" stroke="#000" stroke-width="0.35"/>
<polygon points="874.1,405.3 874.6,419.4 873.6,419.4" fill="#111"/>
<polygon points="873.8,421.4 874.1,421.4 874.1,445.6 872.3,446.1" fill="#20b0b0"/>
<polygon points="882.2,404.7 884.3,451.1 880.7,452.1" fill="#2050c8" stroke="#000" stroke-width="0.35"/>
<polygon points="882.2,404.7 882.7,421.1 881.7,421.1" fill="#101050"/>
<polygon points="881.9,423.5 882.2,423.5 882.5,451.6 880.7,452.1" fill="#2040c0"/>
<text x="654.5" y="391" font-size="10" text-anchor="middle" class="sans" fill="#2a2a30" style="stroke:#2a2a30;stroke-width:0.2px">M</text>
<text x="709.6" y="372.2" font-size="10" text-anchor="middle" class="sans" fill="#2a2a30" style="stroke:#2a2a30;stroke-width:0.2px">K</text>
<text x="760" y="412" font-size="10" text-anchor="middle" class="sans" fill="#2a2a30" style="stroke:#2a2a30;stroke-width:0.2px">C</text>
<text x="813" y="394.6" font-size="10" text-anchor="middle" class="sans" fill="#2a2a30" style="stroke:#2a2a30;stroke-width:0.2px">B</text>
<text x="863.3" y="336.6" font-size="10" text-anchor="middle" class="sans" fill="#2a2a30" style="stroke:#2a2a30;stroke-width:0.2px">A</text>
<text x="768" y="310.2" font-size="9.6" text-anchor="middle" class="serif" fill="#111" textLength="90.3" lengthAdjust="spacingAndGlyphs">GRKRXDincbscale</text>
<text transform="translate(535.2,405) rotate(-90)" font-size="10.5" text-anchor="middle" class="serif" fill="#111" textLength="37.8" lengthAdjust="spacingAndGlyphs">Intensity</text>
<text x="554.3" y="485.2" font-size="7.8" text-anchor="end" class="sans" fill="#111" textLength="9" lengthAdjust="spacingAndGlyphs">60</text>
<text x="554.3" y="464.7" font-size="7.8" text-anchor="end" class="sans" fill="#111" textLength="9" lengthAdjust="spacingAndGlyphs">80</text>
<text x="554.3" y="444.3" font-size="7.8" text-anchor="end" class="sans" fill="#111" textLength="13.5" lengthAdjust="spacingAndGlyphs">100</text>
<text x="554.3" y="423.8" font-size="7.8" text-anchor="end" class="sans" fill="#111" textLength="13.5" lengthAdjust="spacingAndGlyphs">120</text>
<text x="554.3" y="403.3" font-size="7.8" text-anchor="end" class="sans" fill="#111" textLength="13.5" lengthAdjust="spacingAndGlyphs">140</text>
<text x="554.3" y="382.8" font-size="7.8" text-anchor="end" class="sans" fill="#111" textLength="13.5" lengthAdjust="spacingAndGlyphs">160</text>
<text x="554.3" y="362.4" font-size="7.8" text-anchor="end" class="sans" fill="#111" textLength="13.5" lengthAdjust="spacingAndGlyphs">180</text>
<text x="554.3" y="341.9" font-size="7.8" text-anchor="end" class="sans" fill="#111" textLength="13.5" lengthAdjust="spacingAndGlyphs">200</text>
<text x="554.3" y="321.4" font-size="7.8" text-anchor="end" class="sans" fill="#111" textLength="13.5" lengthAdjust="spacingAndGlyphs">220</text>
<text x="552.5" y="495.3" font-size="7.8" text-anchor="end" class="sans" fill="#111" textLength="4.4" lengthAdjust="spacingAndGlyphs">0</text>
<text x="584.5" y="515.3" font-size="7.8" text-anchor="end" class="sans" fill="#111" textLength="13.2" lengthAdjust="spacingAndGlyphs">100</text>
<text x="616.5" y="535.3" font-size="7.8" text-anchor="end" class="sans" fill="#111" textLength="13.2" lengthAdjust="spacingAndGlyphs">200</text>
<text x="981.4" y="532.7" font-size="7.8" text-anchor="start" class="sans" fill="#111" textLength="4.4" lengthAdjust="spacingAndGlyphs">0</text>
<text x="946.9" y="533.5" font-size="7.8" text-anchor="start" class="sans" fill="#111" textLength="8.8" lengthAdjust="spacingAndGlyphs">20</text>
<text x="912.3" y="534.4" font-size="7.8" text-anchor="start" class="sans" fill="#111" textLength="8.8" lengthAdjust="spacingAndGlyphs">40</text>
<text x="877.8" y="535.2" font-size="7.8" text-anchor="start" class="sans" fill="#111" textLength="8.8" lengthAdjust="spacingAndGlyphs">60</text>
<text x="843.2" y="536.1" font-size="7.8" text-anchor="start" class="sans" fill="#111" textLength="8.8" lengthAdjust="spacingAndGlyphs">80</text>
<text x="808.6" y="536.9" font-size="7.8" text-anchor="start" class="sans" fill="#111" textLength="13.2" lengthAdjust="spacingAndGlyphs">100</text>
<text x="774.1" y="537.8" font-size="7.8" text-anchor="start" class="sans" fill="#111" textLength="13.2" lengthAdjust="spacingAndGlyphs">120</text>
<text x="739.5" y="538.6" font-size="7.8" text-anchor="start" class="sans" fill="#111" textLength="13.2" lengthAdjust="spacingAndGlyphs">140</text>
<text x="705" y="539.5" font-size="7.8" text-anchor="start" class="sans" fill="#111" textLength="13.2" lengthAdjust="spacingAndGlyphs">160</text>
<text x="670.4" y="540.3" font-size="7.8" text-anchor="start" class="sans" fill="#111" textLength="13.2" lengthAdjust="spacingAndGlyphs">180</text>
<text x="635.9" y="541.2" font-size="7.8" text-anchor="start" class="sans" fill="#111" textLength="13.2" lengthAdjust="spacingAndGlyphs">200</text>
<text x="553.7" y="531.2" font-size="9.8" text-anchor="start" class="serif" fill="#111" textLength="21" lengthAdjust="spacingAndGlyphs">Pixel</text>
<text x="554.2" y="542.2" font-size="9.8" text-anchor="start" class="serif" fill="#111" textLength="30.5" lengthAdjust="spacingAndGlyphs">column</text>
<text x="775.2" y="558.7" font-size="10.2" text-anchor="middle" class="serif" fill="#111" textLength="41.5" lengthAdjust="spacingAndGlyphs">Pixel row</text>
<linearGradient id="cbd" x1="0" y1="1" x2="0" y2="0">
<stop offset="0%" stop-color="#ff0000"/>
<stop offset="1.6%" stop-color="#ff1700"/>
<stop offset="3.1%" stop-color="#ff2f00"/>
<stop offset="4.7%" stop-color="#ff4700"/>
<stop offset="6.2%" stop-color="#ff5f00"/>
<stop offset="7.8%" stop-color="#ff7700"/>
<stop offset="9.4%" stop-color="#ff8f00"/>
<stop offset="10.9%" stop-color="#ffa700"/>
<stop offset="12.5%" stop-color="#ffbf00"/>
<stop offset="14.1%" stop-color="#ffd700"/>
<stop offset="15.6%" stop-color="#ffef00"/>
<stop offset="17.2%" stop-color="#f7ff00"/>
<stop offset="18.8%" stop-color="#dfff00"/>
<stop offset="20.3%" stop-color="#c7ff00"/>
<stop offset="21.9%" stop-color="#afff00"/>
<stop offset="23.4%" stop-color="#97ff00"/>
<stop offset="25%" stop-color="#7fff00"/>
<stop offset="26.6%" stop-color="#67ff00"/>
<stop offset="28.1%" stop-color="#4fff00"/>
<stop offset="29.7%" stop-color="#37ff00"/>
<stop offset="31.2%" stop-color="#1fff00"/>
<stop offset="32.8%" stop-color="#07ff00"/>
<stop offset="34.4%" stop-color="#00ff0f"/>
<stop offset="35.9%" stop-color="#00ff27"/>
<stop offset="37.5%" stop-color="#00ff3f"/>
<stop offset="39.1%" stop-color="#00ff57"/>
<stop offset="40.6%" stop-color="#00ff6f"/>
<stop offset="42.2%" stop-color="#00ff87"/>
<stop offset="43.8%" stop-color="#00ff9f"/>
<stop offset="45.3%" stop-color="#00ffb7"/>
<stop offset="46.9%" stop-color="#00ffcf"/>
<stop offset="48.4%" stop-color="#00ffe7"/>
<stop offset="50%" stop-color="#00ffff"/>
<stop offset="51.6%" stop-color="#00e7ff"/>
<stop offset="53.1%" stop-color="#00cfff"/>
<stop offset="54.7%" stop-color="#00b7ff"/>
<stop offset="56.2%" stop-color="#009fff"/>
<stop offset="57.8%" stop-color="#0087ff"/>
<stop offset="59.4%" stop-color="#006fff"/>
<stop offset="60.9%" stop-color="#0057ff"/>
<stop offset="62.5%" stop-color="#003fff"/>
<stop offset="64.1%" stop-color="#0027ff"/>
<stop offset="65.6%" stop-color="#000fff"/>
<stop offset="67.2%" stop-color="#0700ff"/>
<stop offset="68.8%" stop-color="#1f00ff"/>
<stop offset="70.3%" stop-color="#3700ff"/>
<stop offset="71.9%" stop-color="#4f00ff"/>
<stop offset="73.4%" stop-color="#6700ff"/>
<stop offset="75%" stop-color="#7f00ff"/>
<stop offset="76.6%" stop-color="#9700ff"/>
<stop offset="78.1%" stop-color="#af00ff"/>
<stop offset="79.7%" stop-color="#c700ff"/>
<stop offset="81.2%" stop-color="#df00ff"/>
<stop offset="82.8%" stop-color="#f700ff"/>
<stop offset="84.4%" stop-color="#ff00ef"/>
<stop offset="85.9%" stop-color="#ff00d7"/>
<stop offset="87.5%" stop-color="#ff00bf"/>
<stop offset="89.1%" stop-color="#ff00a7"/>
<stop offset="90.6%" stop-color="#ff008f"/>
<stop offset="92.2%" stop-color="#ff0077"/>
<stop offset="93.8%" stop-color="#ff005f"/>
<stop offset="95.3%" stop-color="#ff0047"/>
<stop offset="96.9%" stop-color="#ff002f"/>
<stop offset="98.4%" stop-color="#ff0017"/>
<stop offset="100%" stop-color="#ff0001"/>
</linearGradient>
<rect x="985.1" y="316.1" width="15.5" height="211.5" fill="url(#cbd)" stroke="#222" stroke-width="0.6"/>
<path d="M985.1 317h2M1000.6 317h-2" stroke="#111" stroke-width="0.7"/>
<text x="1003.4" y="319.4" font-size="7.6" text-anchor="start" class="sans" fill="#111" textLength="12.6" lengthAdjust="spacingAndGlyphs">200</text>
<path d="M985.1 349.4h2M1000.6 349.4h-2" stroke="#111" stroke-width="0.7"/>
<text x="1003.4" y="351.7" font-size="7.6" text-anchor="start" class="sans" fill="#111" textLength="12.6" lengthAdjust="spacingAndGlyphs">180</text>
<path d="M985.1 381.7h2M1000.6 381.7h-2" stroke="#111" stroke-width="0.7"/>
<text x="1003.4" y="384.1" font-size="7.6" text-anchor="start" class="sans" fill="#111" textLength="12.6" lengthAdjust="spacingAndGlyphs">160</text>
<path d="M985.1 414.1h2M1000.6 414.1h-2" stroke="#111" stroke-width="0.7"/>
<text x="1003.4" y="416.4" font-size="7.6" text-anchor="start" class="sans" fill="#111" textLength="12.6" lengthAdjust="spacingAndGlyphs">140</text>
<path d="M985.1 446.4h2M1000.6 446.4h-2" stroke="#111" stroke-width="0.7"/>
<text x="1003.4" y="448.8" font-size="7.6" text-anchor="start" class="sans" fill="#111" textLength="12.6" lengthAdjust="spacingAndGlyphs">120</text>
<path d="M985.1 478.8h2M1000.6 478.8h-2" stroke="#111" stroke-width="0.7"/>
<text x="1003.4" y="481.2" font-size="7.6" text-anchor="start" class="sans" fill="#111" textLength="12.6" lengthAdjust="spacingAndGlyphs">100</text>
<path d="M985.1 511.2h2M1000.6 511.2h-2" stroke="#111" stroke-width="0.7"/>
<text x="1003.4" y="513.5" font-size="7.6" text-anchor="start" class="sans" fill="#111" textLength="8.4" lengthAdjust="spacingAndGlyphs">80</text>
<text x="771.5" y="592.5" font-size="26" text-anchor="middle" class="cap serif" fill="#000">(<tspan font-weight="bold">d</tspan>)</text>
</svg></body></html>
